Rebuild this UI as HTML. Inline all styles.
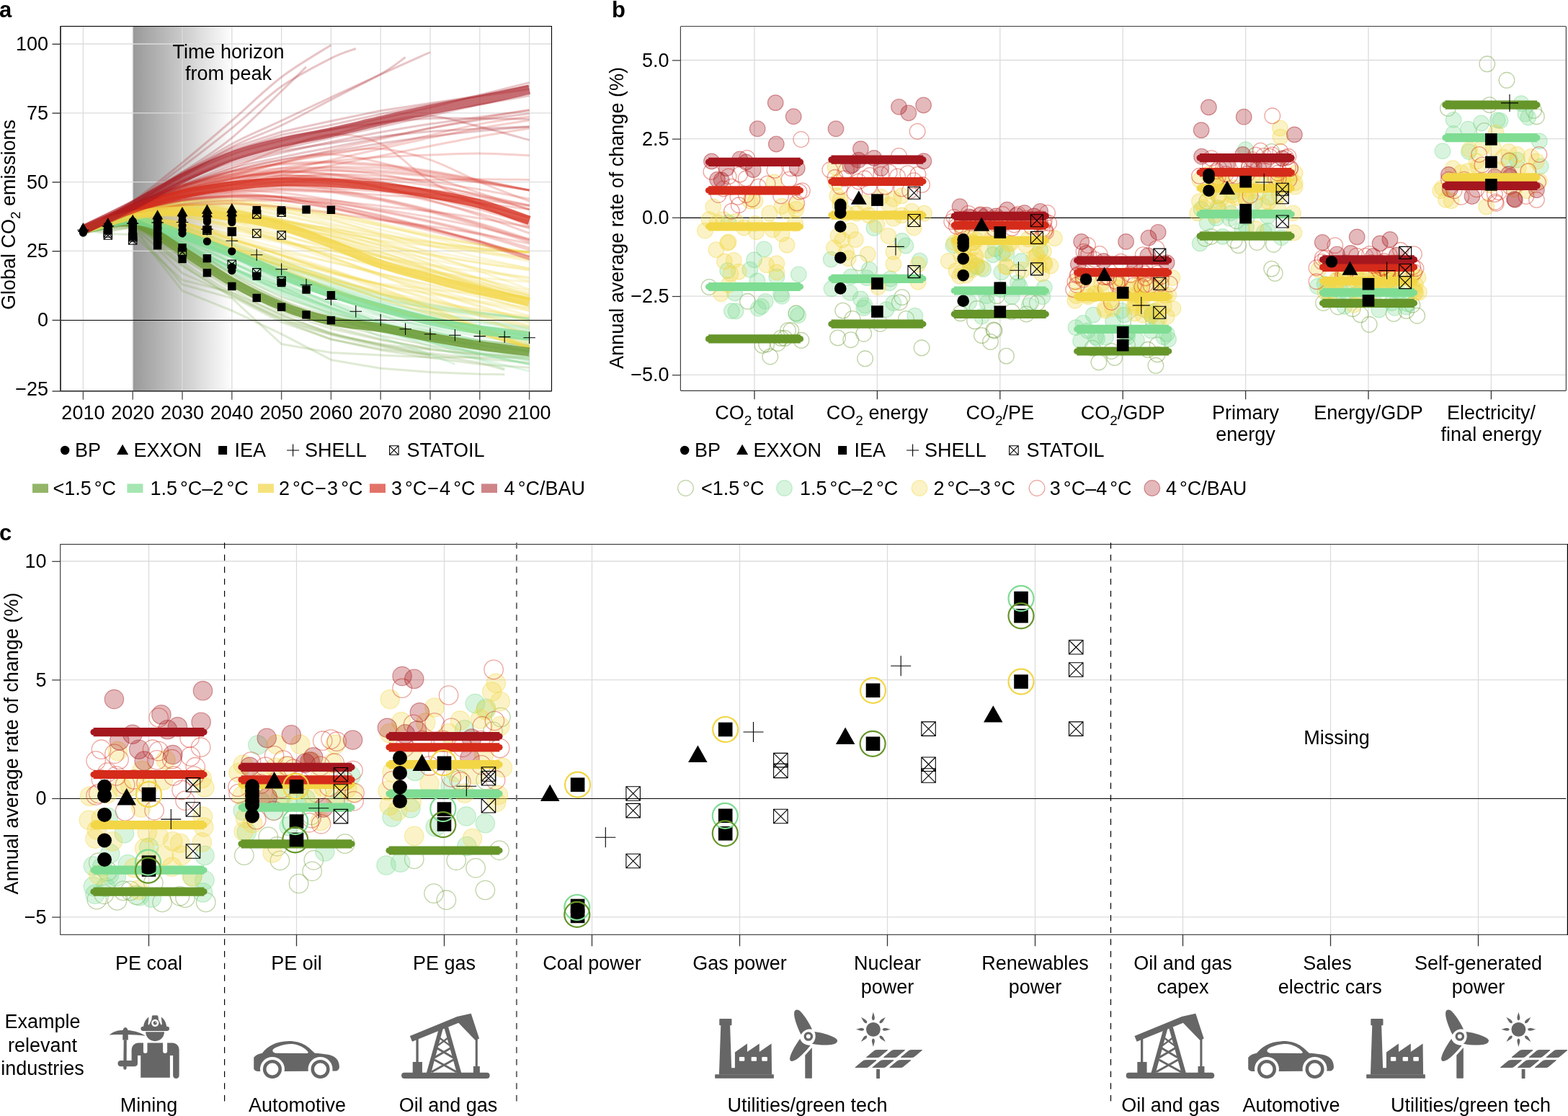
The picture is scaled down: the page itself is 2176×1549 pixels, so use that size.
<!DOCTYPE html>
<html lang="en"><head><meta charset="utf-8"><title>Figure</title>
<style>
html,body{margin:0;padding:0;background:#fff;}
body{width:2176px;height:1549px;overflow:hidden;}
svg{display:block;font-family:'Liberation Sans', Arial, Helvetica, sans-serif;}
text{fill:#000;}
</style></head><body>
<svg width="2176" height="1549" viewBox="0 0 2176 1549">
<defs>
<linearGradient id="gh" x1="0" x2="1" y1="0" y2="0">
<stop offset="0" stop-color="#999"/><stop offset="0.25" stop-color="#b2b2b2"/><stop offset="0.5" stop-color="#cbcbcb"/><stop offset="0.75" stop-color="#e6e6e6"/><stop offset="1" stop-color="#fff"/>
</linearGradient>
</defs>
<rect width="2176" height="1549" fill="#fff"/>
<g id="panel-a">
<text x="-1" y="23.5" text-anchor="start" font-size="31" font-weight="bold" >a</text>
<rect x="184.2" y="36.5" width="139.6" height="506.2" fill="url(#gh)" stroke="none" stroke-width="1" />
<line x1="115.4" y1="36.5" x2="115.4" y2="542.7" stroke="#dcdcdc" stroke-width="1.3" />
<line x1="184.2" y1="36.5" x2="184.2" y2="542.7" stroke="#dcdcdc" stroke-width="1.3" />
<line x1="253" y1="36.5" x2="253" y2="542.7" stroke="#dcdcdc" stroke-width="1.3" />
<line x1="321.8" y1="36.5" x2="321.8" y2="542.7" stroke="#dcdcdc" stroke-width="1.3" />
<line x1="390.6" y1="36.5" x2="390.6" y2="542.7" stroke="#dcdcdc" stroke-width="1.3" />
<line x1="459.4" y1="36.5" x2="459.4" y2="542.7" stroke="#dcdcdc" stroke-width="1.3" />
<line x1="528.2" y1="36.5" x2="528.2" y2="542.7" stroke="#dcdcdc" stroke-width="1.3" />
<line x1="597" y1="36.5" x2="597" y2="542.7" stroke="#dcdcdc" stroke-width="1.3" />
<line x1="665.8" y1="36.5" x2="665.8" y2="542.7" stroke="#dcdcdc" stroke-width="1.3" />
<line x1="734.6" y1="36.5" x2="734.6" y2="542.7" stroke="#dcdcdc" stroke-width="1.3" />
<line x1="84" y1="348.4" x2="765.5" y2="348.4" stroke="#dcdcdc" stroke-width="1.3" />
<line x1="84" y1="252.6" x2="765.5" y2="252.6" stroke="#dcdcdc" stroke-width="1.3" />
<line x1="84" y1="156.8" x2="765.5" y2="156.8" stroke="#dcdcdc" stroke-width="1.3" />
<line x1="84" y1="61" x2="765.5" y2="61" stroke="#dcdcdc" stroke-width="1.3" />
<clipPath id="clipa"><rect x="84" y="36.5" width="681.5" height="506.20000000000005"/></clipPath>
<g clip-path="url(#clipa)" fill="none" stroke-linejoin="round">
<path d="M115.4 318.9L149.8 319.7L184.2 314.7L253 394.8L321.8 413.9L390.6 477.5L459.4 489.4L528.2 492.9L597 495.9L665.8 495.9L734.6 495.9" stroke="#66952a" stroke-opacity="0.2" stroke-width="3"/><path d="M115.4 318.9L149.8 321.6L184.2 315.8L253 403.6L321.8 431.2L390.6 463.7L459.4 499.4L528.2 511.3L597 516.6L665.8 519.3L700.2 519.7" stroke="#66952a" stroke-opacity="0.2" stroke-width="3"/><path d="M115.4 318.9L149.8 324.6L184.2 325.4L253 388.6L321.8 405.9L390.6 436.5L459.4 463.4L528.2 478.7L597 490.2L665.8 497.8L734.6 503.6" stroke="#66952a" stroke-opacity="0.2" stroke-width="3"/><path d="M115.4 318.9L149.8 317.7L184.2 312L253 379.1L321.8 409.7L390.6 444.2L459.4 471L528.2 484.4L597 492.1L665.8 503.6L700.2 513.2" stroke="#66952a" stroke-opacity="0.2" stroke-width="3"/><path d="M115.4 318.9C126.9 317.8 161.3 305.6 184.2 312.1C207.1 318.6 230.1 343.1 253 358C275.9 372.9 298.9 388.3 321.8 401.5C344.7 414.7 367.7 427.2 390.6 437.3C413.5 447.3 436.5 454.6 459.4 461.6C482.3 468.5 505.3 473.6 528.2 478.8C551.1 484 585.5 490.4 597 492.7" stroke="#66952a" stroke-opacity="0.2" stroke-width="3"/><path d="M115.4 318.9L184.2 315.2L253 369.1L321.8 411.9L390.6 447.1L459.4 470.8L528.2 485.9L597 496.6L665.8 505.4L734.6 510.3" stroke="#66952a" stroke-opacity="0.2" stroke-width="3"/><path d="M115.4 318.9C126.9 318.2 161.3 306.7 184.2 314.8C207.1 322.9 230.1 351.7 253 367.4C275.9 383.1 298.9 396.3 321.8 408.8C344.7 421.3 367.7 433.2 390.6 442.6C413.5 451.9 436.5 458.4 459.4 464.8C482.3 471.2 505.3 475.9 528.2 480.8C551.1 485.6 585.5 491.6 597 493.8" stroke="#66952a" stroke-opacity="0.2" stroke-width="3"/><path d="M115.4 318.9L184.2 309.1L253 347.2L321.8 391.4L390.6 427.9L459.4 452.9L528.2 470.6L597 484.7" stroke="#66952a" stroke-opacity="0.2" stroke-width="3"/><path d="M115.4 318.9C126.9 316.7 161.3 303.2 184.2 306C207.1 308.8 230.1 323.3 253 335.7C275.9 348 298.9 366.6 321.8 380.2C344.7 393.7 367.7 406.7 390.6 417C413.5 427.4 436.5 435.5 459.4 442.4C482.3 449.3 505.3 454 528.2 458.6C551.1 463.2 574.1 466.7 597 469.9C619.9 473.2 654.3 476.7 665.8 478.1" stroke="#66952a" stroke-opacity="0.2" stroke-width="3"/><path d="M115.4 318.9L184.2 308L253 343L321.8 387L390.6 423.3L459.4 448.2L528.2 465.6L597 479.5L665.8 490.7L734.6 498.9" stroke="#66952a" stroke-opacity="0.2" stroke-width="3"/><path d="M115.4 318.9C126.9 317 161.3 303.9 184.2 307.6C207.1 311.4 230.1 328.7 253 341.2C275.9 353.7 298.9 370.1 321.8 382.6C344.7 395.1 367.7 407 390.6 416.3C413.5 425.7 436.5 432.4 459.4 438.6C482.3 444.8 505.3 449.2 528.2 453.7C551.1 458.1 574.1 461.9 597 465.2C619.9 468.5 642.9 471.1 665.8 473.4C688.7 475.7 723.1 478.3 734.6 479.2" stroke="#66952a" stroke-opacity="0.2" stroke-width="3"/><path d="M115.4 318.9L184.2 306.9L253 338.4L321.8 379.2L390.6 412.4L459.4 434.1L528.2 449.9L597 463.1L665.8 472.8L734.6 480.3" stroke="#66952a" stroke-opacity="0.2" stroke-width="3"/><path d="M115.4 318.9C126.9 318 161.3 306.3 184.2 313.8C207.1 321.2 230.1 348.4 253 363.8C275.9 379.2 298.9 393.2 321.8 406C344.7 418.7 367.7 430.9 390.6 440.4C413.5 450 436.5 457.3 459.4 463.4C482.3 469.5 505.3 473.3 528.2 477C551.1 480.7 574.1 483.1 597 485.5C619.9 488 642.9 490 665.8 491.5C688.7 492.9 723.1 493.7 734.6 494.2" stroke="#66952a" stroke-opacity="0.2" stroke-width="3"/><path d="M115.4 318.9L184.2 311.9L253 356.9L321.8 398.9L390.6 433.3L459.4 456.2L528.2 471.9L597 484L665.8 493.6" stroke="#66952a" stroke-opacity="0.2" stroke-width="3"/>
<path d="M115.4 318.9C126.9 316.8 161.3 303.2 184.2 306.2C207.1 309.2 230.1 326 253 336.9C275.9 347.8 298.9 359.9 321.8 371.4C344.7 382.9 367.7 395 390.6 405.9C413.5 416.7 436.5 426.3 459.4 436.5C482.3 446.8 505.3 457.9 528.2 467.2C551.1 476.5 579.8 485.7 597 492.1C614.2 498.5 625.7 503.3 631.4 505.5" stroke="#7fdc93" stroke-opacity="0.25" stroke-width="3"/><path d="M115.4 318.9C126.9 316.5 161.3 302.6 184.2 304.3C207.1 306.1 230.1 319.3 253 329.2C275.9 339.1 298.9 352.2 321.8 363.7C344.7 375.2 367.7 387.4 390.6 398.2C413.5 409.1 436.5 419.3 459.4 428.9C482.3 438.5 505.3 447.1 528.2 455.7C551.1 464.3 574.1 473.3 597 480.6C619.9 487.9 648.6 494.5 665.8 499.8C683 505 694.5 510 700.2 512" stroke="#7fdc93" stroke-opacity="0.25" stroke-width="3"/><path d="M115.4 318.9C126.9 316.5 161.3 303.2 184.2 304.3C207.1 305.4 230.1 316.8 253 325.4C275.9 334 298.9 345.2 321.8 356.1C344.7 366.9 367.7 379.7 390.6 390.6C413.5 401.4 436.5 411.6 459.4 421.2C482.3 430.8 505.3 439.1 528.2 448C551.1 457 574.1 466.6 597 474.9C619.9 483.2 642.9 491.1 665.8 497.8C688.7 504.6 723.1 512.2 734.6 515.1" stroke="#7fdc93" stroke-opacity="0.25" stroke-width="3"/><path d="M115.4 318.9L184.2 306.8L253 333.8L321.8 364.5L390.6 389.6L459.4 411.9L528.2 431.7L597 443.6L665.8 452.9L734.6 459.2" stroke="#7fdc93" stroke-opacity="0.25" stroke-width="3"/><path d="M115.4 318.9C126.9 316.5 161.3 303.4 184.2 304.7C207.1 306.1 230.1 318.9 253 327.1C275.9 335.2 298.9 345.6 321.8 353.8C344.7 362 367.7 369 390.6 376.2C413.5 383.4 436.5 389.8 459.4 396.8C482.3 403.7 505.3 412 528.2 418C551.1 424 574.1 428.4 597 432.8C619.9 437.2 642.9 440.9 665.8 444.4C688.7 447.9 723.1 452.2 734.6 453.8" stroke="#7fdc93" stroke-opacity="0.25" stroke-width="3"/><path d="M115.4 318.9C126.9 316.6 161.3 303.6 184.2 305.3C207.1 307.1 230.1 320.2 253 329.3C275.9 338.4 298.9 350.4 321.8 360C344.7 369.6 367.7 378.2 390.6 386.8C413.5 395.4 436.5 404.1 459.4 411.6C482.3 419.2 505.3 426.8 528.2 432C551.1 437.3 574.1 439.9 597 443.2C619.9 446.4 654.3 450.2 665.8 451.7" stroke="#7fdc93" stroke-opacity="0.25" stroke-width="3"/><path d="M115.4 318.9C126.9 316.4 161.3 302.8 184.2 303.7C207.1 304.6 230.1 316 253 324.4C275.9 332.9 298.9 344.8 321.8 354.5C344.7 364.1 367.7 373.3 390.6 382.4C413.5 391.5 436.5 400.3 459.4 409.2C482.3 418.1 505.3 427.9 528.2 435.5C551.1 443.2 574.1 448.7 597 455C619.9 461.3 642.9 467.6 665.8 473.1C688.7 478.7 723.1 486 734.6 488.5" stroke="#7fdc93" stroke-opacity="0.25" stroke-width="3"/><path d="M115.4 318.9L184.2 302.2L253 319.6L321.8 347.1L390.6 373.8L459.4 399.8L528.2 424.3L597 440.6L665.8 454.4L734.6 465.8" stroke="#7fdc93" stroke-opacity="0.25" stroke-width="3"/><path d="M115.4 318.9L184.2 305.7L253 330.9L321.8 365.7L390.6 397.4L459.4 427.3L528.2 452.3L597 468.2L665.8 483.4" stroke="#7fdc93" stroke-opacity="0.25" stroke-width="3"/><path d="M115.4 318.9C126.9 317 161.3 304.7 184.2 307.7C207.1 310.7 230.1 326.4 253 336.9C275.9 347.3 298.9 360.3 321.8 370.5C344.7 380.8 367.7 389.5 390.6 398.2C413.5 406.9 436.5 414.8 459.4 422.9C482.3 431.1 505.3 440.1 528.2 447.1C551.1 454.1 574.1 459.1 597 465C619.9 470.8 654.3 479.3 665.8 482.1" stroke="#7fdc93" stroke-opacity="0.25" stroke-width="3"/><path d="M115.4 318.9C126.9 317 161.3 304.5 184.2 307.4C207.1 310.3 230.1 325.5 253 336.3C275.9 347.2 298.9 361.3 321.8 372.6C344.7 383.8 367.7 393.9 390.6 403.9C413.5 413.9 436.5 423.6 459.4 432.6C482.3 441.5 505.3 450.6 528.2 457.7C551.1 464.8 574.1 469.2 597 474.9C619.9 480.6 642.9 486.9 665.8 492C688.7 497.1 723.1 503.3 734.6 505.5" stroke="#7fdc93" stroke-opacity="0.25" stroke-width="3"/><path d="M115.4 318.9L184.2 300.6L253 314.4L321.8 338L390.6 361.6L459.4 385.2L528.2 407.9L597 422.6L665.8 433.4L734.6 442.3" stroke="#7fdc93" stroke-opacity="0.25" stroke-width="3"/><path d="M115.4 318.9L184.2 308.6L253 340.1L321.8 377.1L390.6 407.9L459.4 435.5L528.2 456.9L597 468.7L665.8 479.7L734.6 486.9" stroke="#7fdc93" stroke-opacity="0.25" stroke-width="3"/><path d="M115.4 318.9L184.2 307.4L253 336.1L321.8 371.9L390.6 402.7L459.4 430.8L528.2 456.1L597 473.9L665.8 491.4L734.6 505.5" stroke="#7fdc93" stroke-opacity="0.25" stroke-width="3"/><path d="M115.4 318.9C126.9 317.2 161.3 305.3 184.2 308.9C207.1 312.4 230.1 329.6 253 340.2C275.9 350.8 298.9 363.1 321.8 372.6C344.7 382 367.7 389.5 390.6 397.1C413.5 404.7 436.5 411 459.4 418C482.3 425 505.3 432.9 528.2 438.8C551.1 444.8 574.1 449.1 597 453.7C619.9 458.4 642.9 463.1 665.8 467C688.7 470.9 723.1 475.4 734.6 477.1" stroke="#7fdc93" stroke-opacity="0.25" stroke-width="3"/><path d="M115.4 318.9C126.9 316.7 161.3 303.8 184.2 305.7C207.1 307.6 230.1 321.5 253 330.1C275.9 338.6 298.9 349.1 321.8 357.3C344.7 365.4 367.7 372.2 390.6 379.1C413.5 386 436.5 391.9 459.4 398.7C482.3 405.4 505.3 413.5 528.2 419.4C551.1 425.4 574.1 429.8 597 434.3C619.9 438.7 642.9 442.5 665.8 446.1C688.7 449.6 723.1 454 734.6 455.5" stroke="#7fdc93" stroke-opacity="0.25" stroke-width="3"/><path d="M115.4 318.9L184.2 306.3L253 332.5L321.8 365.4L390.6 393.9L459.4 420.2L528.2 443.9L597 459.9L665.8 474.7L734.6 486.4" stroke="#7fdc93" stroke-opacity="0.25" stroke-width="3"/><path d="M115.4 318.9L184.2 300.6L253 314.6L321.8 339.8L390.6 365.4L459.4 391.1L528.2 414.2L597 428L665.8 438.5L734.6 446.6" stroke="#7fdc93" stroke-opacity="0.25" stroke-width="3"/><path d="M115.4 318.9L184.2 304.7L253 326.9L321.8 354.5L390.6 378.2L459.4 400.1L528.2 423.2L597 440.4L665.8 455.2L734.6 467.6" stroke="#7fdc93" stroke-opacity="0.25" stroke-width="3"/><path d="M115.4 318.9C126.9 317.1 161.3 304.9 184.2 308.1C207.1 311.3 230.1 327.3 253 338.2C275.9 349.1 298.9 362.8 321.8 373.6C344.7 384.3 367.7 393.6 390.6 402.9C413.5 412.2 436.5 420.8 459.4 429.2C482.3 437.6 505.3 446.4 528.2 453.2C551.1 460 574.1 464.5 597 470.1C619.9 475.6 642.9 481.6 665.8 486.5C688.7 491.3 723.1 497.2 734.6 499.4" stroke="#7fdc93" stroke-opacity="0.25" stroke-width="3"/><path d="M115.4 318.9C126.9 316.7 161.3 303.6 184.2 305.5C207.1 307.4 230.1 320.6 253 330.3C275.9 340 298.9 353.2 321.8 363.8C344.7 374.4 367.7 384.2 390.6 393.9C413.5 403.6 436.5 413.1 459.4 422.1C482.3 431.1 505.3 440.6 528.2 447.9C551.1 455.2 574.1 460 597 465.9C619.9 471.8 642.9 478 665.8 483.3C688.7 488.5 723.1 495.1 734.6 497.4" stroke="#7fdc93" stroke-opacity="0.25" stroke-width="3"/><path d="M115.4 318.9C126.9 316.9 161.3 304.4 184.2 307.1C207.1 309.8 230.1 324.7 253 335.1C275.9 345.6 298.9 359.1 321.8 369.8C344.7 380.5 367.7 390 390.6 399.5C413.5 408.9 436.5 417.8 459.4 426.6C482.3 435.4 505.3 444.8 528.2 452.3C551.1 459.8 574.1 465 597 471.3C619.9 477.6 642.9 484.4 665.8 490.1C688.7 495.8 723.1 502.9 734.6 505.5" stroke="#7fdc93" stroke-opacity="0.25" stroke-width="3"/><path d="M115.4 318.9C126.9 316.3 161.3 302.7 184.2 303.5C207.1 304.2 230.1 315.3 253 323.5C275.9 331.6 298.9 343 321.8 352.3C344.7 361.6 367.7 370.3 390.6 379.1C413.5 387.8 436.5 396.7 459.4 404.7C482.3 412.8 505.3 421.3 528.2 427.3C551.1 433.4 574.1 437 597 441.1C619.9 445.3 642.9 449 665.8 452.3C688.7 455.6 723.1 459.4 734.6 460.8" stroke="#7fdc93" stroke-opacity="0.25" stroke-width="3"/><path d="M115.4 318.9C126.9 316.3 161.3 302.8 184.2 303.5C207.1 304.2 230.1 315.7 253 323C275.9 330.4 298.9 339.9 321.8 347.6C344.7 355.2 367.7 362 390.6 368.9C413.5 375.8 436.5 382 459.4 388.8C482.3 395.6 505.3 403.8 528.2 409.6C551.1 415.4 574.1 419.6 597 423.7C619.9 427.8 642.9 430.9 665.8 434C688.7 437.1 723.1 440.9 734.6 442.3" stroke="#7fdc93" stroke-opacity="0.25" stroke-width="3"/><path d="M115.4 318.9C126.9 317.3 161.3 305.4 184.2 309.2C207.1 313 230.1 330.3 253 341.5C275.9 352.7 298.9 365.9 321.8 376.2C344.7 386.5 367.7 394.9 390.6 403.4C413.5 411.8 436.5 419.6 459.4 426.9C482.3 434.3 505.3 441.9 528.2 447.4C551.1 453 574.1 456.3 597 460.4C619.9 464.5 642.9 468.6 665.8 471.9C688.7 475.2 723.1 478.7 734.6 480.1" stroke="#7fdc93" stroke-opacity="0.25" stroke-width="3"/><path d="M115.4 318.9C126.9 317.1 161.3 304.8 184.2 307.9C207.1 311.1 230.1 327 253 337.7C275.9 348.4 298.9 361.8 321.8 372.3C344.7 382.9 367.7 391.9 390.6 401C413.5 410 436.5 418.5 459.4 426.6C482.3 434.6 505.3 443 528.2 449.3C551.1 455.6 574.1 459.5 597 464.3C619.9 469.2 642.9 474.2 665.8 478.4C688.7 482.5 723.1 487.3 734.6 489.1" stroke="#7fdc93" stroke-opacity="0.25" stroke-width="3"/><path d="M115.4 318.9C126.9 316.2 161.3 302.3 184.2 302.5C207.1 302.8 230.1 313.1 253 320.4C275.9 327.7 298.9 338 321.8 346.4C344.7 354.8 367.7 362.8 390.6 370.8C413.5 378.8 436.5 386.9 459.4 394.3C482.3 401.7 505.3 409.8 528.2 415.3C551.1 420.9 574.1 424.1 597 427.5C619.9 431 642.9 433.6 665.8 436.1C688.7 438.5 723.1 441.2 734.6 442.3" stroke="#7fdc93" stroke-opacity="0.25" stroke-width="3"/><path d="M115.4 318.9C126.9 316.1 161.3 302.2 184.2 302.4C207.1 302.6 230.1 312.6 253 320.2C275.9 327.8 298.9 338.9 321.8 348.1C344.7 357.2 367.7 366.1 390.6 374.9C413.5 383.8 436.5 392.6 459.4 401.2C482.3 409.8 505.3 419.2 528.2 426.3C551.1 433.4 574.1 438.3 597 443.8C619.9 449.2 642.9 454.4 665.8 459.1C688.7 463.7 723.1 469.7 734.6 471.8" stroke="#7fdc93" stroke-opacity="0.25" stroke-width="3"/><path d="M115.4 318.9L184.2 302.5L253 320.5L321.8 348.2L390.6 374.6L459.4 400.3L528.2 423.2L597 437.2L665.8 448.5L734.6 457.1" stroke="#7fdc93" stroke-opacity="0.25" stroke-width="3"/><path d="M115.4 318.9L184.2 302.3L253 319.7L321.8 344.9L390.6 368.5L459.4 391.3L528.2 412.6L597 425.7L665.8 435.1L734.6 442.3" stroke="#7fdc93" stroke-opacity="0.25" stroke-width="3"/><path d="M115.4 318.9C126.9 317.3 161.3 305.3 184.2 309.1C207.1 312.9 230.1 329.9 253 341.5C275.9 353.2 298.9 367.7 321.8 379.1C344.7 390.6 367.7 400.3 390.6 410.1C413.5 419.9 436.5 429.2 459.4 437.7C482.3 446.1 505.3 454.4 528.2 460.7C551.1 467 574.1 470.6 597 475.5C619.9 480.4 642.9 485.8 665.8 490C688.7 494.2 723.1 499 734.6 500.8" stroke="#7fdc93" stroke-opacity="0.25" stroke-width="3"/><path d="M115.4 318.9C126.9 316.5 161.3 303 184.2 304.2C207.1 305.4 230.1 317.3 253 326C275.9 334.7 298.9 346.7 321.8 356.4C344.7 366.1 367.7 375.1 390.6 384.1C413.5 393.1 436.5 401.6 459.4 410.5C482.3 419.4 505.3 429.5 528.2 437.4C551.1 445.4 574.1 451.5 597 458.3C619.9 465.1 642.9 472 665.8 478.2C688.7 484.3 723.1 492.4 734.6 495.3" stroke="#7fdc93" stroke-opacity="0.25" stroke-width="3"/><path d="M115.4 318.9L184.2 302.1L253 319.3L321.8 347.6L390.6 375.5L459.4 402.8L528.2 428.5L597 446L665.8 461.5L734.6 474.4" stroke="#7fdc93" stroke-opacity="0.25" stroke-width="3"/>
<path d="M115.4 318.9L184.2 294.5L253 284.1L321.8 283.8L390.6 293.2L459.4 305.8L528.2 322.9L597 341L665.8 357.6L734.6 372.9" stroke="#f2d646" stroke-opacity="0.23" stroke-width="3"/><path d="M115.4 318.9C126.9 314.7 161.3 299.9 184.2 293.7C207.1 287.5 230.1 284 253 281.7C275.9 279.3 298.9 278.3 321.8 279.3C344.7 280.3 367.7 284.2 390.6 287.5C413.5 290.8 436.5 294.7 459.4 299.1C482.3 303.5 505.3 308.9 528.2 313.7C551.1 318.5 574.1 323.5 597 327.9C619.9 332.3 642.9 336.4 665.8 340.1C688.7 343.9 723.1 348.6 734.6 350.3" stroke="#f2d646" stroke-opacity="0.23" stroke-width="3"/><path d="M115.4 318.9L184.2 306.9L253 317.7L321.8 343L390.6 364.7L459.4 384.5L528.2 406.8L597 431.6L665.8 456.8L734.6 482.5" stroke="#f2d646" stroke-opacity="0.23" stroke-width="3"/><path d="M115.4 318.9C126.9 315.6 161.3 302.8 184.2 299.1C207.1 295.4 230.1 295.4 253 296.6C275.9 297.8 298.9 302.2 321.8 306.2C344.7 310.2 367.7 315.6 390.6 320.6C413.5 325.7 436.5 330.7 459.4 336.4C482.3 342.1 505.3 348.5 528.2 354.7C551.1 360.9 574.1 367.5 597 373.6C619.9 379.7 642.9 385.7 665.8 391.5C688.7 397.3 723.1 405.7 734.6 408.5" stroke="#f2d646" stroke-opacity="0.23" stroke-width="3"/><path d="M115.4 318.9L184.2 299L253 296.2L321.8 303.5L390.6 315L459.4 327.3L528.2 345.5L597 366.7L665.8 387.1L734.6 406.8" stroke="#f2d646" stroke-opacity="0.23" stroke-width="3"/><path d="M115.4 318.9C126.9 315.7 161.3 303.1 184.2 299.8C207.1 296.4 230.1 296.5 253 298.8C275.9 301 298.9 307.6 321.8 313.4C344.7 319.3 367.7 326.7 390.6 333.9C413.5 341 436.5 348.2 459.4 356.3C482.3 364.3 505.3 373.3 528.2 382.3C551.1 391.3 574.1 400.8 597 410.1C619.9 419.4 642.9 428.7 665.8 438.2C688.7 447.6 723.1 462.2 734.6 467" stroke="#f2d646" stroke-opacity="0.23" stroke-width="3"/><path d="M115.4 318.9C126.9 316.8 161.3 306.9 184.2 306.6C207.1 306.3 230.1 311 253 317.2C275.9 323.5 298.9 335.6 321.8 344.3C344.7 352.9 367.7 361 390.6 369C413.5 377 436.5 385.8 459.4 392.3C482.3 398.9 505.3 403.9 528.2 408.5C551.1 413.1 574.1 416.3 597 419.9C619.9 423.5 642.9 427 665.8 430.2C688.7 433.5 723.1 437.7 734.6 439.2" stroke="#f2d646" stroke-opacity="0.23" stroke-width="3"/><path d="M115.4 318.9L184.2 305.2L253 313.3L321.8 336.6L390.6 358.8L459.4 380.1L528.2 393.6L597 401.5L665.8 407.9L734.6 412.3" stroke="#f2d646" stroke-opacity="0.23" stroke-width="3"/><path d="M115.4 318.9C126.9 315.8 161.3 303.6 184.2 300.5C207.1 297.4 230.1 298.4 253 300.3C275.9 302.2 298.9 307.6 321.8 312.1C344.7 316.6 367.7 322 390.6 327.2C413.5 332.3 436.5 337.9 459.4 342.8C482.3 347.7 505.3 352.4 528.2 356.5C551.1 360.7 574.1 364.3 597 367.8C619.9 371.2 642.9 374.4 665.8 377.3C688.7 380.2 723.1 383.6 734.6 384.9" stroke="#f2d646" stroke-opacity="0.23" stroke-width="3"/><path d="M115.4 318.9C126.9 315 161.3 300.7 184.2 295.4C207.1 290 230.1 287.4 253 286.7C275.9 286.1 298.9 288.2 321.8 291.5C344.7 294.8 367.7 300.9 390.6 306.5C413.5 312.1 436.5 318 459.4 325.1C482.3 332.1 505.3 340.5 528.2 348.7C551.1 356.9 574.1 365.8 597 374.3C619.9 382.7 642.9 391 665.8 399.4C688.7 407.7 723.1 420.3 734.6 424.5" stroke="#f2d646" stroke-opacity="0.23" stroke-width="3"/><path d="M115.4 318.9C126.9 315.4 161.3 302.3 184.2 298C207.1 293.7 230.1 293.4 253 293.3C275.9 293.3 298.9 295.4 321.8 297.7C344.7 300 367.7 303.7 390.6 307C413.5 310.3 436.5 313.6 459.4 317.4C482.3 321.1 505.3 325.5 528.2 329.4C551.1 333.3 574.1 337.4 597 340.8C619.9 344.3 642.9 347.5 665.8 350.3C688.7 353 723.1 356.3 734.6 357.5" stroke="#f2d646" stroke-opacity="0.23" stroke-width="3"/><path d="M115.4 318.9C126.9 314.9 161.3 300.3 184.2 294.7C207.1 289.1 230.1 285.7 253 285.2C275.9 284.7 298.9 287.6 321.8 291.8C344.7 296.1 367.7 303.7 390.6 310.8C413.5 317.9 436.5 326.7 459.4 334.3C482.3 341.9 505.3 349.6 528.2 356.4C551.1 363.2 574.1 369.1 597 375.3C619.9 381.4 642.9 387.4 665.8 393.2C688.7 399.1 723.1 407.5 734.6 410.4" stroke="#f2d646" stroke-opacity="0.23" stroke-width="3"/><path d="M115.4 318.9C126.9 314.9 161.3 300.5 184.2 294.8C207.1 289.1 230.1 286.5 253 284.6C275.9 282.6 298.9 282 321.8 282.9C344.7 283.8 367.7 287.1 390.6 289.8C413.5 292.5 436.5 295.4 459.4 299.3C482.3 303.2 505.3 308.4 528.2 313.1C551.1 317.7 574.1 323 597 327.5C619.9 331.9 642.9 336.1 665.8 339.9C688.7 343.7 723.1 348.6 734.6 350.3" stroke="#f2d646" stroke-opacity="0.23" stroke-width="3"/><path d="M115.4 318.9L184.2 305.9L253 315.4L321.8 341.8L390.6 367L459.4 391.4L528.2 414.4L597 436.9L665.8 459.5L734.6 482.5" stroke="#f2d646" stroke-opacity="0.23" stroke-width="3"/><path d="M115.4 318.9C126.9 316.9 161.3 307.2 184.2 307.2C207.1 307.2 230.1 312.4 253 318.8C275.9 325.1 298.9 337 321.8 345.2C344.7 353.3 367.7 360.6 390.6 367.8C413.5 375 436.5 382 459.4 388.4C482.3 394.7 505.3 400.4 528.2 406.1C551.1 411.7 574.1 416.9 597 422.2C619.9 427.5 642.9 432.7 665.8 437.8C688.7 442.8 723.1 450.2 734.6 452.7" stroke="#f2d646" stroke-opacity="0.23" stroke-width="3"/><path d="M115.4 318.9L184.2 296.3L253 288.9L321.8 293.3L390.6 305.9L459.4 321.2L528.2 333.5L597 341.6L665.8 347.3L734.6 350.3" stroke="#f2d646" stroke-opacity="0.23" stroke-width="3"/><path d="M115.4 318.9L184.2 307.5L253 319.9L321.8 349.9L390.6 377.1L459.4 402.8L528.2 424.4L597 443.8L665.8 463.1L734.6 482.5" stroke="#f2d646" stroke-opacity="0.23" stroke-width="3"/><path d="M115.4 318.9C126.9 314.8 161.3 300.2 184.2 294.5C207.1 288.7 230.1 285.2 253 284.5C275.9 283.7 298.9 286.2 321.8 290.1C344.7 294 367.7 301.2 390.6 308C413.5 314.7 436.5 322.9 459.4 330.5C482.3 338.1 505.3 346.2 528.2 353.6C551.1 361.1 574.1 368.1 597 375.2C619.9 382.2 642.9 389.1 665.8 396C688.7 402.8 723.1 412.9 734.6 416.3" stroke="#f2d646" stroke-opacity="0.23" stroke-width="3"/><path d="M115.4 318.9C126.9 315.6 161.3 302.6 184.2 298.9C207.1 295.1 230.1 294.5 253 296.5C275.9 298.5 298.9 304.9 321.8 310.9C344.7 317 367.7 325.1 390.6 332.8C413.5 340.6 436.5 349.5 459.4 357.4C482.3 365.2 505.3 372.8 528.2 379.9C551.1 387 574.1 393.3 597 399.8C619.9 406.4 642.9 412.8 665.8 419.2C688.7 425.6 723.1 435 734.6 438.2" stroke="#f2d646" stroke-opacity="0.23" stroke-width="3"/><path d="M115.4 318.9C126.9 315 161.3 301 184.2 295.8C207.1 290.6 230.1 288.3 253 287.7C275.9 287.1 298.9 289.2 321.8 292.2C344.7 295.2 367.7 300.8 390.6 305.9C413.5 311 436.5 317.3 459.4 322.8C482.3 328.3 505.3 334 528.2 339C551.1 344 574.1 348.4 597 352.7C619.9 357 642.9 361 665.8 364.7C688.7 368.4 723.1 373.2 734.6 374.9" stroke="#f2d646" stroke-opacity="0.23" stroke-width="3"/><path d="M115.4 318.9C126.9 314.9 161.3 300.5 184.2 294.7C207.1 289 230.1 286.5 253 284.4C275.9 282.2 298.9 281.3 321.8 281.9C344.7 282.5 367.7 285.5 390.6 287.9C413.5 290.3 436.5 292.6 459.4 296.3C482.3 300 505.3 305.2 528.2 310.1C551.1 314.9 574.1 320.6 597 325.4C619.9 330.2 642.9 334.7 665.8 338.8C688.7 343 723.1 348.4 734.6 350.3" stroke="#f2d646" stroke-opacity="0.23" stroke-width="3"/><path d="M115.4 318.9C126.9 316.6 161.3 306 184.2 305.1C207.1 304.1 230.1 307.7 253 313.2C275.9 318.6 298.9 329.7 321.8 337.9C344.7 346.2 367.7 354.4 390.6 362.5C413.5 370.6 436.5 379.1 459.4 386.6C482.3 394 505.3 400.8 528.2 407.3C551.1 413.9 574.1 419.7 597 425.8C619.9 432 642.9 438 665.8 444.1C688.7 450.1 723.1 459 734.6 462" stroke="#f2d646" stroke-opacity="0.23" stroke-width="3"/><path d="M115.4 318.9L184.2 303.3L253 308.1L321.8 326.6L390.6 345.5L459.4 364.1L528.2 380.4L597 394.9L665.8 408.2L734.6 420.4" stroke="#f2d646" stroke-opacity="0.23" stroke-width="3"/><path d="M115.4 318.9C126.9 316.3 161.3 305.2 184.2 303.5C207.1 301.9 230.1 304.4 253 309C275.9 313.5 298.9 323.3 321.8 330.8C344.7 338.3 367.7 346.3 390.6 354C413.5 361.8 436.5 369.4 459.4 377.5C482.3 385.6 505.3 394 528.2 402.6C551.1 411.1 574.1 419.9 597 428.7C619.9 437.5 642.9 446.3 665.8 455.2C688.7 464.2 723.1 478 734.6 482.5" stroke="#f2d646" stroke-opacity="0.23" stroke-width="3"/><path d="M115.4 318.9L184.2 298.3L253 294.8L321.8 306.3L390.6 325.3L459.4 346.7L528.2 366.2L597 383L665.8 398.7L734.6 413.4" stroke="#f2d646" stroke-opacity="0.23" stroke-width="3"/><path d="M115.4 318.9C126.9 315.9 161.3 303.8 184.2 301C207.1 298.2 230.1 299.3 253 301.9C275.9 304.5 298.9 311.2 321.8 316.7C344.7 322.2 367.7 328.7 390.6 334.9C413.5 341.1 436.5 348.4 459.4 353.9C482.3 359.5 505.3 364.1 528.2 368C551.1 372 574.1 374.7 597 377.6C619.9 380.5 642.9 383.2 665.8 385.5C688.7 387.8 723.1 390.4 734.6 391.3" stroke="#f2d646" stroke-opacity="0.23" stroke-width="3"/><path d="M115.4 318.9C126.9 316.7 161.3 306.4 184.2 305.7C207.1 305 230.1 309 253 314.7C275.9 320.4 298.9 331.8 321.8 339.9C344.7 348.1 367.7 356.1 390.6 363.9C413.5 371.7 436.5 380.2 459.4 386.9C482.3 393.6 505.3 399.1 528.2 404.1C551.1 409.2 574.1 413.1 597 417.4C619.9 421.6 642.9 425.8 665.8 429.8C688.7 433.7 723.1 439.1 734.6 441" stroke="#f2d646" stroke-opacity="0.23" stroke-width="3"/><path d="M115.4 318.9C126.9 314.6 161.3 299.4 184.2 292.9C207.1 286.4 230.1 282.4 253 279.8C275.9 277.3 298.9 276.4 321.8 277.8C344.7 279.1 367.7 283.7 390.6 287.7C413.5 291.8 436.5 296.7 459.4 301.9C482.3 307.1 505.3 313.3 528.2 318.8C551.1 324.4 574.1 330 597 335.1C619.9 340.2 642.9 345.1 665.8 349.7C688.7 354.2 723.1 360.4 734.6 362.5" stroke="#f2d646" stroke-opacity="0.23" stroke-width="3"/><path d="M115.4 318.9C126.9 316.9 161.3 306.9 184.2 306.8C207.1 306.6 230.1 311.1 253 317.9C275.9 324.7 298.9 337.9 321.8 347.5C344.7 357.1 367.7 366.4 390.6 375.6C413.5 384.8 436.5 394.6 459.4 402.8C482.3 411.1 505.3 418.1 528.2 425C551.1 431.9 574.1 437.8 597 444.2C619.9 450.6 642.9 457 665.8 463.4C688.7 469.7 723.1 479.3 734.6 482.5" stroke="#f2d646" stroke-opacity="0.23" stroke-width="3"/><path d="M115.4 318.9L184.2 297.4L253 292L321.8 299.5L390.6 314.4L459.4 331.7L528.2 350.7L597 369.3L665.8 386.8L734.6 403.3" stroke="#f2d646" stroke-opacity="0.23" stroke-width="3"/><path d="M115.4 318.9L184.2 293.4L253 281.2L321.8 279.8L390.6 289.9L459.4 303.8L528.2 325.9L597 351.7L665.8 376.7L734.6 401.6" stroke="#f2d646" stroke-opacity="0.23" stroke-width="3"/><path d="M115.4 318.9C126.9 314.9 161.3 300.3 184.2 294.7C207.1 289.1 230.1 285.8 253 285.2C275.9 284.7 298.9 287.5 321.8 291.6C344.7 295.7 367.7 303.1 390.6 310.1C413.5 317 436.5 325.4 459.4 333.1C482.3 340.7 505.3 348.7 528.2 355.9C551.1 363.2 574.1 369.9 597 376.7C619.9 383.5 642.9 390.2 665.8 396.7C688.7 403.3 723.1 412.9 734.6 416.1" stroke="#f2d646" stroke-opacity="0.23" stroke-width="3"/><path d="M115.4 318.9C126.9 316.6 161.3 306.3 184.2 305.4C207.1 304.5 230.1 308.8 253 313.4C275.9 318 298.9 326.9 321.8 332.9C344.7 338.9 367.7 344.2 390.6 349.3C413.5 354.4 436.5 358.6 459.4 363.6C482.3 368.7 505.3 374.1 528.2 379.5C551.1 385 574.1 391 597 396.6C619.9 402.1 642.9 407.5 665.8 412.7C688.7 418 723.1 425.5 734.6 428.1" stroke="#f2d646" stroke-opacity="0.23" stroke-width="3"/><path d="M115.4 318.9C126.9 315.4 161.3 302.2 184.2 297.8C207.1 293.4 230.1 292.9 253 292.8C275.9 292.6 298.9 294.7 321.8 297C344.7 299.3 367.7 303.1 390.6 306.5C413.5 309.8 436.5 313.5 459.4 317.2C482.3 320.8 505.3 324.8 528.2 328.3C551.1 331.8 574.1 335.1 597 338C619.9 340.8 642.9 343.3 665.8 345.4C688.7 347.5 723.1 349.5 734.6 350.3" stroke="#f2d646" stroke-opacity="0.23" stroke-width="3"/><path d="M115.4 318.9L184.2 300.3L253 300L321.8 314.2L390.6 332.9L459.4 353L528.2 371.2L597 386.9L665.8 401.6L734.6 415.1" stroke="#f2d646" stroke-opacity="0.23" stroke-width="3"/><path d="M115.4 318.9L184.2 295.9L253 287.9L321.8 291.6L390.6 303.9L459.4 319L528.2 340.9L597 365.8L665.8 390.2L734.6 414.5" stroke="#f2d646" stroke-opacity="0.23" stroke-width="3"/><path d="M115.4 318.9C126.9 317.1 161.3 307.6 184.2 307.9C207.1 308.2 230.1 313.7 253 320.9C275.9 328.2 298.9 341.8 321.8 351.4C344.7 361 367.7 369.7 390.6 378.4C413.5 387.2 436.5 396 459.4 403.8C482.3 411.5 505.3 418.3 528.2 425C551.1 431.8 574.1 437.8 597 444.2C619.9 450.6 642.9 457 665.8 463.4C688.7 469.7 723.1 479.3 734.6 482.5" stroke="#f2d646" stroke-opacity="0.23" stroke-width="3"/><path d="M115.4 318.9L184.2 304.8L253 312.7L321.8 340.8L390.6 370.6L459.4 401L528.2 424.6L597 443.5L665.8 462.3L734.6 481.1" stroke="#f2d646" stroke-opacity="0.23" stroke-width="3"/><path d="M115.4 318.9C126.9 314.6 161.3 299.5 184.2 292.9C207.1 286.4 230.1 282.5 253 279.7C275.9 276.8 298.9 275.2 321.8 275.9C344.7 276.5 367.7 280.3 390.6 283.5C413.5 286.6 436.5 290.1 459.4 294.8C482.3 299.5 505.3 305.8 528.2 311.6C551.1 317.4 574.1 323.9 597 329.6C619.9 335.3 642.9 340.8 665.8 346C688.7 351.2 723.1 358.4 734.6 360.9" stroke="#f2d646" stroke-opacity="0.23" stroke-width="3"/><path d="M115.4 318.9C126.9 317 161.3 307.4 184.2 307.5C207.1 307.6 230.1 313.3 253 319.2C275.9 325.2 298.9 336.1 321.8 343.2C344.7 350.2 367.7 356 390.6 361.7C413.5 367.4 436.5 371.8 459.4 377.3C482.3 382.9 505.3 388.7 528.2 394.8C551.1 401 574.1 407.8 597 414.2C619.9 420.6 642.9 426.9 665.8 433.2C688.7 439.5 723.1 448.8 734.6 451.9" stroke="#f2d646" stroke-opacity="0.23" stroke-width="3"/><path d="M115.4 318.9C126.9 316.4 161.3 305.5 184.2 304.1C207.1 302.8 230.1 305.9 253 310.5C275.9 315.2 298.9 324.9 321.8 332.2C344.7 339.4 367.7 346.8 390.6 354C413.5 361.3 436.5 367.8 459.4 375.5C482.3 383.2 505.3 391.5 528.2 400.1C551.1 408.7 574.1 418 597 427C619.9 436 642.9 445.1 665.8 454.3C688.7 463.6 723.1 477.8 734.6 482.5" stroke="#f2d646" stroke-opacity="0.23" stroke-width="3"/><path d="M115.4 318.9C126.9 315.7 161.3 303.2 184.2 300C207.1 296.8 230.1 297 253 299.5C275.9 302.1 298.9 309.1 321.8 315.3C344.7 321.6 367.7 329.4 390.6 336.9C413.5 344.4 436.5 352.7 459.4 360.4C482.3 368.1 505.3 375.9 528.2 383.3C551.1 390.7 574.1 397.8 597 404.9C619.9 412 642.9 419.1 665.8 426.2C688.7 433.2 723.1 443.8 734.6 447.3" stroke="#f2d646" stroke-opacity="0.23" stroke-width="3"/><path d="M115.4 318.9L184.2 304L253 309.5L321.8 324.2L390.6 336.5L459.4 346.8L528.2 361.4L597 378.8L665.8 395.2L734.6 410.6" stroke="#f2d646" stroke-opacity="0.23" stroke-width="3"/><path d="M115.4 318.9C126.9 317.1 161.3 307.6 184.2 307.9C207.1 308.1 230.1 313.9 253 320.5C275.9 327 298.9 339 321.8 347.1C344.7 355.1 367.7 362 390.6 368.7C413.5 375.5 436.5 381.1 459.4 387.8C482.3 394.5 505.3 401.5 528.2 408.8C551.1 416.2 574.1 424.3 597 432.1C619.9 439.9 642.9 447.7 665.8 455.6C688.7 463.4 723.1 475.4 734.6 479.4" stroke="#f2d646" stroke-opacity="0.23" stroke-width="3"/><path d="M115.4 318.9C126.9 316.5 161.3 305.7 184.2 304.4C207.1 303.1 230.1 306.4 253 311.2C275.9 315.9 298.9 325.6 321.8 332.8C344.7 340 367.7 347.1 390.6 354.1C413.5 361.1 436.5 368 459.4 374.8C482.3 381.7 505.3 388.6 528.2 395.4C551.1 402.3 574.1 409.2 597 416C619.9 422.8 642.9 429.5 665.8 436.2C688.7 443 723.1 453 734.6 456.3" stroke="#f2d646" stroke-opacity="0.23" stroke-width="3"/><path d="M115.4 318.9C126.9 315.4 161.3 302.3 184.2 298.1C207.1 293.9 230.1 293.5 253 293.6C275.9 293.6 298.9 296 321.8 298.4C344.7 300.8 367.7 304.7 390.6 308.1C413.5 311.5 436.5 314.4 459.4 318.9C482.3 323.5 505.3 329.6 528.2 335.6C551.1 341.6 574.1 348.7 597 355C619.9 361.2 642.9 367.3 665.8 373.1C688.7 379 723.1 387.4 734.6 390.3" stroke="#f2d646" stroke-opacity="0.23" stroke-width="3"/><path d="M115.4 318.9L184.2 303.4L253 309.1L321.8 334L390.6 361.8L459.4 390.7L528.2 414.6L597 435L665.8 455.3L734.6 475.7" stroke="#f2d646" stroke-opacity="0.23" stroke-width="3"/><path d="M115.4 318.9C126.9 314.9 161.3 300.4 184.2 294.6C207.1 288.9 230.1 286 253 284.5C275.9 283.1 298.9 283.7 321.8 285.9C344.7 288 367.7 293 390.6 297.4C413.5 301.9 436.5 307.6 459.4 312.4C482.3 317.2 505.3 322.1 528.2 326.1C551.1 330.1 574.1 333.4 597 336.4C619.9 339.5 642.9 342.3 665.8 344.6C688.7 346.9 723.1 349.4 734.6 350.3" stroke="#f2d646" stroke-opacity="0.23" stroke-width="3"/><path d="M115.4 318.9C126.9 314.6 161.3 299.5 184.2 293.1C207.1 286.7 230.1 282.6 253 280.5C275.9 278.4 298.9 278.4 321.8 280.5C344.7 282.6 367.7 288.1 390.6 293C413.5 297.9 436.5 304.7 459.4 310C482.3 315.3 505.3 320.6 528.2 324.9C551.1 329.2 574.1 332.4 597 335.6C619.9 338.8 642.9 341.7 665.8 344.2C688.7 346.6 723.1 349.3 734.6 350.3" stroke="#f2d646" stroke-opacity="0.23" stroke-width="3"/><path d="M115.4 318.9C126.9 314.9 161.3 300.3 184.2 294.7C207.1 289 230.1 285.8 253 284.9C275.9 283.9 298.9 285.7 321.8 289C344.7 292.3 367.7 298.6 390.6 304.4C413.5 310.2 436.5 317.8 459.4 323.8C482.3 329.9 505.3 335.9 528.2 340.8C551.1 345.8 574.1 349.8 597 353.8C619.9 357.9 642.9 361.6 665.8 365.1C688.7 368.5 723.1 372.9 734.6 374.4" stroke="#f2d646" stroke-opacity="0.23" stroke-width="3"/><path d="M115.4 318.9C126.9 316.1 161.3 304.6 184.2 302.3C207.1 300 230.1 302.3 253 305.2C275.9 308 298.9 314.5 321.8 319.4C344.7 324.2 367.7 329.3 390.6 334.1C413.5 339 436.5 342.9 459.4 348.4C482.3 353.9 505.3 360.6 528.2 367.4C551.1 374.2 574.1 382 597 389.2C619.9 396.4 642.9 403.4 665.8 410.5C688.7 417.5 723.1 428 734.6 431.5" stroke="#f2d646" stroke-opacity="0.23" stroke-width="3"/><path d="M115.4 318.9L184.2 297.5L253 293.1L321.8 306.8L390.6 330.2L459.4 357.3L528.2 381.9L597 403.3L665.8 424.3L734.6 445.1" stroke="#f2d646" stroke-opacity="0.23" stroke-width="3"/><path d="M115.4 318.9C126.9 317.1 161.3 307.7 184.2 308.1C207.1 308.5 230.1 314.1 253 321.4C275.9 328.8 298.9 342.5 321.8 352C344.7 361.6 367.7 370.3 390.6 378.9C413.5 387.6 436.5 396.2 459.4 403.9C482.3 411.6 505.3 418.3 528.2 425C551.1 431.8 574.1 437.8 597 444.2C619.9 450.6 642.9 457 665.8 463.4C688.7 469.7 723.1 479.3 734.6 482.5" stroke="#f2d646" stroke-opacity="0.23" stroke-width="3"/><path d="M115.4 318.9L184.2 303.2L253 308L321.8 328.6L390.6 350.8L459.4 373.2L528.2 398.6L597 426L665.8 453.8L734.6 482.5" stroke="#f2d646" stroke-opacity="0.23" stroke-width="3"/><path d="M115.4 318.9L184.2 305.4L253 314.3L321.8 342.9L390.6 372.2L459.4 401.7L528.2 424.4L597 442.4L665.8 460.2L734.6 477.9" stroke="#f2d646" stroke-opacity="0.23" stroke-width="3"/><path d="M115.4 318.9L184.2 298.1L253 294L321.8 302.7L390.6 318L459.4 335.3L528.2 356.9L597 380.2L665.8 403.1L734.6 425.8" stroke="#f2d646" stroke-opacity="0.23" stroke-width="3"/><path d="M115.4 318.9C126.9 315 161.3 300.9 184.2 295.6C207.1 290.4 230.1 287.9 253 287.5C275.9 287 298.9 289.5 321.8 293C344.7 296.6 367.7 302.9 390.6 308.6C413.5 314.4 436.5 320.9 459.4 327.8C482.3 334.7 505.3 342.6 528.2 350.1C551.1 357.6 574.1 365.4 597 372.9C619.9 380.4 642.9 387.8 665.8 395.1C688.7 402.4 723.1 413.2 734.6 416.9" stroke="#f2d646" stroke-opacity="0.23" stroke-width="3"/><path d="M115.4 318.9C126.9 316.3 161.3 305.2 184.2 303.6C207.1 301.9 230.1 304.5 253 309.1C275.9 313.7 298.9 323.4 321.8 331C344.7 338.5 367.7 346.4 390.6 354.2C413.5 362 436.5 370.9 459.4 377.7C482.3 384.4 505.3 389.9 528.2 394.7C551.1 399.6 574.1 403 597 406.8C619.9 410.7 642.9 414.4 665.8 417.8C688.7 421.3 723.1 425.9 734.6 427.5" stroke="#f2d646" stroke-opacity="0.23" stroke-width="3"/><path d="M115.4 318.9C126.9 314.9 161.3 300.6 184.2 295.1C207.1 289.6 230.1 286.9 253 285.7C275.9 284.5 298.9 285.5 321.8 287.8C344.7 290.1 367.7 295.1 390.6 299.5C413.5 303.9 436.5 308.2 459.4 314.4C482.3 320.6 505.3 328.6 528.2 336.5C551.1 344.3 574.1 353.4 597 361.7C619.9 370 642.9 378.1 665.8 386.3C688.7 394.5 723.1 406.7 734.6 410.7" stroke="#f2d646" stroke-opacity="0.23" stroke-width="3"/><path d="M115.4 318.9C126.9 315.6 161.3 302.8 184.2 299C207.1 295.2 230.1 295.5 253 296C275.9 296.5 298.9 299.3 321.8 301.8C344.7 304.3 367.7 307.9 390.6 311.1C413.5 314.2 436.5 317 459.4 320.8C482.3 324.7 505.3 329.5 528.2 334.2C551.1 338.8 574.1 344 597 348.6C619.9 353.1 642.9 357.3 665.8 361.3C688.7 365.2 723.1 370.4 734.6 372.2" stroke="#f2d646" stroke-opacity="0.23" stroke-width="3"/><path d="M115.4 318.9C126.9 316.4 161.3 305.3 184.2 303.8C207.1 302.3 230.1 305.1 253 309.7C275.9 314.4 298.9 324.3 321.8 331.8C344.7 339.3 367.7 347.2 390.6 354.9C413.5 362.7 436.5 371.3 459.4 378.1C482.3 384.8 505.3 390.4 528.2 395.4C551.1 400.5 574.1 404.2 597 408.3C619.9 412.4 642.9 416.4 665.8 420.2C688.7 424 723.1 429.1 734.6 430.8" stroke="#f2d646" stroke-opacity="0.23" stroke-width="3"/><path d="M115.4 318.9C126.9 315.3 161.3 301.8 184.2 297.2C207.1 292.6 230.1 291.4 253 291.5C275.9 291.6 298.9 294.5 321.8 297.8C344.7 301.2 367.7 306.5 390.6 311.5C413.5 316.4 436.5 321.9 459.4 327.4C482.3 332.8 505.3 338.7 528.2 344.1C551.1 349.5 574.1 354.7 597 359.7C619.9 364.6 642.9 369.3 665.8 373.8C688.7 378.3 723.1 384.3 734.6 386.4" stroke="#f2d646" stroke-opacity="0.23" stroke-width="3"/>
<path d="M115.4 318.9C126.9 313.7 161.3 297 184.2 287.9C207.1 278.7 230.1 271.2 253 264.1C275.9 256.9 298.9 251.3 321.8 244.9C344.7 238.5 367.7 231.8 390.6 225.8C413.5 219.7 436.5 214 459.4 208.5C482.3 203.1 505.3 198.3 528.2 193.2C551.1 188.1 574.1 182.7 597 177.9C619.9 173.1 642.9 168.7 665.8 164.5C688.7 160.2 723.1 154.2 734.6 152.2" stroke="#d52b1a" stroke-opacity="0.22" stroke-width="3"/><path d="M115.4 318.9C126.9 314 161.3 298.1 184.2 289.8C207.1 281.4 230.1 274.9 253 268.7C275.9 262.5 298.9 257.8 321.8 252.6C344.7 247.4 367.7 242.4 390.6 237.3C413.5 232.2 436.5 227.1 459.4 221.9C482.3 216.8 505.3 211.7 528.2 206.6C551.1 201.5 574.1 196.1 597 191.3C619.9 186.5 642.9 181.9 665.8 177.9C688.7 173.9 723.1 168.9 734.6 167.1" stroke="#d52b1a" stroke-opacity="0.22" stroke-width="3"/><path d="M115.4 318.9C126.9 314.2 161.3 298.8 184.2 290.9C207.1 283.1 230.1 277.5 253 271.8C275.9 266 298.9 261.2 321.8 256.4C344.7 251.6 367.7 247.5 390.6 243C413.5 238.5 436.5 234.1 459.4 229.6C482.3 225.1 505.3 220.7 528.2 216.2C551.1 211.7 574.1 207.3 597 202.8C619.9 198.3 642.9 193.5 665.8 189.4C688.7 185.3 723.1 180.1 734.6 178.3" stroke="#d52b1a" stroke-opacity="0.22" stroke-width="3"/><path d="M115.4 318.9C126.9 313.6 161.3 296.5 184.2 287.1C207.1 277.6 230.1 269.8 253 262.2C275.9 254.5 298.9 247.2 321.8 241.1C344.7 235 367.7 230.2 390.6 225.8C413.5 221.3 436.5 218.1 459.4 214.3C482.3 210.4 505.3 207.3 528.2 202.8C551.1 198.3 574.1 192.6 597 187.5C619.9 182.3 642.9 176.4 665.8 172.1C688.7 167.8 723.1 163.5 734.6 161.8" stroke="#d52b1a" stroke-opacity="0.22" stroke-width="3"/><path d="M115.4 318.9C126.9 314.2 161.3 299.4 184.2 290.9C207.1 282.4 230.1 275 253 267.9C275.9 260.9 298.9 254.5 321.8 248.8C344.7 243 367.7 237.6 390.6 233.4C413.5 229.3 436.5 226.4 459.4 223.9C482.3 221.3 505.3 219.6 528.2 218.1C551.1 216.6 574.1 215.9 597 215C619.9 214.2 642.9 213 665.8 213.1C688.7 213.3 723.1 215.4 734.6 215.8" stroke="#d52b1a" stroke-opacity="0.22" stroke-width="3"/><path d="M115.4 318.9C126.9 314.6 161.3 300.4 184.2 292.8C207.1 285.3 230.1 279.1 253 273.7C275.9 268.2 298.9 263.8 321.8 260.3C344.7 256.8 367.7 254.5 390.6 252.6C413.5 250.7 436.5 249.4 459.4 248.8C482.3 248.1 505.3 248.6 528.2 248.8C551.1 248.9 574.1 249.5 597 249.5C619.9 249.5 642.9 248.8 665.8 248.8C688.7 248.8 723.1 249.4 734.6 249.5" stroke="#d52b1a" stroke-opacity="0.22" stroke-width="3"/><path d="M115.4 318.9C126.9 313.6 161.3 297.2 184.2 287.1C207.1 277 230.1 267.3 253 258.3C275.9 249.4 298.9 242.1 321.8 233.4C344.7 224.8 367.7 214.4 390.6 206.6C413.5 198.8 436.5 187.8 459.4 186.7C482.3 185.5 505.3 188.9 528.2 199.7C551.1 210.5 574.1 237.4 597 251.5C619.9 265.5 642.9 273.6 665.8 284C688.7 294.4 723.1 308.9 734.6 313.9" stroke="#d52b1a" stroke-opacity="0.22" stroke-width="3"/><path d="M115.4 318.9C126.9 313.6 161.3 296.9 184.2 287.1C207.1 277.3 230.1 268.6 253 260.3C275.9 252 298.9 243.7 321.8 237.3C344.7 230.9 367.7 225.8 390.6 221.9C413.5 218.1 436.5 213.6 459.4 214.3C482.3 214.9 505.3 220.7 528.2 225.8C551.1 230.9 574.1 237.9 597 244.9C619.9 252 642.9 260.3 665.8 267.9C688.7 275.6 723.1 287.1 734.6 290.9" stroke="#d52b1a" stroke-opacity="0.22" stroke-width="3"/><path d="M115.4 318.9C126.9 313.9 161.3 298.1 184.2 289C207.1 279.9 230.1 271.8 253 264.1C275.9 256.4 298.9 249.4 321.8 243C344.7 236.6 367.7 230.9 390.6 225.8C413.5 220.7 436.5 215.6 459.4 212.4C482.3 209.2 505.3 205 528.2 206.6C551.1 208.2 574.1 214.3 597 221.9C619.9 229.6 642.9 243 665.8 252.6C688.7 262.2 723.1 275 734.6 279.4" stroke="#d52b1a" stroke-opacity="0.22" stroke-width="3"/><path d="M115.4 318.9C126.9 314.1 161.3 298 184.2 289.9C207.1 281.8 230.1 275.9 253 270.2C275.9 264.6 298.9 259.9 321.8 256C344.7 252.1 367.7 249.3 390.6 247C413.5 244.7 436.5 242.5 459.4 242.1C482.3 241.7 505.3 242.7 528.2 244.4C551.1 246.1 574.1 249 597 252.1C619.9 255.2 642.9 259.1 665.8 263.1C688.7 267.1 723.1 274 734.6 276.1" stroke="#d52b1a" stroke-opacity="0.22" stroke-width="3"/><path d="M115.4 318.9C126.9 313.4 161.3 295.2 184.2 285.8C207.1 276.3 230.1 268.3 253 262.1C275.9 255.8 298.9 251.4 321.8 248.4C344.7 245.3 367.7 244 390.6 243.9C413.5 243.7 436.5 244.7 459.4 247.3C482.3 250 505.3 254.7 528.2 259.8C551.1 264.9 574.1 271.2 597 277.7C619.9 284.3 642.9 291.4 665.8 299C688.7 306.7 723.1 319.6 734.6 323.7" stroke="#d52b1a" stroke-opacity="0.22" stroke-width="3"/><path d="M115.4 318.9L184.2 287.1L253 264.4L321.8 247.7L390.6 236.8L459.4 231.3L528.2 233.1L597 240.4L665.8 251.4L734.6 264.1" stroke="#d52b1a" stroke-opacity="0.22" stroke-width="3"/><path d="M115.4 318.9C126.9 315.1 161.3 302 184.2 296.1C207.1 290.2 230.1 286.6 253 283.7C275.9 280.7 298.9 279.1 321.8 278.3C344.7 277.4 367.7 278.1 390.6 278.6C413.5 279.2 436.5 279.5 459.4 281.8C482.3 284.1 505.3 288.1 528.2 292.3C551.1 296.4 574.1 301.5 597 306.7C619.9 311.9 642.9 317.4 665.8 323.6C688.7 329.8 723.1 340.7 734.6 344.1" stroke="#d52b1a" stroke-opacity="0.22" stroke-width="3"/><path d="M115.4 318.9C126.9 314.2 161.3 298.3 184.2 290.6C207.1 282.9 230.1 276.6 253 272.8C275.9 269 298.9 267.6 321.8 267.8C344.7 268 367.7 270.6 390.6 273.9C413.5 277.1 436.5 282.6 459.4 287.6C482.3 292.6 505.3 298.7 528.2 303.8C551.1 308.9 574.1 313.1 597 318.3C619.9 323.5 642.9 328.7 665.8 334.9C688.7 341.1 723.1 352 734.6 355.4" stroke="#d52b1a" stroke-opacity="0.22" stroke-width="3"/><path d="M115.4 318.9L184.2 293.4L253 278.3L321.8 273.8L390.6 278.1L459.4 288L528.2 302.5L597 317.9L665.8 335.4L734.6 356.8" stroke="#d52b1a" stroke-opacity="0.22" stroke-width="3"/><path d="M115.4 318.9C126.9 313.1 161.3 294.2 184.2 284.2C207.1 274.1 230.1 265.6 253 258.5C275.9 251.4 298.9 245.9 321.8 241.7C344.7 237.6 367.7 234.9 390.6 233.5C413.5 232 436.5 232.6 459.4 233.2C482.3 233.7 505.3 235.3 528.2 237C551.1 238.7 574.1 240.5 597 243.2C619.9 245.8 642.9 249.3 665.8 252.8C688.7 256.2 723.1 262.2 734.6 264.1" stroke="#d52b1a" stroke-opacity="0.22" stroke-width="3"/><path d="M115.4 318.9C126.9 313.5 161.3 295.9 184.2 286.7C207.1 277.5 230.1 270.1 253 263.6C275.9 257.1 298.9 251.9 321.8 247.7C344.7 243.6 367.7 240.7 390.6 238.7C413.5 236.8 436.5 235.3 459.4 235.9C482.3 236.5 505.3 239 528.2 242.2C551.1 245.4 574.1 250.2 597 255.1C619.9 260 642.9 265.7 665.8 271.6C688.7 277.6 723.1 287.5 734.6 290.7" stroke="#d52b1a" stroke-opacity="0.22" stroke-width="3"/><path d="M115.4 318.9C126.9 314.7 161.3 300.3 184.2 293.5C207.1 286.8 230.1 282 253 278.4C275.9 274.8 298.9 272.9 321.8 271.9C344.7 271 367.7 271.8 390.6 272.8C413.5 273.9 436.5 276 459.4 278.2C482.3 280.4 505.3 283.4 528.2 285.9C551.1 288.5 574.1 290.5 597 293.3C619.9 296.1 642.9 299.3 665.8 302.9C688.7 306.6 723.1 313.2 734.6 315.3" stroke="#d52b1a" stroke-opacity="0.22" stroke-width="3"/><path d="M115.4 318.9C126.9 314.2 161.3 298.3 184.2 290.5C207.1 282.7 230.1 276.7 253 271.9C275.9 267.1 298.9 263.8 321.8 261.7C344.7 259.5 367.7 258.8 390.6 258.8C413.5 258.7 436.5 260.2 459.4 261.4C482.3 262.5 505.3 264.3 528.2 265.8C551.1 267.2 574.1 268.2 597 270.1C619.9 272 642.9 274.4 665.8 277C688.7 279.7 723.1 284.5 734.6 286" stroke="#d52b1a" stroke-opacity="0.22" stroke-width="3"/><path d="M115.4 318.9L184.2 292.8L253 277.1L321.8 271.6L390.6 274.8L459.4 283.6L528.2 298.8L597 316.2L665.8 336L734.6 359.9" stroke="#d52b1a" stroke-opacity="0.22" stroke-width="3"/><path d="M115.4 318.9C126.9 313.8 161.3 297.1 184.2 288.6C207.1 280.1 230.1 273.4 253 268C275.9 262.6 298.9 258.8 321.8 256.1C344.7 253.5 367.7 252.5 390.6 252.3C413.5 252 436.5 252.6 459.4 254.7C482.3 256.7 505.3 260.6 528.2 264.6C551.1 268.7 574.1 273.7 597 279C619.9 284.3 642.9 290.1 665.8 296.4C688.7 302.7 723.1 313.5 734.6 316.9" stroke="#d52b1a" stroke-opacity="0.22" stroke-width="3"/><path d="M115.4 318.9C126.9 313.8 161.3 296.9 184.2 288.3C207.1 279.8 230.1 272.8 253 267.6C275.9 262.4 298.9 259.2 321.8 257.3C344.7 255.4 367.7 255.4 390.6 256.3C413.5 257.2 436.5 259.4 459.4 262.6C482.3 265.8 505.3 270.6 528.2 275.4C551.1 280.2 574.1 285.4 597 291.2C619.9 296.9 642.9 303.1 665.8 309.9C688.7 316.7 723.1 328.3 734.6 332" stroke="#d52b1a" stroke-opacity="0.22" stroke-width="3"/><path d="M115.4 318.9C126.9 313 161.3 293.8 184.2 283.6C207.1 273.4 230.1 264.5 253 257.6C275.9 250.8 298.9 245.9 321.8 242.6C344.7 239.3 367.7 237.8 390.6 237.8C413.5 237.7 436.5 239.7 459.4 242.1C482.3 244.5 505.3 248.5 528.2 252.4C551.1 256.3 574.1 260.6 597 265.5C619.9 270.5 642.9 276 665.8 282C688.7 288 723.1 298 734.6 301.3" stroke="#d52b1a" stroke-opacity="0.22" stroke-width="3"/><path d="M115.4 318.9C126.9 313.6 161.3 296.1 184.2 287.2C207.1 278.2 230.1 270.8 253 265C275.9 259.2 298.9 255.1 321.8 252.3C344.7 249.5 367.7 248.4 390.6 248.3C413.5 248.2 436.5 249.4 459.4 251.5C482.3 253.7 505.3 257.5 528.2 261.3C551.1 265.2 574.1 269.7 597 274.6C619.9 279.6 642.9 285.1 665.8 291.1C688.7 297.1 723.1 307.2 734.6 310.5" stroke="#d52b1a" stroke-opacity="0.22" stroke-width="3"/><path d="M115.4 318.9L184.2 283.3L253 256.7L321.8 238.4L390.6 228.3L459.4 226.1L528.2 230.1L597 238.4L665.8 250.3L734.6 264.1" stroke="#d52b1a" stroke-opacity="0.22" stroke-width="3"/><path d="M115.4 318.9C126.9 314.1 161.3 298.2 184.2 290.3C207.1 282.5 230.1 276.2 253 271.9C275.9 267.7 298.9 265.6 321.8 264.9C344.7 264.2 367.7 265.6 390.6 267.7C413.5 269.8 436.5 273.7 459.4 277.4C482.3 281.1 505.3 285.9 528.2 289.9C551.1 293.9 574.1 297.2 597 301.5C619.9 305.8 642.9 310.3 665.8 315.5C688.7 320.7 723.1 329.9 734.6 332.7" stroke="#d52b1a" stroke-opacity="0.22" stroke-width="3"/><path d="M115.4 318.9C126.9 313 161.3 293.7 184.2 283.3C207.1 273 230.1 264.2 253 256.6C275.9 249.1 298.9 242.9 321.8 238C344.7 233.1 367.7 229.6 390.6 227.3C413.5 225.1 436.5 224.3 459.4 224.5C482.3 224.7 505.3 226.3 528.2 228.4C551.1 230.5 574.1 233.6 597 237.2C619.9 240.7 642.9 245.2 665.8 249.7C688.7 254.2 723.1 261.7 734.6 264.1" stroke="#d52b1a" stroke-opacity="0.22" stroke-width="3"/><path d="M115.4 318.9C126.9 313.1 161.3 294.2 184.2 284.2C207.1 274.2 230.1 265.4 253 258.9C275.9 252.4 298.9 248.1 321.8 245.3C344.7 242.5 367.7 241.7 390.6 242.3C413.5 242.9 436.5 245.8 459.4 248.7C482.3 251.6 505.3 255.9 528.2 259.9C551.1 263.8 574.1 267.9 597 272.7C619.9 277.5 642.9 282.8 665.8 288.6C688.7 294.4 723.1 304.3 734.6 307.4" stroke="#d52b1a" stroke-opacity="0.22" stroke-width="3"/><path d="M115.4 318.9C126.9 314.6 161.3 300 184.2 293.2C207.1 286.3 230.1 281.3 253 277.7C275.9 274.1 298.9 272.4 321.8 271.7C344.7 271 367.7 272.2 390.6 273.7C413.5 275.2 436.5 277.4 459.4 280.7C482.3 284 505.3 288.9 528.2 293.6C551.1 298.2 574.1 303.1 597 308.5C619.9 313.9 642.9 319.5 665.8 325.9C688.7 332.3 723.1 343.4 734.6 346.9" stroke="#d52b1a" stroke-opacity="0.22" stroke-width="3"/><path d="M115.4 318.9C126.9 314.6 161.3 299.8 184.2 292.9C207.1 286 230.1 280.7 253 277.4C275.9 274.1 298.9 273 321.8 273.2C344.7 273.3 367.7 275.6 390.6 278.3C413.5 281 436.5 285 459.4 289.4C482.3 293.9 505.3 299.7 528.2 304.9C551.1 310 574.1 314.9 597 320.4C619.9 326 642.9 331.6 665.8 338.2C688.7 344.8 723.1 356.3 734.6 359.9" stroke="#d52b1a" stroke-opacity="0.22" stroke-width="3"/><path d="M115.4 318.9C126.9 313.2 161.3 294.7 184.2 284.9C207.1 275.1 230.1 266.8 253 260.2C275.9 253.6 298.9 248.7 321.8 245.3C344.7 241.8 367.7 240 390.6 239.4C413.5 238.8 436.5 240.1 459.4 241.7C482.3 243.2 505.3 245.9 528.2 248.6C551.1 251.3 574.1 254.2 597 257.8C619.9 261.4 642.9 265.8 665.8 270.3C688.7 274.9 723.1 282.6 734.6 285.1" stroke="#d52b1a" stroke-opacity="0.22" stroke-width="3"/><path d="M115.4 318.9C126.9 313.7 161.3 296.4 184.2 287.5C207.1 278.6 230.1 271.5 253 265.5C275.9 259.5 298.9 255 321.8 251.5C344.7 248.1 367.7 246.1 390.6 244.9C413.5 243.8 436.5 243.3 459.4 244.6C482.3 245.9 505.3 249 528.2 252.6C551.1 256.2 574.1 261.1 597 266.2C619.9 271.2 642.9 277 665.8 283.1C688.7 289.2 723.1 299.5 734.6 302.8" stroke="#d52b1a" stroke-opacity="0.22" stroke-width="3"/><path d="M115.4 318.9L184.2 291.6L253 274.7L321.8 269.4L390.6 273.8L459.4 284.8L528.2 300.4L597 316.3L665.8 334.5L734.6 356.6" stroke="#d52b1a" stroke-opacity="0.22" stroke-width="3"/><path d="M115.4 318.9L184.2 292.1L253 275.3L321.8 266.4L390.6 264.3L459.4 266.8L528.2 278L597 294.3L665.8 313.5L734.6 336.3" stroke="#d52b1a" stroke-opacity="0.22" stroke-width="3"/><path d="M115.4 318.9L184.2 296.5L253 284.8L321.8 282.2L390.6 287L459.4 295.4L528.2 305.4L597 314L665.8 324.4L734.6 338.1" stroke="#d52b1a" stroke-opacity="0.22" stroke-width="3"/><path d="M115.4 318.9C126.9 314.3 161.3 298.9 184.2 291.4C207.1 283.9 230.1 278.3 253 273.9C275.9 269.4 298.9 266.6 321.8 264.7C344.7 262.9 367.7 262.6 390.6 262.8C413.5 263 436.5 264.7 459.4 266C482.3 267.3 505.3 269.2 528.2 270.7C551.1 272.2 574.1 273.1 597 275C619.9 276.8 642.9 279.1 665.8 281.7C688.7 284.3 723.1 289.1 734.6 290.6" stroke="#d52b1a" stroke-opacity="0.22" stroke-width="3"/><path d="M115.4 318.9L184.2 286.5L253 263.4L321.8 247.6L390.6 239L459.4 236.8L528.2 239.3L597 244.8L665.8 253.6L734.6 264.1" stroke="#d52b1a" stroke-opacity="0.22" stroke-width="3"/><path d="M115.4 318.9C126.9 313.7 161.3 296.6 184.2 287.8C207.1 279 230.1 271.9 253 266.2C275.9 260.5 298.9 256.4 321.8 253.5C344.7 250.6 367.7 249.3 390.6 248.9C413.5 248.4 436.5 249.6 459.4 250.9C482.3 252.1 505.3 254.3 528.2 256.4C551.1 258.4 574.1 260.4 597 263.2C619.9 265.9 642.9 269.3 665.8 272.9C688.7 276.5 723.1 282.9 734.6 284.8" stroke="#d52b1a" stroke-opacity="0.22" stroke-width="3"/><path d="M115.4 318.9C126.9 314.2 161.3 298.5 184.2 290.8C207.1 283.1 230.1 277.2 253 272.6C275.9 268 298.9 265.1 321.8 263.2C344.7 261.3 367.7 261.1 390.6 261.5C413.5 261.8 436.5 262.7 459.4 265.2C482.3 267.8 505.3 272.2 528.2 276.8C551.1 281.4 574.1 287 597 292.8C619.9 298.6 642.9 304.8 665.8 311.7C688.7 318.5 723.1 330.3 734.6 334" stroke="#d52b1a" stroke-opacity="0.22" stroke-width="3"/>
<path d="M115.4 318.9C126.9 312.3 161.3 294.9 184.2 279.4C207.1 263.9 230.1 244.4 253 225.8C275.9 207.1 298.9 187.3 321.8 167.5C344.7 147.7 367.7 124.5 390.6 107C413.5 89.5 447.9 69.9 459.4 62.5" stroke="#a5171f" stroke-opacity="0.25" stroke-width="3"/><path d="M115.4 318.9C126.9 312.6 161.3 295.5 184.2 281C207.1 266.4 230.1 248.7 253 231.5C275.9 214.3 298.9 196.5 321.8 177.9C344.7 159.3 367.7 136.2 390.6 120C413.5 103.9 442.2 89.7 459.4 80.9C476.6 72.2 488.1 69.7 493.8 67.5" stroke="#a5171f" stroke-opacity="0.25" stroke-width="3"/><path d="M115.4 318.9C126.9 313 161.3 296.5 184.2 283.3C207.1 270 230.1 254.5 253 239.2C275.9 223.9 298.9 210.1 321.8 191.3C344.7 172.5 373.4 142.9 390.6 126.5C407.8 110.1 419.3 98.4 425 92.8" stroke="#a5171f" stroke-opacity="0.25" stroke-width="3"/><path d="M115.4 318.9C126.9 313.1 161.3 296.9 184.2 284C207.1 271.2 230.1 255.9 253 241.9C275.9 227.8 298.9 212.1 321.8 199.7C344.7 187.3 367.7 178.3 390.6 167.5C413.5 156.7 436.5 145.8 459.4 135C482.3 124.2 511 112 528.2 102.8C545.4 93.5 556.9 83.3 562.6 79.4" stroke="#a5171f" stroke-opacity="0.25" stroke-width="3"/><path d="M115.4 318.9C126.9 313.3 161.3 297.9 184.2 285.6C207.1 273.2 230.1 258.5 253 244.9C275.9 231.3 298.9 215.7 321.8 203.9C344.7 192.1 367.7 185 390.6 174C413.5 163.1 436.5 150.2 459.4 138.4C482.3 126.7 505.3 114.5 528.2 103.5C551.1 92.6 585.5 77.7 597 72.5" stroke="#a5171f" stroke-opacity="0.25" stroke-width="3"/><path d="M115.4 318.9C126.9 313.6 161.3 298.1 184.2 287.1C207.1 276 230.1 263.1 253 252.6C275.9 242.1 298.9 231.5 321.8 223.9C344.7 216.2 367.7 212 390.6 206.6C413.5 201.2 436.5 196.4 459.4 191.3C482.3 186.2 505.3 181.1 528.2 176C551.1 170.9 574.1 165.7 597 160.6C619.9 155.5 642.9 150 665.8 145.3C688.7 140.6 723.1 134.8 734.6 132.7" stroke="#a5171f" stroke-opacity="0.25" stroke-width="3"/><path d="M115.4 318.9C126.9 313.8 161.3 299 184.2 288.6C207.1 278.2 230.1 266.3 253 256.4C275.9 246.6 298.9 237 321.8 229.6C344.7 222.3 367.7 217.8 390.6 212.4C413.5 206.9 436.5 201.8 459.4 197C482.3 192.2 505.3 187.8 528.2 183.6C551.1 179.5 574.1 175.6 597 172.1C619.9 168.6 642.9 165.7 665.8 162.5C688.7 159.4 723.1 154.9 734.6 153.4" stroke="#a5171f" stroke-opacity="0.25" stroke-width="3"/><path d="M115.4 318.9C126.9 313.5 161.3 297.7 184.2 286.3C207.1 275 230.1 261.4 253 250.7C275.9 240 298.9 229.9 321.8 221.9C344.7 214 367.7 208.5 390.6 202.8C413.5 197 436.5 192.9 459.4 187.5C482.3 182 505.3 174.6 528.2 170.2C551.1 165.8 574.1 160.1 597 161C619.9 162 642.9 170.4 665.8 176C688.7 181.5 723.1 191.3 734.6 194.4" stroke="#a5171f" stroke-opacity="0.25" stroke-width="3"/><path d="M115.4 318.9C126.9 314 161.3 299.5 184.2 289.4C207.1 279.3 230.1 267.7 253 258.3C275.9 249 298.9 240.1 321.8 233.4C344.7 226.7 367.7 222.9 390.6 218.1C413.5 213.3 436.5 209.2 459.4 204.7C482.3 200.2 505.3 195.8 528.2 191.3C551.1 186.8 574.1 182 597 177.9C619.9 173.7 642.9 169.8 665.8 166.4C688.7 163 723.1 159 734.6 157.6" stroke="#a5171f" stroke-opacity="0.25" stroke-width="3"/><path d="M115.4 318.9C126.9 313.1 161.3 296.3 184.2 284C207.1 271.7 230.1 256.6 253 244.9C275.9 233.3 298.9 222.6 321.8 214.3C344.7 206 367.7 200.9 390.6 195.1C413.5 189.4 436.5 184.9 459.4 179.8C482.3 174.7 505.3 169.6 528.2 164.5C551.1 159.4 574.1 154.6 597 149.1C619.9 143.7 642.9 137.6 665.8 131.9C688.7 126.1 723.1 117.5 734.6 114.6" stroke="#a5171f" stroke-opacity="0.25" stroke-width="3"/><path d="M115.4 318.9C126.9 313 161.3 295.9 184.2 283.3C207.1 270.6 230.1 255.2 253 243C275.9 230.9 298.9 219.1 321.8 210.4C344.7 201.8 367.7 196.4 390.6 191.3C413.5 186.2 436.5 183.3 459.4 179.8C482.3 176.3 505.3 172.8 528.2 170.2C551.1 167.7 574.1 165.4 597 164.5C619.9 163.5 642.9 164.3 665.8 164.5C688.7 164.6 723.1 165.1 734.6 165.2" stroke="#a5171f" stroke-opacity="0.25" stroke-width="3"/><path d="M115.4 318.9C126.9 314.2 161.3 300.7 184.2 290.9C207.1 281.1 230.1 269.2 253 260.3C275.9 251.3 298.9 243.7 321.8 237.3C344.7 230.9 367.7 226.4 390.6 221.9C413.5 217.5 436.5 214.3 459.4 210.4C482.3 206.6 505.3 202.5 528.2 199C551.1 195.4 574.1 192.2 597 189.4C619.9 186.5 642.9 183.9 665.8 181.7C688.7 179.5 723.1 176.9 734.6 176" stroke="#a5171f" stroke-opacity="0.25" stroke-width="3"/><path d="M115.4 318.9C126.9 313.4 161.3 297.2 184.2 286C207.1 274.8 230.1 261.6 253 251.7C275.9 241.8 298.9 233.4 321.8 226.4C344.7 219.4 367.7 214.4 390.6 209.9C413.5 205.3 436.5 202.3 459.4 198.9C482.3 195.5 505.3 192.3 528.2 189.6C551.1 186.8 574.1 184.2 597 182.4C619.9 180.6 642.9 179.9 665.8 178.8C688.7 177.6 723.1 176.2 734.6 175.7" stroke="#a5171f" stroke-opacity="0.25" stroke-width="3"/><path d="M115.4 318.9L184.2 280.9L253 240.5L321.8 208.4L390.6 187.3L459.4 173.5L528.2 158.3L597 145.1L665.8 132.3L734.6 119.3" stroke="#a5171f" stroke-opacity="0.25" stroke-width="3"/><path d="M115.4 318.9L184.2 280.2L253 238.9L321.8 205.4L390.6 183L459.4 168L528.2 153.7L597 143.3L665.8 133.4L734.6 123.6" stroke="#a5171f" stroke-opacity="0.25" stroke-width="3"/>
<path d="M115.4 318.9C126.9 317.3 161.3 304.5 184.2 309.3C207.1 314.2 230.1 334.3 253 348C275.9 361.7 298.9 378.5 321.8 391.3C344.7 404.1 367.7 415.7 390.6 424.7C413.5 433.7 436.5 440.3 459.4 445.3C482.3 450.4 505.3 451.2 528.2 454.9C551.1 458.7 574.1 463.8 597 468C619.9 472.1 642.9 476.5 665.8 479.8C688.7 483.2 723.1 486.9 734.6 488.3" stroke="#66952a" stroke-opacity="0.8" stroke-width="12.5"/>
<path d="M115.4 318.9C126.9 316.7 161.3 304.3 184.2 305.5C207.1 306.7 230.1 318.5 253 326.2C275.9 333.8 298.9 342.3 321.8 351.5C344.7 360.7 367.7 372 390.6 381.4C413.5 390.7 436.5 399.8 459.4 407.4C482.3 415 505.3 420.6 528.2 427C551.1 433.3 574.1 440.2 597 445.3C619.9 450.5 642.9 454.4 665.8 458C688.7 461.6 723.1 465.3 734.6 466.8" stroke="#7fdc93" stroke-opacity="0.8" stroke-width="12.5"/>
<path d="M115.4 318.9C126.9 315.6 161.3 303.2 184.2 299C207.1 294.7 230.1 293 253 293.2C275.9 293.5 298.9 297.1 321.8 300.5C344.7 303.9 367.7 307.6 390.6 313.9C413.5 320.2 436.5 329.7 459.4 338.4C482.3 347.2 505.3 358.5 528.2 366.4C551.1 374.3 574.1 379.8 597 386C619.9 392.1 642.9 397.6 665.8 403.2C688.7 408.8 723.1 416.6 734.6 419.3" stroke="#f2d646" stroke-opacity="0.8" stroke-width="12.5"/>
<path d="M115.4 318.9C126.9 314 161.3 297.9 184.2 289.8C207.1 281.6 230.1 275.1 253 269.8C275.9 264.5 298.9 260.8 321.8 258C344.7 255.1 367.7 253.3 390.6 252.6C413.5 251.9 436.5 252.7 459.4 253.7C482.3 254.8 505.3 256.6 528.2 259.1C551.1 261.7 574.1 265.1 597 269.1C619.9 273 642.9 276.7 665.8 282.9C688.7 289 723.1 302 734.6 305.9" stroke="#d52b1a" stroke-opacity="0.76" stroke-width="12.5"/>
<path d="M115.4 318.9C126.9 313.3 161.3 297.1 184.2 285.2C207.1 273.3 230.1 259 253 247.6C275.9 236.3 298.9 225.3 321.8 217C344.7 208.7 367.7 203.4 390.6 197.8C413.5 192.2 436.5 188.7 459.4 183.6C482.3 178.6 505.3 172.8 528.2 167.5C551.1 162.3 574.1 156.9 597 152.2C619.9 147.5 642.9 143.8 665.8 139.2C688.7 134.5 723.1 126.7 734.6 124.2" stroke="#a5171f" stroke-opacity="0.63" stroke-width="13.5"/>
</g>
<line x1="84" y1="444.5" x2="765.5" y2="444.5" stroke="#000" stroke-width="1.15" />
<path d="M144.1 320.9h11.4v11.4h-11.4ZM144.1 320.9l11.4 11.4M144.1 332.3l11.4 -11.4" stroke="#000" stroke-width="1.1" fill="none"/>
<path d="M144.1 317.8h11.4v11.4h-11.4ZM144.1 317.8l11.4 11.4M144.1 329.2l11.4 -11.4" stroke="#000" stroke-width="1.1" fill="none"/>
<path d="M178.5 327.8h11.4v11.4h-11.4ZM178.5 327.8l11.4 11.4M178.5 339.2l11.4 -11.4" stroke="#000" stroke-width="1.1" fill="none"/>
<path d="M178.5 323.5h11.4v11.4h-11.4ZM178.5 323.5l11.4 11.4M178.5 334.9l11.4 -11.4" stroke="#000" stroke-width="1.1" fill="none"/>
<path d="M247.3 344.2h11.4v11.4h-11.4ZM247.3 344.2l11.4 11.4M247.3 355.6l11.4 -11.4" stroke="#000" stroke-width="1.1" fill="none"/>
<path d="M281.7 314h11.4v11.4h-11.4ZM281.7 314l11.4 11.4M281.7 325.4l11.4 -11.4" stroke="#000" stroke-width="1.1" fill="none"/>
<path d="M316.1 315.9h11.4v11.4h-11.4ZM316.1 315.9l11.4 11.4M316.1 327.3l11.4 -11.4" stroke="#000" stroke-width="1.1" fill="none"/>
<path d="M316.1 361.1h11.4v11.4h-11.4ZM316.1 361.1l11.4 11.4M316.1 372.5l11.4 -11.4" stroke="#000" stroke-width="1.1" fill="none"/>
<path d="M350.5 291.7h11.4v11.4h-11.4ZM350.5 291.7l11.4 11.4M350.5 303.1l11.4 -11.4" stroke="#000" stroke-width="1.1" fill="none"/>
<path d="M350.5 318.2h11.4v11.4h-11.4ZM350.5 318.2l11.4 11.4M350.5 329.6l11.4 -11.4" stroke="#000" stroke-width="1.1" fill="none"/>
<path d="M350.5 372.6h11.4v11.4h-11.4ZM350.5 372.6l11.4 11.4M350.5 384l11.4 -11.4" stroke="#000" stroke-width="1.1" fill="none"/>
<path d="M384.9 289.1h11.4v11.4h-11.4ZM384.9 289.1l11.4 11.4M384.9 300.5l11.4 -11.4" stroke="#000" stroke-width="1.1" fill="none"/>
<path d="M384.9 320.9h11.4v11.4h-11.4ZM384.9 320.9l11.4 11.4M384.9 332.3l11.4 -11.4" stroke="#000" stroke-width="1.1" fill="none"/>
<path d="M384.9 384.1h11.4v11.4h-11.4ZM384.9 384.1l11.4 11.4M384.9 395.5l11.4 -11.4" stroke="#000" stroke-width="1.1" fill="none"/>
<path d="M107.2 319.3H123.7M115.4 311V327.5" stroke="#000" stroke-width="1.1" fill="none"/>
<path d="M141.6 313.9H158.1M149.8 305.7V322.2" stroke="#000" stroke-width="1.1" fill="none"/>
<path d="M175.9 310.1H192.4M184.2 301.8V318.3" stroke="#000" stroke-width="1.1" fill="none"/>
<path d="M210.4 308.9H226.9M218.6 300.7V317.2" stroke="#000" stroke-width="1.1" fill="none"/>
<path d="M244.8 308.5H261.2M253 300.3V316.8" stroke="#000" stroke-width="1.1" fill="none"/>
<path d="M279.1 318.1H295.6M287.4 309.9V326.4" stroke="#000" stroke-width="1.1" fill="none"/>
<path d="M313.6 334.2H330.1M321.8 326V342.5" stroke="#000" stroke-width="1.1" fill="none"/>
<path d="M347.9 353.8H364.4M356.2 345.5V362" stroke="#000" stroke-width="1.1" fill="none"/>
<path d="M382.4 373.7H398.9M390.6 365.4V381.9" stroke="#000" stroke-width="1.1" fill="none"/>
<path d="M416.8 395.2H433.2M425 386.9V403.4" stroke="#000" stroke-width="1.1" fill="none"/>
<path d="M451.1 415.5H467.6M459.4 407.2V423.7" stroke="#000" stroke-width="1.1" fill="none"/>
<path d="M485.5 432.3H502M493.8 424.1V440.6" stroke="#000" stroke-width="1.1" fill="none"/>
<path d="M520 444.2H536.5M528.2 435.9V452.4" stroke="#000" stroke-width="1.1" fill="none"/>
<path d="M554.4 456.8H570.9M562.6 448.6V465.1" stroke="#000" stroke-width="1.1" fill="none"/>
<path d="M588.8 463.7H605.2M597 455.5V472" stroke="#000" stroke-width="1.1" fill="none"/>
<path d="M623.1 465.3H639.6M631.4 457V473.5" stroke="#000" stroke-width="1.1" fill="none"/>
<path d="M657.5 466.6H674M665.8 458.4V474.9" stroke="#000" stroke-width="1.1" fill="none"/>
<path d="M691.9 467.6H708.4M700.2 459.3V475.8" stroke="#000" stroke-width="1.1" fill="none"/>
<path d="M726.4 468.7H742.9M734.6 460.5V477" stroke="#000" stroke-width="1.1" fill="none"/>
<circle cx="115.4" cy="323.1" r="5.6" fill="#000" stroke="none" stroke-width="1" />
<circle cx="149.8" cy="317.7" r="5.6" fill="#000" stroke="none" stroke-width="1" />
<circle cx="184.2" cy="307" r="5.6" fill="#000" stroke="none" stroke-width="1" />
<circle cx="184.2" cy="311.6" r="5.6" fill="#000" stroke="none" stroke-width="1" />
<circle cx="218.6" cy="309.3" r="5.6" fill="#000" stroke="none" stroke-width="1" />
<circle cx="218.6" cy="317" r="5.6" fill="#000" stroke="none" stroke-width="1" />
<circle cx="253" cy="300.1" r="5.6" fill="#000" stroke="none" stroke-width="1" />
<circle cx="253" cy="306.2" r="5.6" fill="#000" stroke="none" stroke-width="1" />
<circle cx="253" cy="313.1" r="5.6" fill="#000" stroke="none" stroke-width="1" />
<circle cx="253" cy="319.3" r="5.6" fill="#000" stroke="none" stroke-width="1" />
<circle cx="253" cy="323.9" r="5.6" fill="#000" stroke="none" stroke-width="1" />
<circle cx="287.4" cy="299.4" r="5.6" fill="#000" stroke="none" stroke-width="1" />
<circle cx="287.4" cy="304.3" r="5.6" fill="#000" stroke="none" stroke-width="1" />
<circle cx="287.4" cy="307.8" r="5.6" fill="#000" stroke="none" stroke-width="1" />
<circle cx="287.4" cy="335" r="5.6" fill="#000" stroke="none" stroke-width="1" />
<circle cx="321.8" cy="296.3" r="5.6" fill="#000" stroke="none" stroke-width="1" />
<circle cx="321.8" cy="300.9" r="5.6" fill="#000" stroke="none" stroke-width="1" />
<circle cx="321.8" cy="305.5" r="5.6" fill="#000" stroke="none" stroke-width="1" />
<circle cx="321.8" cy="308.5" r="5.6" fill="#000" stroke="none" stroke-width="1" />
<circle cx="321.8" cy="348.8" r="5.6" fill="#000" stroke="none" stroke-width="1" />
<circle cx="321.8" cy="375.6" r="5.6" fill="#000" stroke="none" stroke-width="1" />
<circle cx="321.8" cy="370.6" r="5.6" fill="#000" stroke="none" stroke-width="1" />
<rect x="144.1" y="309.7" width="11.4" height="11.4" fill="#000" stroke="none" stroke-width="1" />
<rect x="144.1" y="314.3" width="11.4" height="11.4" fill="#000" stroke="none" stroke-width="1" />
<rect x="178.5" y="306.3" width="11.4" height="11.4" fill="#000" stroke="none" stroke-width="1" />
<rect x="178.5" y="312" width="11.4" height="11.4" fill="#000" stroke="none" stroke-width="1" />
<rect x="178.5" y="317.8" width="11.4" height="11.4" fill="#000" stroke="none" stroke-width="1" />
<rect x="178.5" y="322.4" width="11.4" height="11.4" fill="#000" stroke="none" stroke-width="1" />
<rect x="212.9" y="300.5" width="11.4" height="11.4" fill="#000" stroke="none" stroke-width="1" />
<rect x="212.9" y="307.4" width="11.4" height="11.4" fill="#000" stroke="none" stroke-width="1" />
<rect x="212.9" y="314.3" width="11.4" height="11.4" fill="#000" stroke="none" stroke-width="1" />
<rect x="212.9" y="321.6" width="11.4" height="11.4" fill="#000" stroke="none" stroke-width="1" />
<rect x="212.9" y="328.5" width="11.4" height="11.4" fill="#000" stroke="none" stroke-width="1" />
<rect x="212.9" y="335" width="11.4" height="11.4" fill="#000" stroke="none" stroke-width="1" />
<rect x="247.3" y="338.1" width="11.4" height="11.4" fill="#000" stroke="none" stroke-width="1" />
<rect x="247.3" y="353.8" width="11.4" height="11.4" fill="#000" stroke="none" stroke-width="1" />
<rect x="281.7" y="313.2" width="11.4" height="11.4" fill="#000" stroke="none" stroke-width="1" />
<rect x="281.7" y="353" width="11.4" height="11.4" fill="#000" stroke="none" stroke-width="1" />
<rect x="281.7" y="373" width="11.4" height="11.4" fill="#000" stroke="none" stroke-width="1" />
<rect x="316.1" y="315.9" width="11.4" height="11.4" fill="#000" stroke="none" stroke-width="1" />
<rect x="316.1" y="391.7" width="11.4" height="11.4" fill="#000" stroke="none" stroke-width="1" />
<rect x="350.5" y="286" width="11.4" height="11.4" fill="#000" stroke="none" stroke-width="1" />
<rect x="350.5" y="377.6" width="11.4" height="11.4" fill="#000" stroke="none" stroke-width="1" />
<rect x="350.5" y="407.8" width="11.4" height="11.4" fill="#000" stroke="none" stroke-width="1" />
<rect x="384.9" y="286.2" width="11.4" height="11.4" fill="#000" stroke="none" stroke-width="1" />
<rect x="384.9" y="386.8" width="11.4" height="11.4" fill="#000" stroke="none" stroke-width="1" />
<rect x="384.9" y="420.5" width="11.4" height="11.4" fill="#000" stroke="none" stroke-width="1" />
<rect x="419.3" y="285.2" width="11.4" height="11.4" fill="#000" stroke="none" stroke-width="1" />
<rect x="419.3" y="396.3" width="11.4" height="11.4" fill="#000" stroke="none" stroke-width="1" />
<rect x="419.3" y="431.2" width="11.4" height="11.4" fill="#000" stroke="none" stroke-width="1" />
<rect x="453.7" y="285.6" width="11.4" height="11.4" fill="#000" stroke="none" stroke-width="1" />
<rect x="453.7" y="404" width="11.4" height="11.4" fill="#000" stroke="none" stroke-width="1" />
<rect x="453.7" y="438.9" width="11.4" height="11.4" fill="#000" stroke="none" stroke-width="1" />
<path d="M107.9 322.1L122.9 322.1L115.4 308.9Z" fill="#000"/>
<path d="M142.3 315.2L157.3 315.2L149.8 302Z" fill="#000"/>
<path d="M176.7 311L191.7 311L184.2 297.8Z" fill="#000"/>
<path d="M211.1 304.5L226.1 304.5L218.6 291.3Z" fill="#000"/>
<path d="M245.5 300.3L260.5 300.3L253 287.1Z" fill="#000"/>
<path d="M279.9 296.8L294.9 296.8L287.4 283.6Z" fill="#000"/>
<path d="M314.3 295.3L329.3 295.3L321.8 282.1Z" fill="#000"/>
<path d="M279.9 301.4L294.9 301.4L287.4 288.2Z" fill="#000"/>
<path d="M314.3 300.3L329.3 300.3L321.8 287.1Z" fill="#000"/>
<rect x="84" y="36.5" width="681.5" height="506.2" fill="none" stroke="#000" stroke-width="1.1" />
<line x1="84" y1="36.5" x2="84" y2="542.7" stroke="#333" stroke-width="1.6" />
<line x1="84" y1="542.7" x2="765.5" y2="542.7" stroke="#333" stroke-width="1.6" />
<line x1="115.4" y1="542.7" x2="115.4" y2="554.7" stroke="#555" stroke-width="1.4" />
<text x="115.4" y="582" text-anchor="middle" font-size="27" font-weight="normal" >2010</text>
<line x1="184.2" y1="542.7" x2="184.2" y2="554.7" stroke="#555" stroke-width="1.4" />
<text x="184.2" y="582" text-anchor="middle" font-size="27" font-weight="normal" >2020</text>
<line x1="253" y1="542.7" x2="253" y2="554.7" stroke="#555" stroke-width="1.4" />
<text x="253" y="582" text-anchor="middle" font-size="27" font-weight="normal" >2030</text>
<line x1="321.8" y1="542.7" x2="321.8" y2="554.7" stroke="#555" stroke-width="1.4" />
<text x="321.8" y="582" text-anchor="middle" font-size="27" font-weight="normal" >2040</text>
<line x1="390.6" y1="542.7" x2="390.6" y2="554.7" stroke="#555" stroke-width="1.4" />
<text x="390.6" y="582" text-anchor="middle" font-size="27" font-weight="normal" >2050</text>
<line x1="459.4" y1="542.7" x2="459.4" y2="554.7" stroke="#555" stroke-width="1.4" />
<text x="459.4" y="582" text-anchor="middle" font-size="27" font-weight="normal" >2060</text>
<line x1="528.2" y1="542.7" x2="528.2" y2="554.7" stroke="#555" stroke-width="1.4" />
<text x="528.2" y="582" text-anchor="middle" font-size="27" font-weight="normal" >2070</text>
<line x1="597" y1="542.7" x2="597" y2="554.7" stroke="#555" stroke-width="1.4" />
<text x="597" y="582" text-anchor="middle" font-size="27" font-weight="normal" >2080</text>
<line x1="665.8" y1="542.7" x2="665.8" y2="554.7" stroke="#555" stroke-width="1.4" />
<text x="665.8" y="582" text-anchor="middle" font-size="27" font-weight="normal" >2090</text>
<line x1="734.6" y1="542.7" x2="734.6" y2="554.7" stroke="#555" stroke-width="1.4" />
<text x="734.6" y="582" text-anchor="middle" font-size="27" font-weight="normal" >2100</text>
<line x1="72.5" y1="61.3" x2="84" y2="61.3" stroke="#3a3a3a" stroke-width="1.4" />
<text x="67" y="70" text-anchor="end" font-size="27" font-weight="normal" >100</text>
<line x1="72.5" y1="157.1" x2="84" y2="157.1" stroke="#3a3a3a" stroke-width="1.4" />
<text x="67" y="165.8" text-anchor="end" font-size="27" font-weight="normal" >75</text>
<line x1="72.5" y1="252.9" x2="84" y2="252.9" stroke="#3a3a3a" stroke-width="1.4" />
<text x="67" y="261.6" text-anchor="end" font-size="27" font-weight="normal" >50</text>
<line x1="72.5" y1="348.7" x2="84" y2="348.7" stroke="#3a3a3a" stroke-width="1.4" />
<text x="67" y="357.4" text-anchor="end" font-size="27" font-weight="normal" >25</text>
<line x1="72.5" y1="444.5" x2="84" y2="444.5" stroke="#3a3a3a" stroke-width="1.4" />
<text x="67" y="453.2" text-anchor="end" font-size="27" font-weight="normal" >0</text>
<line x1="72.5" y1="543" x2="84" y2="543" stroke="#3a3a3a" stroke-width="1.4" />
<text x="67" y="549.2" text-anchor="end" font-size="27" font-weight="normal" >−25</text>
<text transform="translate(20.5,298) rotate(-90)" text-anchor="middle" font-size="27">Global CO<tspan font-size="19" dy="7.5">2</tspan><tspan dy="-7.5"> emissions</tspan></text>
<text x="317" y="81" text-anchor="middle" font-size="27" font-weight="normal" >Time horizon</text>
<text x="317" y="110.5" text-anchor="middle" font-size="27" font-weight="normal" >from peak</text>
<circle cx="90.2" cy="625" r="6.2" fill="#000" stroke="none" stroke-width="1" />
<text x="104.1" y="633.5" text-anchor="start" font-size="27" font-weight="normal" >BP</text>
<path d="M162.1 630.9L178.1 630.9L170.1 616.8Z" fill="#000"/>
<text x="185.6" y="633.5" text-anchor="start" font-size="27" font-weight="normal" >EXXON</text>
<rect x="303.1" y="619" width="12" height="12" fill="#000" stroke="none" stroke-width="1" />
<text x="325.6" y="633.5" text-anchor="start" font-size="27" font-weight="normal" >IEA</text>
<path d="M398.1 625H415.1M406.6 616.5V633.5" stroke="#000" stroke-width="1.1" fill="none"/>
<text x="423.1" y="633.5" text-anchor="start" font-size="27" font-weight="normal" >SHELL</text>
<path d="M540.6 618.8h12.5v12.5h-12.5ZM540.6 618.8l12.5 12.5M540.6 631.2l12.5 -12.5" stroke="#000" stroke-width="1.1" fill="none"/>
<text x="564.6" y="633.5" text-anchor="start" font-size="27" font-weight="normal" >STATOIL</text>
<rect x="45" y="671.5" width="22" height="12.5" fill="#66952a" stroke="none" stroke-width="1" fill-opacity="0.7000000000000001"/>
<text x="73.4" y="686.5" text-anchor="start" font-size="27" font-weight="normal" >&lt;1.5<tspan dx="4">°C</tspan></text>
<rect x="176.4" y="671.5" width="22" height="12.5" fill="#7fdc93" stroke="none" stroke-width="1" fill-opacity="0.7000000000000001"/>
<text x="208.5" y="686.5" text-anchor="start" font-size="27" font-weight="normal" >1.5<tspan dx="4">°C</tspan>–2<tspan dx="4">°C</tspan></text>
<rect x="358" y="671.5" width="22" height="12.5" fill="#f2d646" stroke="none" stroke-width="1" fill-opacity="0.7000000000000001"/>
<text x="387" y="686.5" text-anchor="start" font-size="27" font-weight="normal" >2<tspan dx="4">°C</tspan><tspan dx="1">−</tspan><tspan dx="1">3</tspan><tspan dx="4">°C</tspan></text>
<rect x="513" y="671.5" width="22" height="12.5" fill="#d52b1a" stroke="none" stroke-width="1" fill-opacity="0.66"/>
<text x="543" y="686.5" text-anchor="start" font-size="27" font-weight="normal" >3<tspan dx="4">°C</tspan><tspan dx="1">−</tspan><tspan dx="1">4</tspan><tspan dx="4">°C</tspan></text>
<rect x="668" y="671.5" width="22" height="12.5" fill="#a5171f" stroke="none" stroke-width="1" fill-opacity="0.53"/>
<text x="699.6" y="686.5" text-anchor="start" font-size="27" font-weight="normal" >4<tspan dx="4">°C</tspan>/BAU</text>
</g>
<g id="panel-b">
<text x="849" y="23.5" text-anchor="start" font-size="31" font-weight="bold" >b</text>
<line x1="1047" y1="36.5" x2="1047" y2="542.3" stroke="#dcdcdc" stroke-width="1.3" />
<line x1="1217.4" y1="36.5" x2="1217.4" y2="542.3" stroke="#dcdcdc" stroke-width="1.3" />
<line x1="1387.8" y1="36.5" x2="1387.8" y2="542.3" stroke="#dcdcdc" stroke-width="1.3" />
<line x1="1558.2" y1="36.5" x2="1558.2" y2="542.3" stroke="#dcdcdc" stroke-width="1.3" />
<line x1="1728.6" y1="36.5" x2="1728.6" y2="542.3" stroke="#dcdcdc" stroke-width="1.3" />
<line x1="1899" y1="36.5" x2="1899" y2="542.3" stroke="#dcdcdc" stroke-width="1.3" />
<line x1="2069.4" y1="36.5" x2="2069.4" y2="542.3" stroke="#dcdcdc" stroke-width="1.3" />
<line x1="944.4" y1="520.3" x2="2173.2" y2="520.3" stroke="#dcdcdc" stroke-width="1.3" />
<line x1="944.4" y1="411.1" x2="2173.2" y2="411.1" stroke="#dcdcdc" stroke-width="1.3" />
<line x1="944.4" y1="192.7" x2="2173.2" y2="192.7" stroke="#dcdcdc" stroke-width="1.3" />
<line x1="944.4" y1="83.5" x2="2173.2" y2="83.5" stroke="#dcdcdc" stroke-width="1.3" />
<line x1="944.4" y1="302.4" x2="2173.2" y2="302.4" stroke="#000" stroke-width="1.15" />
<g fill="none" stroke="#66952a" stroke-opacity="0.42" stroke-width="1.3"><circle cx="984.1" cy="398.4" r="10.8"/><circle cx="1037.5" cy="418.3" r="10.8"/><circle cx="1104.9" cy="434.8" r="10.8"/><circle cx="1093.5" cy="458.6" r="10.8"/><circle cx="1097.8" cy="458.6" r="10.8"/><circle cx="1083.6" cy="469.4" r="10.8"/><circle cx="1089.2" cy="469.4" r="10.8"/><circle cx="1112" cy="472.3" r="10.8"/><circle cx="1058" cy="479.4" r="10.8"/><circle cx="1063.7" cy="477.9" r="10.8"/><circle cx="1079.3" cy="476.5" r="10.8"/><circle cx="1068.8" cy="495" r="10.8"/></g>
<g fill="#7fdc93" fill-opacity="0.3" stroke="#7fdc93" stroke-opacity="0.42" stroke-width="1.2"><circle cx="1060.3" cy="345.8" r="10.8"/><circle cx="1046.6" cy="360.6" r="10.8"/><circle cx="1040.9" cy="374.2" r="10.8"/><circle cx="1009.7" cy="375.6" r="10.8"/><circle cx="1050.9" cy="389.9" r="10.8"/><circle cx="1108.3" cy="380.8" r="10.8"/><circle cx="1077.9" cy="384.2" r="10.8"/><circle cx="1019.6" cy="406.9" r="10.8"/><circle cx="1062.2" cy="418.3" r="10.8"/><circle cx="1083.6" cy="408.3" r="10.8"/><circle cx="1085" cy="411.2" r="10.8"/><circle cx="1015.4" cy="431.6" r="10.8"/><circle cx="1021" cy="431.9" r="10.8"/><circle cx="1052.3" cy="428.2" r="10.8"/><circle cx="1056.6" cy="425.4" r="10.8"/><circle cx="1104.9" cy="435.3" r="10.8"/><circle cx="1107.7" cy="437.6" r="10.8"/><circle cx="1011.1" cy="308.9" r="10.8"/></g>
<g fill="#f2d646" fill-opacity="0.3" stroke="#f2d646" stroke-opacity="0.42" stroke-width="1.2"><circle cx="1074.2" cy="252.9" r="10.8"/><circle cx="989.8" cy="287" r="10.8"/><circle cx="984.1" cy="304.6" r="10.8"/><circle cx="1004" cy="304.6" r="10.8"/><circle cx="995.5" cy="308.9" r="10.8"/><circle cx="978.4" cy="320.2" r="10.8"/><circle cx="1011.1" cy="335.9" r="10.8"/><circle cx="994" cy="346.7" r="10.8"/><circle cx="1092.1" cy="340.1" r="10.8"/><circle cx="1018.2" cy="361.4" r="10.8"/><circle cx="1005.4" cy="362.9" r="10.8"/><circle cx="1077.9" cy="365.7" r="10.8"/><circle cx="1063.7" cy="367.7" r="10.8"/><circle cx="1025.3" cy="377.1" r="10.8"/><circle cx="1077.9" cy="377.9" r="10.8"/><circle cx="1011.1" cy="395.5" r="10.8"/><circle cx="1000.6" cy="407.5" r="10.8"/><circle cx="1048" cy="310.3" r="10.8"/><circle cx="1032.4" cy="316" r="10.8"/><circle cx="1072.2" cy="318.8" r="10.8"/><circle cx="1085" cy="324.5" r="10.8"/><circle cx="1049.5" cy="321.7" r="10.8"/><circle cx="1104.9" cy="284.7" r="10.8"/><circle cx="1085" cy="286.1" r="10.8"/><circle cx="1067.9" cy="296.1" r="10.8"/><circle cx="1092.1" cy="293.2" r="10.8"/><circle cx="1104.9" cy="290.4" r="10.8"/><circle cx="1040.9" cy="279" r="10.8"/><circle cx="1048" cy="279" r="10.8"/><circle cx="1009.7" cy="337.3" r="10.8"/><circle cx="1013.9" cy="379.9" r="10.8"/><circle cx="1021" cy="307.4" r="10.8"/><circle cx="1103.5" cy="310.3" r="10.8"/></g>
<g fill="none" stroke="#d52b1a" stroke-opacity="0.42" stroke-width="1.3"><circle cx="1111.7" cy="193.5" r="10.8"/><circle cx="1036.7" cy="219.4" r="10.8"/><circle cx="986.9" cy="238.4" r="10.8"/><circle cx="1011.1" cy="244.9" r="10.8"/><circle cx="1026.7" cy="242.1" r="10.8"/><circle cx="1035.3" cy="247.8" r="10.8"/><circle cx="1094.9" cy="249.2" r="10.8"/><circle cx="1065.1" cy="254.9" r="10.8"/><circle cx="1113.4" cy="264.8" r="10.8"/><circle cx="1109.1" cy="266.2" r="10.8"/><circle cx="996.9" cy="270.5" r="10.8"/><circle cx="1023.9" cy="273.3" r="10.8"/><circle cx="1043.8" cy="276.2" r="10.8"/><circle cx="1083.6" cy="271.9" r="10.8"/><circle cx="1105.7" cy="281.9" r="10.8"/><circle cx="1025.3" cy="284.7" r="10.8"/><circle cx="1035.3" cy="270.5" r="10.8"/><circle cx="1004" cy="262" r="10.8"/><circle cx="1015.4" cy="293.2" r="10.8"/><circle cx="1097.8" cy="233.6" r="10.8"/><circle cx="1075" cy="236.4" r="10.8"/><circle cx="1052.3" cy="259.1" r="10.8"/><circle cx="1015.4" cy="259.1" r="10.8"/></g>
<g fill="#a5171f" fill-opacity="0.3" stroke="#a5171f" stroke-opacity="0.42" stroke-width="1.2"><circle cx="1076.2" cy="142.6" r="10.8"/><circle cx="1101.2" cy="161.7" r="10.8"/><circle cx="1051.2" cy="178.7" r="10.8"/><circle cx="1077.3" cy="200" r="10.8"/><circle cx="987.5" cy="223.9" r="10.8"/><circle cx="1026.7" cy="220.8" r="10.8"/><circle cx="1035.3" cy="225" r="10.8"/><circle cx="1045.2" cy="235.5" r="10.8"/><circle cx="1008.3" cy="233.6" r="10.8"/><circle cx="1106.3" cy="233.6" r="10.8"/><circle cx="995.5" cy="249.2" r="10.8"/><circle cx="1001.2" cy="250" r="10.8"/></g>
<g fill="none" stroke="#66952a" stroke-opacity="0.42" stroke-width="1.3"><circle cx="1192.1" cy="365.1" r="10.8"/><circle cx="1251.8" cy="412.6" r="10.8"/><circle cx="1248.4" cy="419.7" r="10.8"/><circle cx="1169.7" cy="431.1" r="10.8"/><circle cx="1183" cy="442.4" r="10.8"/><circle cx="1257.5" cy="442.4" r="10.8"/><circle cx="1198.7" cy="463.2" r="10.8"/><circle cx="1162.6" cy="468.9" r="10.8"/><circle cx="1180.7" cy="471.7" r="10.8"/><circle cx="1221.4" cy="449.5" r="10.8"/><circle cx="1279.1" cy="482.8" r="10.8"/><circle cx="1200.6" cy="497.8" r="10.8"/></g>
<g fill="#7fdc93" fill-opacity="0.3" stroke="#7fdc93" stroke-opacity="0.42" stroke-width="1.2"><circle cx="1212.9" cy="316.5" r="10.8"/><circle cx="1251.8" cy="334.4" r="10.8"/><circle cx="1256.9" cy="341" r="10.8"/><circle cx="1153.2" cy="360" r="10.8"/><circle cx="1276.2" cy="362" r="10.8"/><circle cx="1206.3" cy="374.2" r="10.8"/><circle cx="1180.7" cy="384.2" r="10.8"/><circle cx="1202.9" cy="385.6" r="10.8"/><circle cx="1235.6" cy="387" r="10.8"/><circle cx="1154" cy="400.7" r="10.8"/><circle cx="1179.6" cy="406.3" r="10.8"/><circle cx="1194.4" cy="414.9" r="10.8"/><circle cx="1239.9" cy="420.5" r="10.8"/><circle cx="1200.1" cy="424" r="10.8"/><circle cx="1198.7" cy="427.4" r="10.8"/><circle cx="1229.9" cy="429.6" r="10.8"/><circle cx="1269.7" cy="438.2" r="10.8"/><circle cx="1234.2" cy="392.7" r="10.8"/></g>
<g fill="#f2d646" fill-opacity="0.3" stroke="#f2d646" stroke-opacity="0.42" stroke-width="1.2"><circle cx="1158.9" cy="232.1" r="10.8"/><circle cx="1160.3" cy="253.5" r="10.8"/><circle cx="1161.7" cy="271.9" r="10.8"/><circle cx="1166" cy="277.6" r="10.8"/><circle cx="1239.9" cy="276.2" r="10.8"/><circle cx="1251.2" cy="271.9" r="10.8"/><circle cx="1265.4" cy="293.2" r="10.8"/><circle cx="1222.8" cy="273.3" r="10.8"/><circle cx="1234.2" cy="284.7" r="10.8"/><circle cx="1166" cy="284.7" r="10.8"/><circle cx="1174.5" cy="296.1" r="10.8"/><circle cx="1239.9" cy="303.2" r="10.8"/><circle cx="1217.1" cy="311.7" r="10.8"/><circle cx="1180.2" cy="320.2" r="10.8"/><circle cx="1163.1" cy="327.3" r="10.8"/><circle cx="1168.8" cy="333" r="10.8"/><circle cx="1187.3" cy="332.5" r="10.8"/><circle cx="1157.4" cy="343.8" r="10.8"/><circle cx="1174.5" cy="350.1" r="10.8"/><circle cx="1232.8" cy="327.3" r="10.8"/><circle cx="1204.3" cy="352.9" r="10.8"/><circle cx="1239.9" cy="349.5" r="10.8"/><circle cx="1177.3" cy="358.6" r="10.8"/><circle cx="1239.9" cy="366.6" r="10.8"/><circle cx="1274" cy="367.1" r="10.8"/><circle cx="1274" cy="391.3" r="10.8"/><circle cx="1218.5" cy="398.4" r="10.8"/><circle cx="1268.3" cy="316" r="10.8"/><circle cx="1251.2" cy="298.9" r="10.8"/><circle cx="1282.5" cy="296.1" r="10.8"/><circle cx="1200.1" cy="281.9" r="10.8"/><circle cx="1205.8" cy="298.9" r="10.8"/><circle cx="1188.7" cy="296.1" r="10.8"/></g>
<g fill="none" stroke="#d52b1a" stroke-opacity="0.42" stroke-width="1.3"><circle cx="1273.1" cy="182.4" r="10.8"/><circle cx="1247.5" cy="216.5" r="10.8"/><circle cx="1151.8" cy="235.8" r="10.8"/><circle cx="1158.9" cy="246.3" r="10.8"/><circle cx="1234.2" cy="239.2" r="10.8"/><circle cx="1259.7" cy="240.7" r="10.8"/><circle cx="1274" cy="242.1" r="10.8"/><circle cx="1207.2" cy="243.5" r="10.8"/><circle cx="1245.5" cy="244.9" r="10.8"/><circle cx="1171.7" cy="247.8" r="10.8"/><circle cx="1191.5" cy="252" r="10.8"/><circle cx="1279.6" cy="256.3" r="10.8"/><circle cx="1205.8" cy="259.1" r="10.8"/><circle cx="1185.9" cy="267.7" r="10.8"/><circle cx="1251.2" cy="262" r="10.8"/><circle cx="1222.8" cy="242.1" r="10.8"/><circle cx="1268.3" cy="250.6" r="10.8"/><circle cx="1200.1" cy="247.8" r="10.8"/><circle cx="1166" cy="259.1" r="10.8"/><circle cx="1228.5" cy="259.1" r="10.8"/><circle cx="1262.6" cy="264.8" r="10.8"/><circle cx="1174.5" cy="236.4" r="10.8"/></g>
<g fill="#a5171f" fill-opacity="0.3" stroke="#a5171f" stroke-opacity="0.42" stroke-width="1.2"><circle cx="1247.5" cy="148.3" r="10.8"/><circle cx="1260.9" cy="156.8" r="10.8"/><circle cx="1281.6" cy="146" r="10.8"/><circle cx="1160" cy="178.7" r="10.8"/><circle cx="1194.4" cy="206.6" r="10.8"/><circle cx="1212.9" cy="219.4" r="10.8"/><circle cx="1191.5" cy="222.2" r="10.8"/><circle cx="1281.9" cy="223.6" r="10.8"/><circle cx="1183" cy="229.3" r="10.8"/><circle cx="1222.8" cy="233.6" r="10.8"/><circle cx="1180.2" cy="230.7" r="10.8"/></g>
<g fill="none" stroke="#66952a" stroke-opacity="0.42" stroke-width="1.3"><circle cx="1332.8" cy="434.9" r="10.8"/><circle cx="1352.6" cy="445.8" r="10.8"/><circle cx="1362.4" cy="465.6" r="10.8"/><circle cx="1378.9" cy="457.9" r="10.8"/><circle cx="1380" cy="459" r="10.8"/><circle cx="1374.5" cy="474.4" r="10.8"/><circle cx="1396.5" cy="494.1" r="10.8"/><circle cx="1424.3" cy="436" r="10.8"/><circle cx="1430.5" cy="419.5" r="10.8"/><circle cx="1439.3" cy="420.6" r="10.8"/><circle cx="1383.3" cy="410.7" r="10.8"/><circle cx="1411.8" cy="377.8" r="10.8"/><circle cx="1355.8" cy="428.3" r="10.8"/><circle cx="1404.1" cy="432.7" r="10.8"/></g>
<g fill="#7fdc93" fill-opacity="0.3" stroke="#7fdc93" stroke-opacity="0.42" stroke-width="1.2"><circle cx="1322.9" cy="340.5" r="10.8"/><circle cx="1377.8" cy="353.6" r="10.8"/><circle cx="1391" cy="351.4" r="10.8"/><circle cx="1417.3" cy="362.4" r="10.8"/><circle cx="1355.8" cy="370.1" r="10.8"/><circle cx="1364.6" cy="373.4" r="10.8"/><circle cx="1389.9" cy="377.8" r="10.8"/><circle cx="1443.6" cy="347.1" r="10.8"/><circle cx="1369" cy="410.7" r="10.8"/><circle cx="1404.1" cy="411.8" r="10.8"/><circle cx="1446.9" cy="411.8" r="10.8"/><circle cx="1344.9" cy="419.5" r="10.8"/><circle cx="1428.3" cy="423.9" r="10.8"/><circle cx="1362.4" cy="439.2" r="10.8"/><circle cx="1388.8" cy="401.9" r="10.8"/><circle cx="1415.1" cy="397.5" r="10.8"/><circle cx="1380.9" cy="345.4" r="10.8"/><circle cx="1346.4" cy="373.2" r="10.8"/><circle cx="1397" cy="351.8" r="10.8"/><circle cx="1370.2" cy="420.2" r="10.8"/><circle cx="1449.3" cy="399.1" r="10.8"/><circle cx="1412.3" cy="392.6" r="10.8"/></g>
<g fill="#f2d646" fill-opacity="0.3" stroke="#f2d646" stroke-opacity="0.42" stroke-width="1.2"><circle cx="1463.4" cy="330.6" r="10.8"/><circle cx="1457.9" cy="369" r="10.8"/><circle cx="1445.8" cy="380" r="10.8"/><circle cx="1316.3" cy="362.4" r="10.8"/><circle cx="1331.7" cy="383.3" r="10.8"/><circle cx="1340.5" cy="382.2" r="10.8"/><circle cx="1439.3" cy="353.6" r="10.8"/><circle cx="1333.3" cy="340.6" r="10.8"/><circle cx="1449.1" cy="364.5" r="10.8"/><circle cx="1337.4" cy="335.8" r="10.8"/><circle cx="1335.1" cy="325.4" r="10.8"/><circle cx="1427" cy="331.9" r="10.8"/><circle cx="1395.6" cy="347.1" r="10.8"/><circle cx="1347" cy="363" r="10.8"/><circle cx="1339.1" cy="358" r="10.8"/><circle cx="1337.2" cy="345.6" r="10.8"/><circle cx="1349.9" cy="337.1" r="10.8"/><circle cx="1450" cy="367" r="10.8"/><circle cx="1361.9" cy="371.6" r="10.8"/><circle cx="1349.6" cy="344.1" r="10.8"/><circle cx="1434.6" cy="357.9" r="10.8"/><circle cx="1335" cy="377.4" r="10.8"/><circle cx="1349.9" cy="336.5" r="10.8"/><circle cx="1423.8" cy="340.4" r="10.8"/><circle cx="1360.9" cy="326.1" r="10.8"/><circle cx="1333.7" cy="354.6" r="10.8"/><circle cx="1353.9" cy="355.7" r="10.8"/><circle cx="1370.9" cy="347.4" r="10.8"/><circle cx="1448.4" cy="349.1" r="10.8"/><circle cx="1397.6" cy="370.5" r="10.8"/><circle cx="1345.9" cy="330.6" r="10.8"/><circle cx="1441.7" cy="367.8" r="10.8"/><circle cx="1354.7" cy="332.6" r="10.8"/><circle cx="1419.4" cy="374.7" r="10.8"/><circle cx="1347.7" cy="375.2" r="10.8"/><circle cx="1438.2" cy="355.8" r="10.8"/><circle cx="1377.4" cy="327.8" r="10.8"/><circle cx="1326.9" cy="375.9" r="10.8"/><circle cx="1353.3" cy="361.5" r="10.8"/><circle cx="1355.7" cy="368.1" r="10.8"/><circle cx="1400.5" cy="338.4" r="10.8"/><circle cx="1345" cy="362.3" r="10.8"/><circle cx="1330.9" cy="334.8" r="10.8"/><circle cx="1395.6" cy="369.7" r="10.8"/><circle cx="1402.9" cy="337.7" r="10.8"/><circle cx="1442.9" cy="333.4" r="10.8"/><circle cx="1324" cy="337.1" r="10.8"/></g>
<g fill="none" stroke="#d52b1a" stroke-opacity="0.42" stroke-width="1.3"><circle cx="1453.5" cy="295.5" r="10.8"/><circle cx="1455.7" cy="309.7" r="10.8"/><circle cx="1320.7" cy="307.6" r="10.8"/><circle cx="1450.2" cy="318.5" r="10.8"/><circle cx="1327.3" cy="314.1" r="10.8"/><circle cx="1443.6" cy="303.2" r="10.8"/><circle cx="1448" cy="309.7" r="10.8"/><circle cx="1381.7" cy="310.6" r="10.8"/><circle cx="1442.1" cy="308.1" r="10.8"/><circle cx="1388.8" cy="311.3" r="10.8"/><circle cx="1347.4" cy="309.3" r="10.8"/><circle cx="1404.4" cy="316.6" r="10.8"/><circle cx="1335.8" cy="303.9" r="10.8"/><circle cx="1335.4" cy="317.1" r="10.8"/><circle cx="1412.6" cy="297.1" r="10.8"/><circle cx="1449.5" cy="321.1" r="10.8"/><circle cx="1407.5" cy="312" r="10.8"/><circle cx="1344" cy="296.4" r="10.8"/><circle cx="1391.4" cy="297.5" r="10.8"/><circle cx="1348.1" cy="302.3" r="10.8"/><circle cx="1327.7" cy="308.1" r="10.8"/><circle cx="1380.2" cy="317.9" r="10.8"/><circle cx="1390.2" cy="312.6" r="10.8"/><circle cx="1387.8" cy="313.2" r="10.8"/><circle cx="1382.3" cy="303.2" r="10.8"/><circle cx="1451.5" cy="321.9" r="10.8"/><circle cx="1431.3" cy="314.4" r="10.8"/><circle cx="1364.2" cy="302" r="10.8"/><circle cx="1360.8" cy="297.8" r="10.8"/><circle cx="1421.9" cy="306.4" r="10.8"/><circle cx="1432.2" cy="306" r="10.8"/><circle cx="1446.4" cy="318" r="10.8"/><circle cx="1323.9" cy="301.5" r="10.8"/><circle cx="1440.3" cy="308.2" r="10.8"/><circle cx="1449.3" cy="306.3" r="10.8"/><circle cx="1333.1" cy="312.4" r="10.8"/><circle cx="1423.4" cy="303" r="10.8"/></g>
<g fill="#a5171f" fill-opacity="0.3" stroke="#a5171f" stroke-opacity="0.42" stroke-width="1.2"><circle cx="1332.1" cy="286.7" r="10.8"/><circle cx="1397.6" cy="291.1" r="10.8"/><circle cx="1443.6" cy="293.3" r="10.8"/><circle cx="1421.7" cy="295.5" r="10.8"/><circle cx="1360.2" cy="298.8" r="10.8"/><circle cx="1369" cy="298.3" r="10.8"/><circle cx="1382.2" cy="299.9" r="10.8"/><circle cx="1344.9" cy="301" r="10.8"/><circle cx="1410.7" cy="298.8" r="10.8"/><circle cx="1434.9" cy="299.9" r="10.8"/></g>
<g fill="none" stroke="#66952a" stroke-opacity="0.42" stroke-width="1.3"><circle cx="1524.9" cy="502.9" r="10.8"/><circle cx="1546.8" cy="496.3" r="10.8"/><circle cx="1542.4" cy="487.5" r="10.8"/><circle cx="1603.9" cy="507.3" r="10.8"/><circle cx="1606.1" cy="491.9" r="10.8"/><circle cx="1579.7" cy="448" r="10.8"/><circle cx="1606.1" cy="478.8" r="10.8"/><circle cx="1564.4" cy="478.8" r="10.8"/><circle cx="1516.1" cy="483.1" r="10.8"/><circle cx="1592.9" cy="485.3" r="10.8"/></g>
<g fill="#7fdc93" fill-opacity="0.3" stroke="#7fdc93" stroke-opacity="0.42" stroke-width="1.2"><circle cx="1493" cy="454.6" r="10.8"/><circle cx="1619.2" cy="463.4" r="10.8"/><circle cx="1499.6" cy="473.3" r="10.8"/><circle cx="1517.2" cy="437.1" r="10.8"/><circle cx="1560" cy="437.1" r="10.8"/><circle cx="1522.7" cy="470" r="10.8"/><circle cx="1577.5" cy="472.2" r="10.8"/><circle cx="1614.8" cy="467.8" r="10.8"/><circle cx="1544.6" cy="445.8" r="10.8"/><circle cx="1597.3" cy="459" r="10.8"/><circle cx="1509.5" cy="459" r="10.8"/><circle cx="1564.4" cy="467.8" r="10.8"/><circle cx="1520.4" cy="467.8" r="10.8"/><circle cx="1621.6" cy="471" r="10.8"/><circle cx="1563.1" cy="463.2" r="10.8"/><circle cx="1534.5" cy="468.2" r="10.8"/><circle cx="1605.2" cy="444.6" r="10.8"/><circle cx="1503.1" cy="448.5" r="10.8"/><circle cx="1564.8" cy="462.3" r="10.8"/><circle cx="1556.5" cy="431.2" r="10.8"/><circle cx="1599" cy="432.7" r="10.8"/><circle cx="1597.8" cy="437.3" r="10.8"/></g>
<g fill="#f2d646" fill-opacity="0.3" stroke="#f2d646" stroke-opacity="0.42" stroke-width="1.2"><circle cx="1626.9" cy="385.5" r="10.8"/><circle cx="1628" cy="428.3" r="10.8"/><circle cx="1491.9" cy="417.3" r="10.8"/><circle cx="1619.2" cy="439.2" r="10.8"/><circle cx="1608.3" cy="443.6" r="10.8"/><circle cx="1518.4" cy="408.1" r="10.8"/><circle cx="1598.6" cy="435.2" r="10.8"/><circle cx="1608.4" cy="405.5" r="10.8"/><circle cx="1569.2" cy="401.7" r="10.8"/><circle cx="1510.2" cy="411.8" r="10.8"/><circle cx="1602.7" cy="431.5" r="10.8"/><circle cx="1586.1" cy="437.2" r="10.8"/><circle cx="1528.7" cy="393.5" r="10.8"/><circle cx="1551.7" cy="399.4" r="10.8"/><circle cx="1520.5" cy="407.2" r="10.8"/><circle cx="1574.8" cy="411.7" r="10.8"/><circle cx="1533.8" cy="431" r="10.8"/><circle cx="1621.8" cy="409.3" r="10.8"/><circle cx="1502.1" cy="385.8" r="10.8"/><circle cx="1607.4" cy="386.3" r="10.8"/><circle cx="1585.7" cy="416" r="10.8"/><circle cx="1533" cy="428.3" r="10.8"/><circle cx="1494.7" cy="391.6" r="10.8"/><circle cx="1552.2" cy="385.4" r="10.8"/><circle cx="1601.7" cy="397.3" r="10.8"/><circle cx="1510.8" cy="386.6" r="10.8"/><circle cx="1575.3" cy="409" r="10.8"/><circle cx="1575.4" cy="420.7" r="10.8"/><circle cx="1598.8" cy="437.7" r="10.8"/><circle cx="1582.6" cy="395.2" r="10.8"/><circle cx="1554.9" cy="394" r="10.8"/><circle cx="1493.6" cy="410.4" r="10.8"/><circle cx="1586.5" cy="394" r="10.8"/><circle cx="1528.2" cy="403.4" r="10.8"/><circle cx="1584.2" cy="413.1" r="10.8"/><circle cx="1573.3" cy="426.3" r="10.8"/><circle cx="1544.1" cy="428.3" r="10.8"/><circle cx="1611.8" cy="388.9" r="10.8"/><circle cx="1615.3" cy="424.5" r="10.8"/><circle cx="1509.3" cy="409.4" r="10.8"/><circle cx="1574.8" cy="435" r="10.8"/><circle cx="1541.9" cy="415.9" r="10.8"/><circle cx="1608.3" cy="428.6" r="10.8"/><circle cx="1616.8" cy="410" r="10.8"/><circle cx="1578.2" cy="395.5" r="10.8"/><circle cx="1587.5" cy="429.8" r="10.8"/><circle cx="1576.9" cy="424.2" r="10.8"/></g>
<g fill="none" stroke="#d52b1a" stroke-opacity="0.42" stroke-width="1.3"><circle cx="1509.5" cy="340.5" r="10.8"/><circle cx="1504" cy="349.3" r="10.8"/><circle cx="1586.3" cy="353.6" r="10.8"/><circle cx="1605" cy="344.9" r="10.8"/><circle cx="1491.9" cy="391" r="10.8"/><circle cx="1489.7" cy="401.9" r="10.8"/><circle cx="1542.4" cy="419.5" r="10.8"/><circle cx="1510.7" cy="353.7" r="10.8"/><circle cx="1494.6" cy="395.7" r="10.8"/><circle cx="1584.7" cy="398.2" r="10.8"/><circle cx="1495" cy="382.5" r="10.8"/><circle cx="1555.9" cy="387.1" r="10.8"/><circle cx="1534.3" cy="400" r="10.8"/><circle cx="1502.1" cy="378.2" r="10.8"/><circle cx="1589.5" cy="395.2" r="10.8"/><circle cx="1589.5" cy="385.8" r="10.8"/><circle cx="1596.9" cy="395.9" r="10.8"/><circle cx="1538.6" cy="384.9" r="10.8"/><circle cx="1611.1" cy="393.8" r="10.8"/><circle cx="1547.3" cy="389.9" r="10.8"/><circle cx="1606.2" cy="379.5" r="10.8"/><circle cx="1574.7" cy="370.4" r="10.8"/><circle cx="1569.1" cy="381.2" r="10.8"/><circle cx="1502.8" cy="382.7" r="10.8"/><circle cx="1623.3" cy="394.2" r="10.8"/><circle cx="1588.3" cy="370.6" r="10.8"/><circle cx="1589.2" cy="379.9" r="10.8"/><circle cx="1550.3" cy="392.2" r="10.8"/><circle cx="1503.3" cy="388" r="10.8"/><circle cx="1496.1" cy="380.9" r="10.8"/><circle cx="1555.7" cy="363.1" r="10.8"/><circle cx="1584.4" cy="375.9" r="10.8"/><circle cx="1573.3" cy="396.2" r="10.8"/><circle cx="1526" cy="352.5" r="10.8"/><circle cx="1531.9" cy="384.6" r="10.8"/><circle cx="1518.9" cy="360.1" r="10.8"/><circle cx="1611.8" cy="383.7" r="10.8"/><circle cx="1550.5" cy="394.8" r="10.8"/><circle cx="1535.4" cy="384" r="10.8"/></g>
<g fill="#a5171f" fill-opacity="0.3" stroke="#a5171f" stroke-opacity="0.42" stroke-width="1.2"><circle cx="1500.7" cy="335.4" r="10.8"/><circle cx="1562.6" cy="335.4" r="10.8"/><circle cx="1594" cy="330.2" r="10.8"/><circle cx="1607.2" cy="322.3" r="10.8"/><circle cx="1507.3" cy="351.4" r="10.8"/><circle cx="1592.9" cy="354.7" r="10.8"/><circle cx="1619.2" cy="364.6" r="10.8"/><circle cx="1531.4" cy="362.4" r="10.8"/><circle cx="1575.3" cy="366.8" r="10.8"/><circle cx="1496.3" cy="366.8" r="10.8"/></g>
<g fill="none" stroke="#66952a" stroke-opacity="0.42" stroke-width="1.3"><circle cx="1764.7" cy="210.4" r="10.8"/><circle cx="1674.7" cy="279.6" r="10.8"/><circle cx="1691.5" cy="271.4" r="10.8"/><circle cx="1680.7" cy="328.4" r="10.8"/><circle cx="1718.6" cy="340.6" r="10.8"/><circle cx="1713.2" cy="333.8" r="10.8"/><circle cx="1744.4" cy="336.5" r="10.8"/><circle cx="1767.4" cy="339.2" r="10.8"/><circle cx="1764.7" cy="373.1" r="10.8"/><circle cx="1769.3" cy="379.3" r="10.8"/><circle cx="1715.9" cy="306.7" r="10.8"/><circle cx="1672.5" cy="331.1" r="10.8"/></g>
<g fill="#7fdc93" fill-opacity="0.3" stroke="#7fdc93" stroke-opacity="0.42" stroke-width="1.2"><circle cx="1728.6" cy="207.7" r="10.8"/><circle cx="1665.2" cy="337.9" r="10.8"/><circle cx="1667.1" cy="290.4" r="10.8"/><circle cx="1696.9" cy="328.4" r="10.8"/><circle cx="1778.2" cy="329.7" r="10.8"/><circle cx="1675.2" cy="309.4" r="10.8"/><circle cx="1759.3" cy="320.2" r="10.8"/><circle cx="1707.8" cy="295.8" r="10.8"/><circle cx="1762" cy="274.2" r="10.8"/><circle cx="1710.5" cy="266" r="10.8"/><circle cx="1729.5" cy="314.8" r="10.8"/><circle cx="1723.7" cy="318.2" r="10.8"/><circle cx="1706.4" cy="303.3" r="10.8"/><circle cx="1730.6" cy="301.5" r="10.8"/><circle cx="1741.5" cy="280.7" r="10.8"/><circle cx="1754.3" cy="322.2" r="10.8"/><circle cx="1687.8" cy="302.7" r="10.8"/><circle cx="1759.2" cy="300.3" r="10.8"/><circle cx="1689.6" cy="288.3" r="10.8"/></g>
<g fill="#f2d646" fill-opacity="0.3" stroke="#f2d646" stroke-opacity="0.42" stroke-width="1.2"><circle cx="1776.4" cy="177.9" r="10.8"/><circle cx="1776.9" cy="190.1" r="10.8"/><circle cx="1797.2" cy="240.3" r="10.8"/><circle cx="1797.2" cy="253.8" r="10.8"/><circle cx="1797.2" cy="259.2" r="10.8"/><circle cx="1794.5" cy="295.8" r="10.8"/><circle cx="1795.9" cy="322.9" r="10.8"/><circle cx="1664.4" cy="279.6" r="10.8"/><circle cx="1661.7" cy="295.8" r="10.8"/><circle cx="1686.1" cy="298.5" r="10.8"/><circle cx="1743" cy="317.5" r="10.8"/><circle cx="1688.2" cy="251.4" r="10.8"/><circle cx="1753.3" cy="256.1" r="10.8"/><circle cx="1709.5" cy="271" r="10.8"/><circle cx="1676.4" cy="276.5" r="10.8"/><circle cx="1678.8" cy="265.5" r="10.8"/><circle cx="1695.7" cy="249.9" r="10.8"/><circle cx="1732.6" cy="261.8" r="10.8"/><circle cx="1712.2" cy="260.7" r="10.8"/><circle cx="1732.5" cy="248" r="10.8"/><circle cx="1689.6" cy="271.6" r="10.8"/><circle cx="1746.9" cy="266.5" r="10.8"/><circle cx="1775" cy="270.6" r="10.8"/><circle cx="1775.7" cy="251.6" r="10.8"/><circle cx="1760.4" cy="280.5" r="10.8"/><circle cx="1781.8" cy="255.8" r="10.8"/><circle cx="1704.2" cy="286.1" r="10.8"/><circle cx="1691.4" cy="289.9" r="10.8"/><circle cx="1779.8" cy="246.7" r="10.8"/><circle cx="1694.2" cy="276.3" r="10.8"/><circle cx="1696.9" cy="244.9" r="10.8"/><circle cx="1772.4" cy="261.1" r="10.8"/><circle cx="1766.9" cy="246.3" r="10.8"/><circle cx="1715.8" cy="274.3" r="10.8"/><circle cx="1664.9" cy="250" r="10.8"/><circle cx="1752.7" cy="285.6" r="10.8"/><circle cx="1790.4" cy="245.8" r="10.8"/><circle cx="1729.3" cy="277.9" r="10.8"/><circle cx="1729" cy="274.3" r="10.8"/><circle cx="1687.5" cy="243.5" r="10.8"/><circle cx="1676.6" cy="241.9" r="10.8"/><circle cx="1735.4" cy="265.7" r="10.8"/><circle cx="1737.7" cy="247.3" r="10.8"/><circle cx="1687" cy="250.2" r="10.8"/><circle cx="1773.5" cy="289.5" r="10.8"/><circle cx="1784.9" cy="244.8" r="10.8"/><circle cx="1670.8" cy="287.6" r="10.8"/></g>
<g fill="none" stroke="#d52b1a" stroke-opacity="0.42" stroke-width="1.3"><circle cx="1765.8" cy="160.8" r="10.8"/><circle cx="1749.2" cy="209.1" r="10.8"/><circle cx="1776.9" cy="210.4" r="10.8"/><circle cx="1762" cy="217.2" r="10.8"/><circle cx="1664.4" cy="244.3" r="10.8"/><circle cx="1734.9" cy="271.4" r="10.8"/><circle cx="1706.8" cy="243.9" r="10.8"/><circle cx="1681.1" cy="219.6" r="10.8"/><circle cx="1730.8" cy="241.5" r="10.8"/><circle cx="1773.5" cy="240.2" r="10.8"/><circle cx="1787.4" cy="232.7" r="10.8"/><circle cx="1787.9" cy="217.3" r="10.8"/><circle cx="1691.8" cy="234" r="10.8"/><circle cx="1700.9" cy="241.7" r="10.8"/><circle cx="1746.9" cy="233.9" r="10.8"/><circle cx="1774" cy="235.3" r="10.8"/><circle cx="1703.7" cy="228.5" r="10.8"/><circle cx="1774.2" cy="248.2" r="10.8"/><circle cx="1690.1" cy="246.3" r="10.8"/><circle cx="1790.4" cy="233.9" r="10.8"/><circle cx="1738.2" cy="221.6" r="10.8"/><circle cx="1733.3" cy="233.1" r="10.8"/><circle cx="1742.5" cy="215.1" r="10.8"/><circle cx="1790.6" cy="233.6" r="10.8"/><circle cx="1715.5" cy="244.4" r="10.8"/><circle cx="1736.9" cy="232.7" r="10.8"/><circle cx="1753.8" cy="216.5" r="10.8"/><circle cx="1733.7" cy="229.7" r="10.8"/><circle cx="1788.9" cy="249.1" r="10.8"/><circle cx="1698.1" cy="232" r="10.8"/><circle cx="1679.4" cy="230.5" r="10.8"/><circle cx="1770.3" cy="248.2" r="10.8"/><circle cx="1725.5" cy="226.1" r="10.8"/><circle cx="1687.9" cy="237.5" r="10.8"/><circle cx="1784.7" cy="218.9" r="10.8"/><circle cx="1765.5" cy="214.9" r="10.8"/></g>
<g fill="#a5171f" fill-opacity="0.3" stroke="#a5171f" stroke-opacity="0.42" stroke-width="1.2"><circle cx="1677.4" cy="148.9" r="10.8"/><circle cx="1726.2" cy="162.2" r="10.8"/><circle cx="1667.1" cy="180.6" r="10.8"/><circle cx="1796.4" cy="186.9" r="10.8"/><circle cx="1667.6" cy="217.2" r="10.8"/><circle cx="1724.6" cy="214.5" r="10.8"/><circle cx="1779.6" cy="219.9" r="10.8"/><circle cx="1702.3" cy="228.1" r="10.8"/><circle cx="1753.9" cy="225.4" r="10.8"/><circle cx="1740.3" cy="230.8" r="10.8"/></g>
<g fill="none" stroke="#66952a" stroke-opacity="0.42" stroke-width="1.3"><circle cx="1836.5" cy="420.5" r="10.8"/><circle cx="1877.2" cy="428.7" r="10.8"/><circle cx="1888" cy="436.8" r="10.8"/><circle cx="1900.2" cy="450.3" r="10.8"/><circle cx="1934.1" cy="435.4" r="10.8"/><circle cx="1966.6" cy="438.2" r="10.8"/><circle cx="1951.7" cy="431.4" r="10.8"/><circle cx="1856.9" cy="426" r="10.8"/><circle cx="1959.9" cy="423.2" r="10.8"/></g>
<g fill="#7fdc93" fill-opacity="0.3" stroke="#7fdc93" stroke-opacity="0.42" stroke-width="1.2"><circle cx="1913.8" cy="430" r="10.8"/><circle cx="1935.5" cy="427.3" r="10.8"/><circle cx="1828.4" cy="397.5" r="10.8"/><circle cx="1951.7" cy="426" r="10.8"/><circle cx="1865.9" cy="425.3" r="10.8"/><circle cx="1953.9" cy="421.9" r="10.8"/><circle cx="1838.2" cy="394.1" r="10.8"/><circle cx="1868.8" cy="406.5" r="10.8"/><circle cx="1915.3" cy="395.5" r="10.8"/><circle cx="1904.5" cy="394.5" r="10.8"/><circle cx="1844.4" cy="415" r="10.8"/><circle cx="1905.7" cy="413.5" r="10.8"/><circle cx="1882.3" cy="408.3" r="10.8"/><circle cx="1860.8" cy="403.7" r="10.8"/><circle cx="1931.3" cy="420.5" r="10.8"/><circle cx="1842.8" cy="396.1" r="10.8"/><circle cx="1939.8" cy="413.2" r="10.8"/><circle cx="1934.5" cy="399.2" r="10.8"/><circle cx="1889" cy="400.8" r="10.8"/><circle cx="1939.9" cy="404.5" r="10.8"/></g>
<g fill="#f2d646" fill-opacity="0.3" stroke="#f2d646" stroke-opacity="0.42" stroke-width="1.2"><circle cx="1968" cy="385.3" r="10.8"/><circle cx="1969.4" cy="405.6" r="10.8"/><circle cx="1829.8" cy="374.4" r="10.8"/><circle cx="1878.5" cy="423.2" r="10.8"/><circle cx="1964.4" cy="395" r="10.8"/><circle cx="1939.9" cy="374.7" r="10.8"/><circle cx="1911.9" cy="399.3" r="10.8"/><circle cx="1839" cy="405.5" r="10.8"/><circle cx="1854.1" cy="389" r="10.8"/><circle cx="1855.3" cy="389.8" r="10.8"/><circle cx="1913.7" cy="374.1" r="10.8"/><circle cx="1957.8" cy="387.1" r="10.8"/><circle cx="1902.5" cy="393.5" r="10.8"/><circle cx="1881.3" cy="382.3" r="10.8"/><circle cx="1919.5" cy="392.2" r="10.8"/><circle cx="1870.4" cy="397.8" r="10.8"/><circle cx="1872.1" cy="372.5" r="10.8"/><circle cx="1865.3" cy="373.5" r="10.8"/><circle cx="1853.7" cy="399.2" r="10.8"/><circle cx="1884.5" cy="404.3" r="10.8"/><circle cx="1931.8" cy="373.8" r="10.8"/><circle cx="1963.5" cy="406" r="10.8"/><circle cx="1842.7" cy="404.6" r="10.8"/><circle cx="1889.7" cy="389.2" r="10.8"/><circle cx="1961.5" cy="380.8" r="10.8"/><circle cx="1902.1" cy="405.7" r="10.8"/><circle cx="1928.4" cy="388.9" r="10.8"/><circle cx="1962.2" cy="401.4" r="10.8"/><circle cx="1912.7" cy="376.1" r="10.8"/><circle cx="1915.4" cy="388.4" r="10.8"/><circle cx="1859.9" cy="373.9" r="10.8"/><circle cx="1902.7" cy="376.5" r="10.8"/><circle cx="1891.5" cy="396" r="10.8"/><circle cx="1893.1" cy="381.4" r="10.8"/><circle cx="1909.9" cy="387.1" r="10.8"/><circle cx="1935.7" cy="391.1" r="10.8"/><circle cx="1964.7" cy="406.3" r="10.8"/><circle cx="1929.9" cy="380.6" r="10.8"/><circle cx="1848" cy="404.1" r="10.8"/><circle cx="1936.5" cy="394.5" r="10.8"/><circle cx="1880.4" cy="381.8" r="10.8"/><circle cx="1923.4" cy="392.3" r="10.8"/><circle cx="1911.1" cy="394.8" r="10.8"/><circle cx="1932.4" cy="378.8" r="10.8"/></g>
<g fill="none" stroke="#d52b1a" stroke-opacity="0.42" stroke-width="1.3"><circle cx="1852.8" cy="340.6" r="10.8"/><circle cx="1943.6" cy="347.3" r="10.8"/><circle cx="1894.8" cy="355.5" r="10.8"/><circle cx="1835.2" cy="358.2" r="10.8"/><circle cx="1827" cy="371.7" r="10.8"/><circle cx="1827" cy="390.7" r="10.8"/><circle cx="1900.7" cy="352.5" r="10.8"/><circle cx="1950.9" cy="377.7" r="10.8"/><circle cx="1926" cy="379.5" r="10.8"/><circle cx="1916.1" cy="364.9" r="10.8"/><circle cx="1912.1" cy="368.1" r="10.8"/><circle cx="1962.7" cy="377.8" r="10.8"/><circle cx="1867.1" cy="381.2" r="10.8"/><circle cx="1931.3" cy="376.9" r="10.8"/><circle cx="1940.5" cy="365" r="10.8"/><circle cx="1951.3" cy="380.2" r="10.8"/><circle cx="1924.7" cy="376.6" r="10.8"/><circle cx="1934" cy="365" r="10.8"/><circle cx="1928.4" cy="354.3" r="10.8"/><circle cx="1878.1" cy="367" r="10.8"/><circle cx="1834.4" cy="363.4" r="10.8"/><circle cx="1917.3" cy="372" r="10.8"/><circle cx="1863.6" cy="382.2" r="10.8"/><circle cx="1920.9" cy="362.8" r="10.8"/><circle cx="1920.1" cy="370.2" r="10.8"/><circle cx="1903.4" cy="364.5" r="10.8"/><circle cx="1965" cy="372.6" r="10.8"/><circle cx="1925.6" cy="376.4" r="10.8"/><circle cx="1962.4" cy="352.7" r="10.8"/><circle cx="1914.2" cy="375.6" r="10.8"/><circle cx="1866.9" cy="364.8" r="10.8"/><circle cx="1839.7" cy="358.3" r="10.8"/><circle cx="1882.6" cy="355.2" r="10.8"/><circle cx="1866.1" cy="381" r="10.8"/><circle cx="1905.6" cy="368.3" r="10.8"/><circle cx="1960.7" cy="370.2" r="10.8"/></g>
<g fill="#a5171f" fill-opacity="0.3" stroke="#a5171f" stroke-opacity="0.42" stroke-width="1.2"><circle cx="1835.2" cy="336.5" r="10.8"/><circle cx="1883.2" cy="328.9" r="10.8"/><circle cx="1915.1" cy="337.9" r="10.8"/><circle cx="1929" cy="332.4" r="10.8"/><circle cx="1855.5" cy="352.8" r="10.8"/><circle cx="1874.5" cy="351.4" r="10.8"/><circle cx="1905.7" cy="355.5" r="10.8"/><circle cx="1938.2" cy="354.1" r="10.8"/></g>
<g fill="none" stroke="#66952a" stroke-opacity="0.42" stroke-width="1.3"><circle cx="2063.8" cy="88.8" r="10.8"/><circle cx="2091" cy="111.3" r="10.8"/><circle cx="2067.1" cy="145.6" r="10.8"/><circle cx="2009.4" cy="150.4" r="10.8"/><circle cx="2059.8" cy="181.4" r="10.8"/><circle cx="2128.5" cy="153.3" r="10.8"/><circle cx="2132.4" cy="161.7" r="10.8"/></g>
<g fill="#7fdc93" fill-opacity="0.3" stroke="#7fdc93" stroke-opacity="0.42" stroke-width="1.2"><circle cx="2017.1" cy="166.3" r="10.8"/><circle cx="2037.5" cy="179.1" r="10.8"/><circle cx="2055.5" cy="171" r="10.8"/><circle cx="2078.2" cy="166.9" r="10.8"/><circle cx="2082" cy="167.5" r="10.8"/><circle cx="2111.1" cy="143.6" r="10.8"/><circle cx="2116.9" cy="158.2" r="10.8"/><circle cx="2120.8" cy="163" r="10.8"/><circle cx="2017.1" cy="185.3" r="10.8"/><circle cx="2002" cy="209.7" r="10.8"/><circle cx="2038.5" cy="210.5" r="10.8"/><circle cx="2136.3" cy="195.9" r="10.8"/><circle cx="2105.3" cy="222.1" r="10.8"/><circle cx="2138.2" cy="230.8" r="10.8"/><circle cx="2095.6" cy="222.1" r="10.8"/></g>
<g fill="#f2d646" fill-opacity="0.3" stroke="#f2d646" stroke-opacity="0.42" stroke-width="1.2"><circle cx="2076.2" cy="184.3" r="10.8"/><circle cx="2039.4" cy="207.6" r="10.8"/><circle cx="2093.7" cy="210.5" r="10.8"/><circle cx="2105.3" cy="214.4" r="10.8"/><circle cx="2056.9" cy="204.7" r="10.8"/><circle cx="2072.4" cy="204.7" r="10.8"/><circle cx="2049.1" cy="224" r="10.8"/><circle cx="2124.7" cy="217.3" r="10.8"/><circle cx="2132.4" cy="224" r="10.8"/><circle cx="2016.2" cy="233.7" r="10.8"/><circle cx="2027.8" cy="239.5" r="10.8"/><circle cx="2037.5" cy="237.6" r="10.8"/><circle cx="2051" cy="231.8" r="10.8"/><circle cx="2085.9" cy="218.2" r="10.8"/><circle cx="2120.8" cy="237.6" r="10.8"/><circle cx="2001.7" cy="260.8" r="10.8"/><circle cx="2006.5" cy="277.3" r="10.8"/><circle cx="2014.2" cy="278.7" r="10.8"/><circle cx="2062.7" cy="287" r="10.8"/><circle cx="2136.3" cy="251.2" r="10.8"/><circle cx="1998.7" cy="264.7" r="10.8"/><circle cx="2118.9" cy="264.7" r="10.8"/><circle cx="2101.4" cy="262.8" r="10.8"/><circle cx="2045.2" cy="253.1" r="10.8"/><circle cx="2080.1" cy="235.7" r="10.8"/><circle cx="2107.2" cy="233.7" r="10.8"/><circle cx="2068.5" cy="257" r="10.8"/><circle cx="2022" cy="253.1" r="10.8"/></g>
<g fill="none" stroke="#d52b1a" stroke-opacity="0.42" stroke-width="1.3"><circle cx="2052.6" cy="214.4" r="10.8"/><circle cx="2056.9" cy="228.9" r="10.8"/><circle cx="2135.9" cy="214.4" r="10.8"/><circle cx="2094.1" cy="223.1" r="10.8"/><circle cx="2120.8" cy="237.6" r="10.8"/><circle cx="2027.8" cy="273.4" r="10.8"/><circle cx="2074.3" cy="269.6" r="10.8"/><circle cx="2075.3" cy="280.2" r="10.8"/><circle cx="2076.2" cy="282.2" r="10.8"/><circle cx="2132.4" cy="277.3" r="10.8"/><circle cx="2117.9" cy="272.5" r="10.8"/><circle cx="2010.4" cy="249.2" r="10.8"/><circle cx="2031.7" cy="249.2" r="10.8"/><circle cx="2134.4" cy="253.1" r="10.8"/><circle cx="2066.5" cy="268.6" r="10.8"/><circle cx="2080.1" cy="266.7" r="10.8"/><circle cx="2049.1" cy="262.8" r="10.8"/><circle cx="2095.6" cy="258.9" r="10.8"/><circle cx="2111.1" cy="253.1" r="10.8"/><circle cx="2018.1" cy="264.7" r="10.8"/></g>
<g fill="#a5171f" fill-opacity="0.3" stroke="#a5171f" stroke-opacity="0.42" stroke-width="1.2"><circle cx="2010.4" cy="242.4" r="10.8"/><circle cx="2074.3" cy="245.3" r="10.8"/><circle cx="2093.7" cy="241.5" r="10.8"/><circle cx="2012.3" cy="262.8" r="10.8"/><circle cx="2042.9" cy="272.5" r="10.8"/><circle cx="2101.4" cy="276.3" r="10.8"/><circle cx="2102.4" cy="277.3" r="10.8"/><circle cx="2132.4" cy="263.8" r="10.8"/><circle cx="2095.6" cy="245.3" r="10.8"/><circle cx="2053" cy="251.2" r="10.8"/></g>
<path d="M983.2 470.4H1110.8" stroke="#66952a" stroke-width="12.2" fill="none"/><path d="M983.2 470.4H1110.8" stroke="#66952a" stroke-width="8.6" stroke-linecap="round" fill="none"/>
<path d="M983.2 398H1110.8" stroke="#7fdc93" stroke-width="12.2" fill="none"/><path d="M983.2 398H1110.8" stroke="#7fdc93" stroke-width="8.6" stroke-linecap="round" fill="none"/>
<path d="M983.2 314.5H1110.8" stroke="#f2d646" stroke-width="12.2" fill="none"/><path d="M983.2 314.5H1110.8" stroke="#f2d646" stroke-width="8.6" stroke-linecap="round" fill="none"/>
<path d="M983.2 264.3H1110.8" stroke="#d52b1a" stroke-width="12.2" fill="none"/><path d="M983.2 264.3H1110.8" stroke="#d52b1a" stroke-width="8.6" stroke-linecap="round" fill="none"/>
<path d="M983.2 224.9H1110.8" stroke="#a5171f" stroke-width="12.2" fill="none"/><path d="M983.2 224.9H1110.8" stroke="#a5171f" stroke-width="8.6" stroke-linecap="round" fill="none"/>
<path d="M1153.6 449.7H1281.2" stroke="#66952a" stroke-width="12.2" fill="none"/><path d="M1153.6 449.7H1281.2" stroke="#66952a" stroke-width="8.6" stroke-linecap="round" fill="none"/>
<path d="M1153.6 386.8H1281.2" stroke="#7fdc93" stroke-width="12.2" fill="none"/><path d="M1153.6 386.8H1281.2" stroke="#7fdc93" stroke-width="8.6" stroke-linecap="round" fill="none"/>
<path d="M1153.6 298.6H1281.2" stroke="#f2d646" stroke-width="12.2" fill="none"/><path d="M1153.6 298.6H1281.2" stroke="#f2d646" stroke-width="8.6" stroke-linecap="round" fill="none"/>
<path d="M1153.6 252H1281.2" stroke="#d52b1a" stroke-width="12.2" fill="none"/><path d="M1153.6 252H1281.2" stroke="#d52b1a" stroke-width="8.6" stroke-linecap="round" fill="none"/>
<path d="M1153.6 221.6H1281.2" stroke="#a5171f" stroke-width="12.2" fill="none"/><path d="M1153.6 221.6H1281.2" stroke="#a5171f" stroke-width="8.6" stroke-linecap="round" fill="none"/>
<path d="M1324 436H1451.6" stroke="#66952a" stroke-width="12.2" fill="none"/><path d="M1324 436H1451.6" stroke="#66952a" stroke-width="8.6" stroke-linecap="round" fill="none"/>
<path d="M1324 403.5H1451.6" stroke="#7fdc93" stroke-width="12.2" fill="none"/><path d="M1324 403.5H1451.6" stroke="#7fdc93" stroke-width="8.6" stroke-linecap="round" fill="none"/>
<path d="M1324 333.9H1451.6" stroke="#f2d646" stroke-width="12.2" fill="none"/><path d="M1324 333.9H1451.6" stroke="#f2d646" stroke-width="8.6" stroke-linecap="round" fill="none"/>
<path d="M1324 312.6H1451.6" stroke="#d52b1a" stroke-width="12.2" fill="none"/><path d="M1324 312.6H1451.6" stroke="#d52b1a" stroke-width="8.6" stroke-linecap="round" fill="none"/>
<path d="M1324 299.9H1451.6" stroke="#a5171f" stroke-width="12.2" fill="none"/><path d="M1324 299.9H1451.6" stroke="#a5171f" stroke-width="8.6" stroke-linecap="round" fill="none"/>
<path d="M1494.4 487.5H1622" stroke="#66952a" stroke-width="12.2" fill="none"/><path d="M1494.4 487.5H1622" stroke="#66952a" stroke-width="8.6" stroke-linecap="round" fill="none"/>
<path d="M1494.4 456.8H1622" stroke="#7fdc93" stroke-width="12.2" fill="none"/><path d="M1494.4 456.8H1622" stroke="#7fdc93" stroke-width="8.6" stroke-linecap="round" fill="none"/>
<path d="M1494.4 411.8H1622" stroke="#f2d646" stroke-width="12.2" fill="none"/><path d="M1494.4 411.8H1622" stroke="#f2d646" stroke-width="8.6" stroke-linecap="round" fill="none"/>
<path d="M1494.4 378.2H1622" stroke="#d52b1a" stroke-width="12.2" fill="none"/><path d="M1494.4 378.2H1622" stroke="#d52b1a" stroke-width="8.6" stroke-linecap="round" fill="none"/>
<path d="M1494.4 361.5H1622" stroke="#a5171f" stroke-width="12.2" fill="none"/><path d="M1494.4 361.5H1622" stroke="#a5171f" stroke-width="8.6" stroke-linecap="round" fill="none"/>
<path d="M1664.8 327.6H1792.4" stroke="#66952a" stroke-width="12.2" fill="none"/><path d="M1664.8 327.6H1792.4" stroke="#66952a" stroke-width="8.6" stroke-linecap="round" fill="none"/>
<path d="M1664.8 297.2H1792.4" stroke="#7fdc93" stroke-width="12.2" fill="none"/><path d="M1664.8 297.2H1792.4" stroke="#7fdc93" stroke-width="8.6" stroke-linecap="round" fill="none"/>
<path d="M1664.8 261.4H1792.4" stroke="#f2d646" stroke-width="12.2" fill="none"/><path d="M1664.8 261.4H1792.4" stroke="#f2d646" stroke-width="8.6" stroke-linecap="round" fill="none"/>
<path d="M1664.8 239.2H1792.4" stroke="#d52b1a" stroke-width="12.2" fill="none"/><path d="M1664.8 239.2H1792.4" stroke="#d52b1a" stroke-width="8.6" stroke-linecap="round" fill="none"/>
<path d="M1664.8 219.1H1792.4" stroke="#a5171f" stroke-width="12.2" fill="none"/><path d="M1664.8 219.1H1792.4" stroke="#a5171f" stroke-width="8.6" stroke-linecap="round" fill="none"/>
<path d="M1835.2 420.8H1962.8" stroke="#66952a" stroke-width="12.2" fill="none"/><path d="M1835.2 420.8H1962.8" stroke="#66952a" stroke-width="8.6" stroke-linecap="round" fill="none"/>
<path d="M1835.2 406.2H1962.8" stroke="#7fdc93" stroke-width="12.2" fill="none"/><path d="M1835.2 406.2H1962.8" stroke="#7fdc93" stroke-width="8.6" stroke-linecap="round" fill="none"/>
<path d="M1835.2 390.2H1962.8" stroke="#f2d646" stroke-width="12.2" fill="none"/><path d="M1835.2 390.2H1962.8" stroke="#f2d646" stroke-width="8.6" stroke-linecap="round" fill="none"/>
<path d="M1835.2 370.9H1962.8" stroke="#d52b1a" stroke-width="12.2" fill="none"/><path d="M1835.2 370.9H1962.8" stroke="#d52b1a" stroke-width="8.6" stroke-linecap="round" fill="none"/>
<path d="M1835.2 360.4H1962.8" stroke="#a5171f" stroke-width="12.2" fill="none"/><path d="M1835.2 360.4H1962.8" stroke="#a5171f" stroke-width="8.6" stroke-linecap="round" fill="none"/>
<path d="M2005.6 145.6H2133.2" stroke="#66952a" stroke-width="12.2" fill="none"/><path d="M2005.6 145.6H2133.2" stroke="#66952a" stroke-width="8.6" stroke-linecap="round" fill="none"/>
<path d="M2005.6 191.1H2133.2" stroke="#7fdc93" stroke-width="12.2" fill="none"/><path d="M2005.6 191.1H2133.2" stroke="#7fdc93" stroke-width="8.6" stroke-linecap="round" fill="none"/>
<path d="M2005.6 257.9H2133.2" stroke="#d52b1a" stroke-width="12.2" fill="none"/><path d="M2005.6 257.9H2133.2" stroke="#d52b1a" stroke-width="8.6" stroke-linecap="round" fill="none"/>
<path d="M2005.6 246.3H2133.2" stroke="#f2d646" stroke-width="12.2" fill="none"/><path d="M2005.6 246.3H2133.2" stroke="#f2d646" stroke-width="8.6" stroke-linecap="round" fill="none"/>
<path d="M2005.6 257.9H2133.2" stroke="#a5171f" stroke-width="12.2" fill="none"/><path d="M2005.6 257.9H2133.2" stroke="#a5171f" stroke-width="8.6" stroke-linecap="round" fill="none"/>
<path d="M1260 259.2h17v17h-17ZM1260 259.2l17 17M1260 276.2l17 -17" stroke="#000" stroke-width="1.1" fill="none"/>
<path d="M1260 297.5h17v17h-17ZM1260 297.5l17 17M1260 314.5l17 -17" stroke="#000" stroke-width="1.1" fill="none"/>
<path d="M1260 368.6h17v17h-17ZM1260 368.6l17 17M1260 385.6l17 -17" stroke="#000" stroke-width="1.1" fill="none"/>
<path d="M1231 342.4H1255M1243 330.4V354.4" stroke="#000" stroke-width="1.1" fill="none"/>
<circle cx="1166.3" cy="283.9" r="8.3" fill="#000" stroke="none" stroke-width="1" />
<circle cx="1166.3" cy="288.1" r="8.3" fill="#000" stroke="none" stroke-width="1" />
<circle cx="1166.3" cy="295.5" r="8.3" fill="#000" stroke="none" stroke-width="1" />
<circle cx="1166.3" cy="314.5" r="8.3" fill="#000" stroke="none" stroke-width="1" />
<circle cx="1166.3" cy="357.7" r="8.3" fill="#000" stroke="none" stroke-width="1" />
<circle cx="1166.3" cy="400.4" r="8.3" fill="#000" stroke="none" stroke-width="1" />
<rect x="1209.1" y="269.3" width="16.6" height="16.6" fill="#000" stroke="none" stroke-width="1" />
<rect x="1209.1" y="385.2" width="16.6" height="16.6" fill="#000" stroke="none" stroke-width="1" />
<rect x="1209.1" y="424.2" width="16.6" height="16.6" fill="#000" stroke="none" stroke-width="1" />
<path d="M1180.8 283.7L1202.8 283.7L1191.8 264.4Z" fill="#000"/>
<path d="M1430.4 297.7h17v17h-17ZM1430.4 297.7l17 17M1430.4 314.7l17 -17" stroke="#000" stroke-width="1.1" fill="none"/>
<path d="M1430.4 321.4h17v17h-17ZM1430.4 321.4l17 17M1430.4 338.4l17 -17" stroke="#000" stroke-width="1.1" fill="none"/>
<path d="M1430.4 364.9h17v17h-17ZM1430.4 364.9l17 17M1430.4 381.9l17 -17" stroke="#000" stroke-width="1.1" fill="none"/>
<path d="M1401.4 375.2H1425.4M1413.4 363.2V387.2" stroke="#000" stroke-width="1.1" fill="none"/>
<circle cx="1336.7" cy="332.4" r="8.3" fill="#000" stroke="none" stroke-width="1" />
<circle cx="1336.7" cy="337.2" r="8.3" fill="#000" stroke="none" stroke-width="1" />
<circle cx="1336.7" cy="341.6" r="8.3" fill="#000" stroke="none" stroke-width="1" />
<circle cx="1336.7" cy="359.1" r="8.3" fill="#000" stroke="none" stroke-width="1" />
<circle cx="1336.7" cy="382.2" r="8.3" fill="#000" stroke="none" stroke-width="1" />
<circle cx="1336.7" cy="417.7" r="8.3" fill="#000" stroke="none" stroke-width="1" />
<rect x="1379.5" y="314.2" width="16.6" height="16.6" fill="#000" stroke="none" stroke-width="1" />
<rect x="1379.5" y="391.4" width="16.6" height="16.6" fill="#000" stroke="none" stroke-width="1" />
<rect x="1379.5" y="424.4" width="16.6" height="16.6" fill="#000" stroke="none" stroke-width="1" />
<path d="M1351.2 320.7L1373.2 320.7L1362.2 301.4Z" fill="#000"/>
<path d="M1600.8 345.1h17v17h-17ZM1600.8 345.1l17 17M1600.8 362.1l17 -17" stroke="#000" stroke-width="1.1" fill="none"/>
<path d="M1600.8 385.3h17v17h-17ZM1600.8 385.3l17 17M1600.8 402.3l17 -17" stroke="#000" stroke-width="1.1" fill="none"/>
<path d="M1600.8 425.3h17v17h-17ZM1600.8 425.3l17 17M1600.8 442.3l17 -17" stroke="#000" stroke-width="1.1" fill="none"/>
<path d="M1571.8 423.9H1595.8M1583.8 411.9V435.9" stroke="#000" stroke-width="1.1" fill="none"/>
<circle cx="1507.1" cy="387.7" r="8.3" fill="#000" stroke="none" stroke-width="1" />
<rect x="1549.9" y="398" width="16.6" height="16.6" fill="#000" stroke="none" stroke-width="1" />
<rect x="1549.9" y="452.9" width="16.6" height="16.6" fill="#000" stroke="none" stroke-width="1" />
<rect x="1549.9" y="470.9" width="16.6" height="16.6" fill="#000" stroke="none" stroke-width="1" />
<path d="M1521.6 389.9L1543.6 389.9L1532.6 370.5Z" fill="#000"/>
<path d="M1771.2 254.3h17v17h-17ZM1771.2 254.3l17 17M1771.2 271.3l17 -17" stroke="#000" stroke-width="1.1" fill="none"/>
<path d="M1771.2 265.7h17v17h-17ZM1771.2 265.7l17 17M1771.2 282.7l17 -17" stroke="#000" stroke-width="1.1" fill="none"/>
<path d="M1771.2 299h17v17h-17ZM1771.2 299l17 17M1771.2 316l17 -17" stroke="#000" stroke-width="1.1" fill="none"/>
<path d="M1742.2 253H1766.2M1754.2 241V265" stroke="#000" stroke-width="1.1" fill="none"/>
<circle cx="1677.5" cy="242.2" r="8.3" fill="#000" stroke="none" stroke-width="1" />
<circle cx="1677.5" cy="247" r="8.3" fill="#000" stroke="none" stroke-width="1" />
<circle cx="1677.5" cy="264.7" r="8.3" fill="#000" stroke="none" stroke-width="1" />
<rect x="1720.3" y="243.9" width="16.6" height="16.6" fill="#000" stroke="none" stroke-width="1" />
<rect x="1720.3" y="282.9" width="16.6" height="16.6" fill="#000" stroke="none" stroke-width="1" />
<rect x="1720.3" y="293.8" width="16.6" height="16.6" fill="#000" stroke="none" stroke-width="1" />
<path d="M1692 270.1L1714 270.1L1703 250.7Z" fill="#000"/>
<path d="M1941.6 342.4h17v17h-17ZM1941.6 342.4l17 17M1941.6 359.4l17 -17" stroke="#000" stroke-width="1.1" fill="none"/>
<path d="M1941.6 366.5h17v17h-17ZM1941.6 366.5l17 17M1941.6 383.5l17 -17" stroke="#000" stroke-width="1.1" fill="none"/>
<path d="M1941.6 383.6h17v17h-17ZM1941.6 383.6l17 17M1941.6 400.6l17 -17" stroke="#000" stroke-width="1.1" fill="none"/>
<path d="M1912.6 375.5H1936.6M1924.6 363.5V387.5" stroke="#000" stroke-width="1.1" fill="none"/>
<circle cx="1847.9" cy="363.3" r="8.3" fill="#000" stroke="none" stroke-width="1" />
<rect x="1890.7" y="385.9" width="16.6" height="16.6" fill="#000" stroke="none" stroke-width="1" />
<rect x="1890.7" y="409" width="16.6" height="16.6" fill="#000" stroke="none" stroke-width="1" />
<path d="M1862.4 381.8L1884.4 381.8L1873.4 362.4Z" fill="#000"/>
<path d="M2083 142.9H2107M2095 130.9V154.9" stroke="#000" stroke-width="1.1" fill="none"/>
<rect x="2061.1" y="185.1" width="16.6" height="16.6" fill="#000" stroke="none" stroke-width="1" />
<rect x="2061.1" y="216.7" width="16.6" height="16.6" fill="#000" stroke="none" stroke-width="1" />
<rect x="2061.1" y="248.1" width="16.6" height="16.6" fill="#000" stroke="none" stroke-width="1" />
<rect x="944.4" y="36.5" width="1229" height="505.8" fill="none" stroke="#3c3c3c" stroke-width="1.15" rx="1"/>
<line x1="1047" y1="542.3" x2="1047" y2="554.3" stroke="#333" stroke-width="1.3" />
<line x1="1217.4" y1="542.3" x2="1217.4" y2="554.3" stroke="#333" stroke-width="1.3" />
<line x1="1387.8" y1="542.3" x2="1387.8" y2="554.3" stroke="#333" stroke-width="1.3" />
<line x1="1558.2" y1="542.3" x2="1558.2" y2="554.3" stroke="#333" stroke-width="1.3" />
<line x1="1728.6" y1="542.3" x2="1728.6" y2="554.3" stroke="#333" stroke-width="1.3" />
<line x1="1899" y1="542.3" x2="1899" y2="554.3" stroke="#333" stroke-width="1.3" />
<line x1="2069.4" y1="542.3" x2="2069.4" y2="554.3" stroke="#333" stroke-width="1.3" />
<line x1="932.9" y1="83.9" x2="944.4" y2="83.9" stroke="#333" stroke-width="1.2" />
<text x="928.5" y="92.5" text-anchor="end" font-size="27" font-weight="normal" >5.0</text>
<line x1="932.9" y1="193.1" x2="944.4" y2="193.1" stroke="#333" stroke-width="1.2" />
<text x="928.5" y="201.7" text-anchor="end" font-size="27" font-weight="normal" >2.5</text>
<line x1="932.9" y1="302.3" x2="944.4" y2="302.3" stroke="#333" stroke-width="1.2" />
<text x="928.5" y="310.9" text-anchor="end" font-size="27" font-weight="normal" >0.0</text>
<line x1="932.9" y1="411.5" x2="944.4" y2="411.5" stroke="#333" stroke-width="1.2" />
<text x="928.5" y="420.1" text-anchor="end" font-size="27" font-weight="normal" >−2.5</text>
<line x1="932.9" y1="520.7" x2="944.4" y2="520.7" stroke="#333" stroke-width="1.2" />
<text x="928.5" y="529.3" text-anchor="end" font-size="27" font-weight="normal" >−5.0</text>
<text transform="translate(865,302.5) rotate(-90)" text-anchor="middle" font-size="27">Annual average rate of change (%)</text>
<text x="1047" y="582" text-anchor="middle" font-size="27" font-weight="normal" >CO<tspan font-size="19" dy="7.5">2</tspan><tspan dy="-7.5"> total</tspan></text>
<text x="1217.4" y="582" text-anchor="middle" font-size="27" font-weight="normal" >CO<tspan font-size="19" dy="7.5">2</tspan><tspan dy="-7.5"> energy</tspan></text>
<text x="1387.8" y="582" text-anchor="middle" font-size="27" font-weight="normal" >CO<tspan font-size="19" dy="7.5">2</tspan><tspan dy="-7.5">/PE</tspan></text>
<text x="1558.2" y="582" text-anchor="middle" font-size="27" font-weight="normal" >CO<tspan font-size="19" dy="7.5">2</tspan><tspan dy="-7.5">/GDP</tspan></text>
<text x="1728.6" y="582" text-anchor="middle" font-size="27" font-weight="normal" >Primary</text>
<text x="1728.6" y="611.5" text-anchor="middle" font-size="27" font-weight="normal" >energy</text>
<text x="1899" y="582" text-anchor="middle" font-size="27" font-weight="normal" >Energy/GDP</text>
<text x="2069.4" y="582" text-anchor="middle" font-size="27" font-weight="normal" >Electricity/</text>
<text x="2069.4" y="611.5" text-anchor="middle" font-size="27" font-weight="normal" >final energy</text>
<circle cx="950.2" cy="625" r="6.2" fill="#000" stroke="none" stroke-width="1" />
<text x="964.1" y="633.5" text-anchor="start" font-size="27" font-weight="normal" >BP</text>
<path d="M1022.1 630.9L1038.1 630.9L1030.1 616.8Z" fill="#000"/>
<text x="1045.6" y="633.5" text-anchor="start" font-size="27" font-weight="normal" >EXXON</text>
<rect x="1163.1" y="619" width="12" height="12" fill="#000" stroke="none" stroke-width="1" />
<text x="1185.6" y="633.5" text-anchor="start" font-size="27" font-weight="normal" >IEA</text>
<path d="M1258.1 625H1275.1M1266.6 616.5V633.5" stroke="#000" stroke-width="1.1" fill="none"/>
<text x="1283.1" y="633.5" text-anchor="start" font-size="27" font-weight="normal" >SHELL</text>
<path d="M1400.7 618.8h12.5v12.5h-12.5ZM1400.7 618.8l12.5 12.5M1400.7 631.2l12.5 -12.5" stroke="#000" stroke-width="1.1" fill="none"/>
<text x="1424.6" y="633.5" text-anchor="start" font-size="27" font-weight="normal" >STATOIL</text>
<g fill="none" stroke="#66952a" stroke-opacity="0.42" stroke-width="1.3"><circle cx="951.5" cy="677.5" r="10.8"/></g>
<text x="973" y="686.5" text-anchor="start" font-size="27" font-weight="normal" >&lt;1.5<tspan dx="4">°C</tspan></text>
<g fill="#7fdc93" fill-opacity="0.3" stroke="#7fdc93" stroke-opacity="0.42" stroke-width="1.2"><circle cx="1088.5" cy="677.5" r="10.8"/></g>
<text x="1110" y="686.5" text-anchor="start" font-size="27" font-weight="normal" >1.5<tspan dx="4">°C</tspan>–2<tspan dx="4">°C</tspan></text>
<g fill="#f2d646" fill-opacity="0.3" stroke="#f2d646" stroke-opacity="0.42" stroke-width="1.2"><circle cx="1276" cy="677.5" r="10.8"/></g>
<text x="1295.4" y="686.5" text-anchor="start" font-size="27" font-weight="normal" >2<tspan dx="4">°C</tspan>–3<tspan dx="4">°C</tspan></text>
<g fill="none" stroke="#d52b1a" stroke-opacity="0.42" stroke-width="1.3"><circle cx="1439" cy="677.5" r="10.8"/></g>
<text x="1456.8" y="686.5" text-anchor="start" font-size="27" font-weight="normal" >3<tspan dx="4">°C</tspan>–4<tspan dx="4">°C</tspan></text>
<g fill="#a5171f" fill-opacity="0.3" stroke="#a5171f" stroke-opacity="0.42" stroke-width="1.2"><circle cx="1598.8" cy="677.5" r="10.8"/></g>
<text x="1618" y="686.5" text-anchor="start" font-size="27" font-weight="normal" >4<tspan dx="4">°C</tspan>/BAU</text>
</g>
<g id="panel-c">
<text x="-1" y="750" text-anchor="start" font-size="31" font-weight="bold" >c</text>
<line x1="206.5" y1="755.3" x2="206.5" y2="1297.3" stroke="#dcdcdc" stroke-width="1.3" />
<line x1="411.5" y1="755.3" x2="411.5" y2="1297.3" stroke="#dcdcdc" stroke-width="1.3" />
<line x1="616.5" y1="755.3" x2="616.5" y2="1297.3" stroke="#dcdcdc" stroke-width="1.3" />
<line x1="821.5" y1="755.3" x2="821.5" y2="1297.3" stroke="#dcdcdc" stroke-width="1.3" />
<line x1="1026.5" y1="755.3" x2="1026.5" y2="1297.3" stroke="#dcdcdc" stroke-width="1.3" />
<line x1="1231.5" y1="755.3" x2="1231.5" y2="1297.3" stroke="#dcdcdc" stroke-width="1.3" />
<line x1="1436.5" y1="755.3" x2="1436.5" y2="1297.3" stroke="#dcdcdc" stroke-width="1.3" />
<line x1="1641.5" y1="755.3" x2="1641.5" y2="1297.3" stroke="#dcdcdc" stroke-width="1.3" />
<line x1="1846.5" y1="755.3" x2="1846.5" y2="1297.3" stroke="#dcdcdc" stroke-width="1.3" />
<line x1="2051.5" y1="755.3" x2="2051.5" y2="1297.3" stroke="#dcdcdc" stroke-width="1.3" />
<line x1="83.7" y1="1272.8" x2="2173.2" y2="1272.8" stroke="#dcdcdc" stroke-width="1.3" />
<line x1="83.7" y1="943.6" x2="2173.2" y2="943.6" stroke="#dcdcdc" stroke-width="1.3" />
<line x1="83.7" y1="779" x2="2173.2" y2="779" stroke="#dcdcdc" stroke-width="1.3" />
<line x1="83.7" y1="1108.5" x2="2173.2" y2="1108.5" stroke="#000" stroke-width="1.15" />
<g fill="none" stroke="#66952a" stroke-opacity="0.42" stroke-width="1.3"><circle cx="136.8" cy="1197.2" r="13.2"/><circle cx="149.1" cy="1209.4" r="13.2"/><circle cx="212.8" cy="1225.4" r="13.2"/><circle cx="171.1" cy="1236.4" r="13.2"/><circle cx="144.2" cy="1241.3" r="13.2"/><circle cx="162.5" cy="1249.9" r="13.2"/><circle cx="225.1" cy="1252.4" r="13.2"/><circle cx="249.6" cy="1243.8" r="13.2"/><circle cx="285.7" cy="1252.4" r="13.2"/><circle cx="180.9" cy="1236.4" r="13.2"/><circle cx="189.5" cy="1242.5" r="13.2"/><circle cx="134.3" cy="1248.7" r="13.2"/><circle cx="257" cy="1246.2" r="13.2"/></g>
<g fill="#7fdc93" fill-opacity="0.3" stroke="#7fdc93" stroke-opacity="0.42" stroke-width="1.2"><circle cx="150.3" cy="1134.6" r="13.2"/><circle cx="172.4" cy="1156.7" r="13.2"/><circle cx="206.7" cy="1176.3" r="13.2"/><circle cx="152.7" cy="1184.9" r="13.2"/><circle cx="284" cy="1187.4" r="13.2"/><circle cx="129.4" cy="1202.1" r="13.2"/><circle cx="177.3" cy="1199.6" r="13.2"/><circle cx="141.7" cy="1203.3" r="13.2"/><circle cx="151.5" cy="1214.3" r="13.2"/><circle cx="161.3" cy="1216.8" r="13.2"/><circle cx="129.4" cy="1230.3" r="13.2"/><circle cx="146.6" cy="1231.5" r="13.2"/><circle cx="284" cy="1221.7" r="13.2"/><circle cx="266.8" cy="1216.8" r="13.2"/><circle cx="193.2" cy="1243.8" r="13.2"/><circle cx="210.4" cy="1246.2" r="13.2"/><circle cx="281.5" cy="1238.9" r="13.2"/><circle cx="131.9" cy="1241.3" r="13.2"/></g>
<g fill="#f2d646" fill-opacity="0.3" stroke="#f2d646" stroke-opacity="0.42" stroke-width="1.2"><circle cx="163.3" cy="1042.6" r="13.2"/><circle cx="230" cy="1054.9" r="13.2"/><circle cx="196.9" cy="1069.6" r="13.2"/><circle cx="280.3" cy="1080.7" r="13.2"/><circle cx="284" cy="1092.9" r="13.2"/><circle cx="124.5" cy="1105.2" r="13.2"/><circle cx="168.7" cy="1092.9" r="13.2"/><circle cx="205.5" cy="1091.7" r="13.2"/><circle cx="226.3" cy="1083.1" r="13.2"/><circle cx="195.7" cy="1121.1" r="13.2"/><circle cx="123.3" cy="1138.3" r="13.2"/><circle cx="281.5" cy="1133.4" r="13.2"/><circle cx="282.7" cy="1148.1" r="13.2"/><circle cx="140.5" cy="1135.8" r="13.2"/><circle cx="131.9" cy="1164.1" r="13.2"/><circle cx="156.4" cy="1167.7" r="13.2"/><circle cx="134.3" cy="1151.8" r="13.2"/><circle cx="204.2" cy="1155.5" r="13.2"/><circle cx="220.2" cy="1160.4" r="13.2"/><circle cx="239.8" cy="1167.7" r="13.2"/><circle cx="249.6" cy="1170.2" r="13.2"/><circle cx="280.3" cy="1169" r="13.2"/><circle cx="200.6" cy="1177.5" r="13.2"/><circle cx="227.5" cy="1187.4" r="13.2"/><circle cx="252.1" cy="1187.4" r="13.2"/><circle cx="185.8" cy="1204.5" r="13.2"/><circle cx="238.6" cy="1203.3" r="13.2"/><circle cx="266.8" cy="1216.8" r="13.2"/><circle cx="136.8" cy="1214.3" r="13.2"/><circle cx="192" cy="1235.2" r="13.2"/><circle cx="180.9" cy="1091.7" r="13.2"/><circle cx="149.1" cy="1101.5" r="13.2"/></g>
<g fill="none" stroke="#d52b1a" stroke-opacity="0.42" stroke-width="1.3"><circle cx="140.5" cy="1040.2" r="13.2"/><circle cx="158.9" cy="1046.3" r="13.2"/><circle cx="133.1" cy="1056.1" r="13.2"/><circle cx="165" cy="1054.4" r="13.2"/><circle cx="211.6" cy="1040.2" r="13.2"/><circle cx="220.2" cy="1042.6" r="13.2"/><circle cx="263.1" cy="1024.2" r="13.2"/><circle cx="278.6" cy="1037.2" r="13.2"/><circle cx="217.7" cy="1054.9" r="13.2"/><circle cx="238.6" cy="1053.7" r="13.2"/><circle cx="264.3" cy="1050" r="13.2"/><circle cx="271.2" cy="1064.7" r="13.2"/><circle cx="241" cy="1077" r="13.2"/><circle cx="149.1" cy="1072.1" r="13.2"/><circle cx="161.3" cy="1077" r="13.2"/><circle cx="140.5" cy="1081.9" r="13.2"/><circle cx="173.6" cy="1089.2" r="13.2"/><circle cx="214.1" cy="1124.8" r="13.2"/><circle cx="173.6" cy="1126" r="13.2"/><circle cx="257" cy="1111.3" r="13.2"/><circle cx="136.8" cy="1101.5" r="13.2"/><circle cx="133.1" cy="1104" r="13.2"/><circle cx="269.2" cy="1077" r="13.2"/><circle cx="220.2" cy="996" r="13.2"/><circle cx="185.8" cy="1081.9" r="13.2"/><circle cx="203" cy="1086.8" r="13.2"/><circle cx="252.1" cy="1096.6" r="13.2"/></g>
<g fill="#a5171f" fill-opacity="0.3" stroke="#a5171f" stroke-opacity="0.42" stroke-width="1.2"><circle cx="158.4" cy="970.5" r="13.2"/><circle cx="281.5" cy="958.8" r="13.2"/><circle cx="223.9" cy="991.9" r="13.2"/><circle cx="279.1" cy="1002.2" r="13.2"/><circle cx="246.4" cy="1008.8" r="13.2"/><circle cx="232.5" cy="1012.7" r="13.2"/><circle cx="183.9" cy="1019.3" r="13.2"/><circle cx="165.7" cy="1027.9" r="13.2"/><circle cx="192.7" cy="1040.2" r="13.2"/><circle cx="239.8" cy="1047.5" r="13.2"/><circle cx="200.1" cy="1056.1" r="13.2"/></g>
<g fill="none" stroke="#66952a" stroke-opacity="0.42" stroke-width="1.3"><circle cx="439.4" cy="1100.5" r="13.2"/><circle cx="372.3" cy="1161.4" r="13.2"/><circle cx="338.8" cy="1187.2" r="13.2"/><circle cx="384.7" cy="1174.8" r="13.2"/><circle cx="388.4" cy="1194.5" r="13.2"/><circle cx="435.3" cy="1193.8" r="13.2"/><circle cx="433.2" cy="1209.3" r="13.2"/><circle cx="414.6" cy="1226.5" r="13.2"/><circle cx="478.7" cy="1171.1" r="13.2"/><circle cx="432.2" cy="1131.5" r="13.2"/></g>
<g fill="#7fdc93" fill-opacity="0.3" stroke="#7fdc93" stroke-opacity="0.42" stroke-width="1.2"><circle cx="357.8" cy="1034" r="13.2"/><circle cx="486.9" cy="1076.7" r="13.2"/><circle cx="389.9" cy="1105.6" r="13.2"/><circle cx="411.5" cy="1112.9" r="13.2"/><circle cx="337.2" cy="1125.3" r="13.2"/><circle cx="380.6" cy="1125.3" r="13.2"/><circle cx="401.2" cy="1146.9" r="13.2"/><circle cx="342.3" cy="1155.2" r="13.2"/><circle cx="450.8" cy="1182.1" r="13.2"/><circle cx="469.4" cy="1112.9" r="13.2"/><circle cx="423.9" cy="1108.7" r="13.2"/><circle cx="362" cy="1112.9" r="13.2"/></g>
<g fill="#f2d646" fill-opacity="0.3" stroke="#f2d646" stroke-opacity="0.42" stroke-width="1.2"><circle cx="383.7" cy="1033.3" r="13.2"/><circle cx="416.7" cy="1033.3" r="13.2"/><circle cx="465.3" cy="1033.3" r="13.2"/><circle cx="337.2" cy="1061.2" r="13.2"/><circle cx="331" cy="1072.6" r="13.2"/><circle cx="381.6" cy="1065.4" r="13.2"/><circle cx="397.1" cy="1063.3" r="13.2"/><circle cx="432.2" cy="1057.1" r="13.2"/><circle cx="461.1" cy="1059.2" r="13.2"/><circle cx="336.1" cy="1104.6" r="13.2"/><circle cx="347.5" cy="1096.3" r="13.2"/><circle cx="490" cy="1100.5" r="13.2"/><circle cx="481.8" cy="1094.3" r="13.2"/><circle cx="432.2" cy="1102.5" r="13.2"/><circle cx="465.3" cy="1106.7" r="13.2"/><circle cx="340.3" cy="1135.6" r="13.2"/><circle cx="350.6" cy="1142.8" r="13.2"/><circle cx="338.2" cy="1154.2" r="13.2"/><circle cx="444.6" cy="1139.7" r="13.2"/><circle cx="378.1" cy="1184.1" r="13.2"/><circle cx="364" cy="1075.7" r="13.2"/><circle cx="444.6" cy="1075.7" r="13.2"/><circle cx="415.7" cy="1092.2" r="13.2"/><circle cx="395" cy="1102.5" r="13.2"/><circle cx="368.2" cy="1100.5" r="13.2"/><circle cx="448.7" cy="1092.2" r="13.2"/></g>
<g fill="none" stroke="#d52b1a" stroke-opacity="0.42" stroke-width="1.3"><circle cx="447.7" cy="1028.2" r="13.2"/><circle cx="459.1" cy="1026.1" r="13.2"/><circle cx="467.3" cy="1029.2" r="13.2"/><circle cx="380.6" cy="1048.8" r="13.2"/><circle cx="348.5" cy="1057.1" r="13.2"/><circle cx="393" cy="1055" r="13.2"/><circle cx="368.2" cy="1064.3" r="13.2"/><circle cx="464.2" cy="1059.2" r="13.2"/><circle cx="490" cy="1069.5" r="13.2"/><circle cx="330" cy="1092.2" r="13.2"/><circle cx="331" cy="1101.5" r="13.2"/><circle cx="491.1" cy="1111.8" r="13.2"/><circle cx="492.1" cy="1100.5" r="13.2"/><circle cx="379.5" cy="1125.3" r="13.2"/><circle cx="355.8" cy="1137.6" r="13.2"/><circle cx="429.1" cy="1141.8" r="13.2"/><circle cx="445.6" cy="1143.8" r="13.2"/><circle cx="432.2" cy="1135.6" r="13.2"/><circle cx="399.2" cy="1063.3" r="13.2"/><circle cx="407.4" cy="1067.4" r="13.2"/><circle cx="444.6" cy="1063.3" r="13.2"/><circle cx="362" cy="1088.1" r="13.2"/><circle cx="415.7" cy="1083.9" r="13.2"/><circle cx="457" cy="1092.2" r="13.2"/><circle cx="477.6" cy="1083.9" r="13.2"/><circle cx="390.9" cy="1094.3" r="13.2"/></g>
<g fill="#a5171f" fill-opacity="0.3" stroke="#a5171f" stroke-opacity="0.42" stroke-width="1.2"><circle cx="370.2" cy="1024.4" r="13.2"/><circle cx="404.3" cy="1019.9" r="13.2"/><circle cx="489.6" cy="1027.1" r="13.2"/><circle cx="434.7" cy="1050.9" r="13.2"/><circle cx="346.5" cy="1064.3" r="13.2"/><circle cx="423.9" cy="1059.2" r="13.2"/><circle cx="430.1" cy="1057.1" r="13.2"/><circle cx="371.3" cy="1106.7" r="13.2"/><circle cx="448.7" cy="1121.1" r="13.2"/></g>
<g fill="none" stroke="#66952a" stroke-opacity="0.42" stroke-width="1.3"><circle cx="694.9" cy="995.6" r="13.2"/><circle cx="683.9" cy="1015.3" r="13.2"/><circle cx="637.3" cy="1082.7" r="13.2"/><circle cx="674.1" cy="1082.7" r="13.2"/><circle cx="693" cy="1180.3" r="13.2"/><circle cx="574.8" cy="1192.5" r="13.2"/><circle cx="633.2" cy="1194.3" r="13.2"/><circle cx="660.1" cy="1204.8" r="13.2"/><circle cx="673.4" cy="1235.5" r="13.2"/><circle cx="602" cy="1240.1" r="13.2"/><circle cx="619.4" cy="1249.2" r="13.2"/></g>
<g fill="#7fdc93" fill-opacity="0.3" stroke="#7fdc93" stroke-opacity="0.42" stroke-width="1.2"><circle cx="659.4" cy="976.5" r="13.2"/><circle cx="674.6" cy="983.4" r="13.2"/><circle cx="644.7" cy="1012.8" r="13.2"/><circle cx="576" cy="1070.4" r="13.2"/><circle cx="625.1" cy="1090" r="13.2"/><circle cx="569.9" cy="1121.9" r="13.2"/><circle cx="544.1" cy="1134.2" r="13.2"/><circle cx="647.1" cy="1133" r="13.2"/><circle cx="673.4" cy="1142.8" r="13.2"/><circle cx="604.2" cy="1147.7" r="13.2"/><circle cx="647.9" cy="1174.6" r="13.2"/><circle cx="536" cy="1201.1" r="13.2"/><circle cx="555.7" cy="1197.2" r="13.2"/></g>
<g fill="#f2d646" fill-opacity="0.3" stroke="#f2d646" stroke-opacity="0.42" stroke-width="1.2"><circle cx="688.3" cy="948.3" r="13.2"/><circle cx="682.7" cy="960.1" r="13.2"/><circle cx="694.2" cy="973.6" r="13.2"/><circle cx="541.2" cy="970.6" r="13.2"/><circle cx="603" cy="982.1" r="13.2"/><circle cx="556.9" cy="1001.8" r="13.2"/><circle cx="590.7" cy="1003" r="13.2"/><circle cx="638.5" cy="1000" r="13.2"/><circle cx="666.7" cy="998.1" r="13.2"/><circle cx="693.7" cy="1007.9" r="13.2"/><circle cx="540.5" cy="1017.7" r="13.2"/><circle cx="674.1" cy="985.8" r="13.2"/><circle cx="697.4" cy="1065.5" r="13.2"/><circle cx="659.4" cy="1075.3" r="13.2"/><circle cx="544.1" cy="1071.7" r="13.2"/><circle cx="596.1" cy="1087.6" r="13.2"/><circle cx="538" cy="1097.4" r="13.2"/><circle cx="571.1" cy="1113.3" r="13.2"/><circle cx="540.5" cy="1118.2" r="13.2"/><circle cx="691.3" cy="1103.5" r="13.2"/><circle cx="688.8" cy="1113.3" r="13.2"/><circle cx="551.5" cy="1125.6" r="13.2"/><circle cx="574.8" cy="1160.4" r="13.2"/><circle cx="655.5" cy="1163.6" r="13.2"/><circle cx="644.7" cy="1101.1" r="13.2"/><circle cx="632.4" cy="1071.7" r="13.2"/><circle cx="622.6" cy="1017.7" r="13.2"/><circle cx="573.6" cy="1052" r="13.2"/><circle cx="671.7" cy="1047.1" r="13.2"/></g>
<g fill="none" stroke="#d52b1a" stroke-opacity="0.42" stroke-width="1.3"><circle cx="685.1" cy="929.4" r="13.2"/><circle cx="558.1" cy="955.2" r="13.2"/><circle cx="622.6" cy="965" r="13.2"/><circle cx="603" cy="1003" r="13.2"/><circle cx="573.6" cy="1005.4" r="13.2"/><circle cx="626.3" cy="1010.3" r="13.2"/><circle cx="669.2" cy="1007.9" r="13.2"/><circle cx="686.4" cy="1000.5" r="13.2"/><circle cx="693.7" cy="1038.5" r="13.2"/><circle cx="615.3" cy="1027.5" r="13.2"/><circle cx="544.1" cy="1083.9" r="13.2"/><circle cx="626.3" cy="1079" r="13.2"/><circle cx="639.8" cy="1085.1" r="13.2"/><circle cx="687.6" cy="1082.7" r="13.2"/><circle cx="668" cy="1061.8" r="13.2"/><circle cx="595.6" cy="1063.1" r="13.2"/><circle cx="642.2" cy="1037.3" r="13.2"/><circle cx="585.8" cy="1027.5" r="13.2"/><circle cx="666.7" cy="1027.5" r="13.2"/><circle cx="561.3" cy="1037.3" r="13.2"/><circle cx="607.9" cy="1047.1" r="13.2"/></g>
<g fill="#a5171f" fill-opacity="0.3" stroke="#a5171f" stroke-opacity="0.42" stroke-width="1.2"><circle cx="558.1" cy="938.5" r="13.2"/><circle cx="574.8" cy="942.4" r="13.2"/><circle cx="582.4" cy="988.8" r="13.2"/><circle cx="537.3" cy="1010.3" r="13.2"/><circle cx="562.5" cy="1018.9" r="13.2"/><circle cx="578.5" cy="1014" r="13.2"/><circle cx="654.5" cy="1025.1" r="13.2"/><circle cx="652" cy="1052" r="13.2"/></g>
<path d="M129.7 1237.6H283.3" stroke="#66952a" stroke-width="12.2" fill="none"/><path d="M129.7 1237.6H283.3" stroke="#66952a" stroke-width="8.6" stroke-linecap="round" fill="none"/>
<path d="M129.7 1207.7H283.3" stroke="#7fdc93" stroke-width="12.2" fill="none"/><path d="M129.7 1207.7H283.3" stroke="#7fdc93" stroke-width="8.6" stroke-linecap="round" fill="none"/>
<path d="M129.7 1145.2H283.3" stroke="#f2d646" stroke-width="12.2" fill="none"/><path d="M129.7 1145.2H283.3" stroke="#f2d646" stroke-width="8.6" stroke-linecap="round" fill="none"/>
<path d="M129.7 1075H283.3" stroke="#d52b1a" stroke-width="12.2" fill="none"/><path d="M129.7 1075H283.3" stroke="#d52b1a" stroke-width="8.6" stroke-linecap="round" fill="none"/>
<path d="M129.7 1016.1H283.3" stroke="#a5171f" stroke-width="12.2" fill="none"/><path d="M129.7 1016.1H283.3" stroke="#a5171f" stroke-width="8.6" stroke-linecap="round" fill="none"/>
<path d="M334.7 1171.3H488.3" stroke="#66952a" stroke-width="12.2" fill="none"/><path d="M334.7 1171.3H488.3" stroke="#66952a" stroke-width="8.6" stroke-linecap="round" fill="none"/>
<path d="M334.7 1120.7H488.3" stroke="#7fdc93" stroke-width="12.2" fill="none"/><path d="M334.7 1120.7H488.3" stroke="#7fdc93" stroke-width="8.6" stroke-linecap="round" fill="none"/>
<path d="M334.7 1089H488.3" stroke="#f2d646" stroke-width="12.2" fill="none"/><path d="M334.7 1089H488.3" stroke="#f2d646" stroke-width="8.6" stroke-linecap="round" fill="none"/>
<path d="M334.7 1082.3H488.3" stroke="#d52b1a" stroke-width="12.2" fill="none"/><path d="M334.7 1082.3H488.3" stroke="#d52b1a" stroke-width="8.6" stroke-linecap="round" fill="none"/>
<path d="M334.7 1064.9H488.3" stroke="#a5171f" stroke-width="12.2" fill="none"/><path d="M334.7 1064.9H488.3" stroke="#a5171f" stroke-width="8.6" stroke-linecap="round" fill="none"/>
<path d="M539.7 1180.5H693.3" stroke="#66952a" stroke-width="12.2" fill="none"/><path d="M539.7 1180.5H693.3" stroke="#66952a" stroke-width="8.6" stroke-linecap="round" fill="none"/>
<path d="M539.7 1101.6H693.3" stroke="#7fdc93" stroke-width="12.2" fill="none"/><path d="M539.7 1101.6H693.3" stroke="#7fdc93" stroke-width="8.6" stroke-linecap="round" fill="none"/>
<path d="M539.7 1061.1H693.3" stroke="#f2d646" stroke-width="12.2" fill="none"/><path d="M539.7 1061.1H693.3" stroke="#f2d646" stroke-width="8.6" stroke-linecap="round" fill="none"/>
<path d="M539.7 1037.3H693.3" stroke="#d52b1a" stroke-width="12.2" fill="none"/><path d="M539.7 1037.3H693.3" stroke="#d52b1a" stroke-width="8.6" stroke-linecap="round" fill="none"/>
<path d="M539.7 1022.1H693.3" stroke="#a5171f" stroke-width="12.2" fill="none"/><path d="M539.7 1022.1H693.3" stroke="#a5171f" stroke-width="8.6" stroke-linecap="round" fill="none"/>
<path d="M258.2 1079.5h19.5v19.5h-19.5ZM258.2 1079.5l19.5 19.5M258.2 1099l19.5 -19.5" stroke="#000" stroke-width="1.1" fill="none"/>
<path d="M258.2 1113.8h19.5v19.5h-19.5ZM258.2 1113.8l19.5 19.5M258.2 1133.3l19.5 -19.5" stroke="#000" stroke-width="1.1" fill="none"/>
<path d="M258.2 1171.7h19.5v19.5h-19.5ZM258.2 1171.7l19.5 19.5M258.2 1191.2l19.5 -19.5" stroke="#000" stroke-width="1.1" fill="none"/>
<path d="M223.3 1137.1H251.3M237.3 1123.1V1151.1" stroke="#000" stroke-width="1.1" fill="none"/>
<circle cx="145" cy="1091.7" r="10" fill="#000" stroke="none" stroke-width="1" />
<circle cx="145" cy="1104.4" r="10" fill="#000" stroke="none" stroke-width="1" />
<circle cx="145" cy="1130.9" r="10" fill="#000" stroke="none" stroke-width="1" />
<circle cx="145" cy="1166.5" r="10" fill="#000" stroke="none" stroke-width="1" />
<circle cx="145" cy="1193" r="10" fill="#000" stroke="none" stroke-width="1" />
<rect x="196.7" y="1092.9" width="19.6" height="19.6" fill="#000" stroke="none" stroke-width="1" />
<rect x="196.7" y="1187.4" width="19.6" height="19.6" fill="#000" stroke="none" stroke-width="1" />
<rect x="196.7" y="1197.2" width="19.6" height="19.6" fill="#000" stroke="none" stroke-width="1" />
<path d="M162.4 1117.4L188.9 1117.4L175.7 1094.1Z" fill="#000"/>
<circle cx="206.5" cy="1102.7" r="17.5" fill="none" stroke="#f2d646" stroke-width="2.2" />
<circle cx="205.5" cy="1197.2" r="17.5" fill="none" stroke="#7fdc93" stroke-width="2.2" />
<circle cx="205.5" cy="1208.2" r="17.5" fill="none" stroke="#66952a" stroke-width="2.2" />
<path d="M463.2 1065.5h19.5v19.5h-19.5ZM463.2 1065.5l19.5 19.5M463.2 1085l19.5 -19.5" stroke="#000" stroke-width="1.1" fill="none"/>
<path d="M463.2 1088.7h19.5v19.5h-19.5ZM463.2 1088.7l19.5 19.5M463.2 1108.2l19.5 -19.5" stroke="#000" stroke-width="1.1" fill="none"/>
<path d="M463.2 1123.4h19.5v19.5h-19.5ZM463.2 1123.4l19.5 19.5M463.2 1142.9l19.5 -19.5" stroke="#000" stroke-width="1.1" fill="none"/>
<path d="M428.3 1121.7H456.3M442.3 1107.7V1135.7" stroke="#000" stroke-width="1.1" fill="none"/>
<circle cx="350" cy="1091.2" r="10" fill="#000" stroke="none" stroke-width="1" />
<circle cx="350" cy="1097.4" r="10" fill="#000" stroke="none" stroke-width="1" />
<circle cx="350" cy="1104.6" r="10" fill="#000" stroke="none" stroke-width="1" />
<circle cx="350" cy="1111.8" r="10" fill="#000" stroke="none" stroke-width="1" />
<circle cx="350" cy="1117" r="10" fill="#000" stroke="none" stroke-width="1" />
<circle cx="350" cy="1132.5" r="10" fill="#000" stroke="none" stroke-width="1" />
<rect x="401.7" y="1082" width="19.6" height="19.6" fill="#000" stroke="none" stroke-width="1" />
<rect x="401.7" y="1130.3" width="19.6" height="19.6" fill="#000" stroke="none" stroke-width="1" />
<rect x="401.7" y="1155.7" width="19.6" height="19.6" fill="#000" stroke="none" stroke-width="1" />
<path d="M367.4 1094.4L393.9 1094.4L380.7 1071Z" fill="#000"/>
<circle cx="410.7" cy="1091.4" r="17.5" fill="none" stroke="#f2d646" stroke-width="2.2" />
<circle cx="409.7" cy="1140.7" r="17.5" fill="none" stroke="#7fdc93" stroke-width="2.2" />
<circle cx="409.7" cy="1165.9" r="17.5" fill="none" stroke="#66952a" stroke-width="2.2" />
<path d="M668.2 1064.8h19.5v19.5h-19.5ZM668.2 1064.8l19.5 19.5M668.2 1084.3l19.5 -19.5" stroke="#000" stroke-width="1.1" fill="none"/>
<path d="M668.2 1070.5h19.5v19.5h-19.5ZM668.2 1070.5l19.5 19.5M668.2 1090l19.5 -19.5" stroke="#000" stroke-width="1.1" fill="none"/>
<path d="M668.2 1108.5h19.5v19.5h-19.5ZM668.2 1108.5l19.5 19.5M668.2 1128l19.5 -19.5" stroke="#000" stroke-width="1.1" fill="none"/>
<path d="M633.3 1091.3H661.3M647.3 1077.3V1105.3" stroke="#000" stroke-width="1.1" fill="none"/>
<circle cx="555" cy="1052" r="10" fill="#000" stroke="none" stroke-width="1" />
<circle cx="555" cy="1072.9" r="10" fill="#000" stroke="none" stroke-width="1" />
<circle cx="555" cy="1092.5" r="10" fill="#000" stroke="none" stroke-width="1" />
<circle cx="555" cy="1112.1" r="10" fill="#000" stroke="none" stroke-width="1" />
<rect x="606.7" y="1049.6" width="19.6" height="19.6" fill="#000" stroke="none" stroke-width="1" />
<rect x="606.7" y="1113.3" width="19.6" height="19.6" fill="#000" stroke="none" stroke-width="1" />
<rect x="606.7" y="1134.2" width="19.6" height="19.6" fill="#000" stroke="none" stroke-width="1" />
<path d="M572.5 1069.9L599 1069.9L585.7 1046.6Z" fill="#000"/>
<circle cx="615.3" cy="1058.9" r="17.5" fill="none" stroke="#f2d646" stroke-width="2.2" />
<circle cx="614.8" cy="1122.7" r="17.5" fill="none" stroke="#7fdc93" stroke-width="2.2" />
<circle cx="614.8" cy="1144.7" r="17.5" fill="none" stroke="#66952a" stroke-width="2.2" />
<path d="M868.9 1091.7h19.5v19.5h-19.5ZM868.9 1091.7l19.5 19.5M868.9 1111.2l19.5 -19.5" stroke="#000" stroke-width="1.1" fill="none"/>
<path d="M868.9 1115.4h19.5v19.5h-19.5ZM868.9 1115.4l19.5 19.5M868.9 1134.9l19.5 -19.5" stroke="#000" stroke-width="1.1" fill="none"/>
<path d="M868.9 1185.3h19.5v19.5h-19.5ZM868.9 1185.3l19.5 19.5M868.9 1204.8l19.5 -19.5" stroke="#000" stroke-width="1.1" fill="none"/>
<path d="M1073.6 1045.4h19.5v19.5h-19.5ZM1073.6 1045.4l19.5 19.5M1073.6 1064.9l19.5 -19.5" stroke="#000" stroke-width="1.1" fill="none"/>
<path d="M1073.6 1060.1h19.5v19.5h-19.5ZM1073.6 1060.1l19.5 19.5M1073.6 1079.6l19.5 -19.5" stroke="#000" stroke-width="1.1" fill="none"/>
<path d="M1073.6 1123.3h19.5v19.5h-19.5ZM1073.6 1123.3l19.5 19.5M1073.6 1142.8l19.5 -19.5" stroke="#000" stroke-width="1.1" fill="none"/>
<path d="M1278.8 1001.9h19.5v19.5h-19.5ZM1278.8 1001.9l19.5 19.5M1278.8 1021.4l19.5 -19.5" stroke="#000" stroke-width="1.1" fill="none"/>
<path d="M1278.8 1051h19.5v19.5h-19.5ZM1278.8 1051l19.5 19.5M1278.8 1070.5l19.5 -19.5" stroke="#000" stroke-width="1.1" fill="none"/>
<path d="M1278.8 1066.8h19.5v19.5h-19.5ZM1278.8 1066.8l19.5 19.5M1278.8 1086.3l19.5 -19.5" stroke="#000" stroke-width="1.1" fill="none"/>
<path d="M1483.5 888.5h19.5v19.5h-19.5ZM1483.5 888.5l19.5 19.5M1483.5 908l19.5 -19.5" stroke="#000" stroke-width="1.1" fill="none"/>
<path d="M1483.5 919.7h19.5v19.5h-19.5ZM1483.5 919.7l19.5 19.5M1483.5 939.2l19.5 -19.5" stroke="#000" stroke-width="1.1" fill="none"/>
<path d="M1483.5 1001.9h19.5v19.5h-19.5ZM1483.5 1001.9l19.5 19.5M1483.5 1021.4l19.5 -19.5" stroke="#000" stroke-width="1.1" fill="none"/>
<path d="M826.3 1162.3H854.3M840.3 1148.3V1176.3" stroke="#000" stroke-width="1.1" fill="none"/>
<path d="M1031.5 1016H1059.5M1045.5 1002V1030" stroke="#000" stroke-width="1.1" fill="none"/>
<path d="M1236.2 924.3H1264.2M1250.2 910.3V938.3" stroke="#000" stroke-width="1.1" fill="none"/>
<rect x="791.8" y="1079.4" width="19.6" height="19.6" fill="#000" stroke="none" stroke-width="1" />
<rect x="791.8" y="1247.7" width="19.6" height="19.6" fill="#000" stroke="none" stroke-width="1" />
<rect x="791.8" y="1261.6" width="19.6" height="19.6" fill="#000" stroke="none" stroke-width="1" />
<rect x="996.9" y="1002.7" width="19.6" height="19.6" fill="#000" stroke="none" stroke-width="1" />
<rect x="996.9" y="1122.5" width="19.6" height="19.6" fill="#000" stroke="none" stroke-width="1" />
<rect x="996.9" y="1147" width="19.6" height="19.6" fill="#000" stroke="none" stroke-width="1" />
<rect x="1201.7" y="948.5" width="19.6" height="19.6" fill="#000" stroke="none" stroke-width="1" />
<rect x="1201.7" y="1022.5" width="19.6" height="19.6" fill="#000" stroke="none" stroke-width="1" />
<rect x="1407.2" y="820.9" width="19.6" height="19.6" fill="#000" stroke="none" stroke-width="1" />
<rect x="1407.2" y="845" width="19.6" height="19.6" fill="#000" stroke="none" stroke-width="1" />
<rect x="1407.2" y="936.3" width="19.6" height="19.6" fill="#000" stroke="none" stroke-width="1" />
<path d="M750 1112L776.5 1112L763.2 1088.7Z" fill="#000"/>
<path d="M955.1 1057.9L981.6 1057.9L968.4 1034.5Z" fill="#000"/>
<path d="M1159.9 1033L1186.4 1033L1173.1 1009.6Z" fill="#000"/>
<path d="M1365 1002.5L1391.5 1002.5L1378.3 979.2Z" fill="#000"/>
<circle cx="801.6" cy="1089.2" r="17.5" fill="none" stroke="#f2d646" stroke-width="2.2" />
<circle cx="800.8" cy="1259.5" r="17.5" fill="none" stroke="#7fdc93" stroke-width="2.2" />
<circle cx="800.8" cy="1269.4" r="17.5" fill="none" stroke="#66952a" stroke-width="2.2" />
<circle cx="1006.7" cy="1012.5" r="17.5" fill="none" stroke="#f2d646" stroke-width="2.2" />
<circle cx="1006.3" cy="1132.3" r="17.5" fill="none" stroke="#7fdc93" stroke-width="2.2" />
<circle cx="1006.3" cy="1156.8" r="17.5" fill="none" stroke="#66952a" stroke-width="2.2" />
<circle cx="1211.5" cy="958.3" r="17.5" fill="none" stroke="#f2d646" stroke-width="2.2" />
<circle cx="1211.1" cy="1032.3" r="17.5" fill="none" stroke="#66952a" stroke-width="2.2" />
<circle cx="1417" cy="830.7" r="17.5" fill="none" stroke="#7fdc93" stroke-width="2.2" />
<circle cx="1417" cy="854.8" r="17.5" fill="none" stroke="#66952a" stroke-width="2.2" />
<circle cx="1417" cy="946.1" r="17.5" fill="none" stroke="#f2d646" stroke-width="2.2" />
<text x="1855" y="1032.5" text-anchor="middle" font-size="27" font-weight="normal" >Missing</text>
<rect x="83.7" y="755.5" width="2091.7" height="541.8" fill="none" stroke="#3a3a3a" stroke-width="1.15" />
<line x1="2175.5" y1="755" x2="2175.5" y2="1297.8" stroke="#000" stroke-width="1.2" />
<line x1="311.6" y1="753.2" x2="311.6" y2="1528.5" stroke="#000" stroke-width="1.2" stroke-dasharray="8.4 8.27"/>
<line x1="716.9" y1="753.2" x2="716.9" y2="1528.5" stroke="#6e6e6e" stroke-width="2.0" stroke-dasharray="8.4 8.27"/>
<line x1="1541.5" y1="753.2" x2="1541.5" y2="1528.5" stroke="#000" stroke-width="1.2" stroke-dasharray="8.4 8.27"/>
<line x1="206.5" y1="1297.3" x2="206.5" y2="1313.3" stroke="#333" stroke-width="1.3" />
<line x1="411.5" y1="1297.3" x2="411.5" y2="1313.3" stroke="#333" stroke-width="1.3" />
<line x1="616.5" y1="1297.3" x2="616.5" y2="1313.3" stroke="#333" stroke-width="1.3" />
<line x1="821.5" y1="1297.3" x2="821.5" y2="1313.3" stroke="#333" stroke-width="1.3" />
<line x1="1026.5" y1="1297.3" x2="1026.5" y2="1313.3" stroke="#333" stroke-width="1.3" />
<line x1="1231.5" y1="1297.3" x2="1231.5" y2="1313.3" stroke="#333" stroke-width="1.3" />
<line x1="1436.5" y1="1297.3" x2="1436.5" y2="1313.3" stroke="#333" stroke-width="1.3" />
<line x1="1641.5" y1="1297.3" x2="1641.5" y2="1313.3" stroke="#333" stroke-width="1.3" />
<line x1="1846.5" y1="1297.3" x2="1846.5" y2="1313.3" stroke="#333" stroke-width="1.3" />
<line x1="2051.5" y1="1297.3" x2="2051.5" y2="1313.3" stroke="#333" stroke-width="1.3" />
<line x1="72.2" y1="779.3" x2="83.7" y2="779.3" stroke="#333" stroke-width="1.2" />
<text x="64.5" y="788" text-anchor="end" font-size="27" font-weight="normal" >10</text>
<line x1="72.2" y1="943.9" x2="83.7" y2="943.9" stroke="#333" stroke-width="1.2" />
<text x="64.5" y="952.6" text-anchor="end" font-size="27" font-weight="normal" >5</text>
<line x1="72.2" y1="1108.5" x2="83.7" y2="1108.5" stroke="#333" stroke-width="1.2" />
<text x="64.5" y="1117.2" text-anchor="end" font-size="27" font-weight="normal" >0</text>
<line x1="72.2" y1="1273.1" x2="83.7" y2="1273.1" stroke="#333" stroke-width="1.2" />
<text x="64.5" y="1281.8" text-anchor="end" font-size="27" font-weight="normal" >−5</text>
<text transform="translate(25,1032) rotate(-90)" text-anchor="middle" font-size="27">Annual average rate of change (%)</text>
<text x="206.5" y="1346" text-anchor="middle" font-size="27" font-weight="normal" >PE coal</text>
<text x="411.5" y="1346" text-anchor="middle" font-size="27" font-weight="normal" >PE oil</text>
<text x="616.5" y="1346" text-anchor="middle" font-size="27" font-weight="normal" >PE gas</text>
<text x="821.5" y="1346" text-anchor="middle" font-size="27" font-weight="normal" >Coal power</text>
<text x="1026.5" y="1346" text-anchor="middle" font-size="27" font-weight="normal" >Gas power</text>
<text x="1231.5" y="1346" text-anchor="middle" font-size="27" font-weight="normal" >Nuclear</text>
<text x="1231.5" y="1378.5" text-anchor="middle" font-size="27" font-weight="normal" >power</text>
<text x="1436.5" y="1346" text-anchor="middle" font-size="27" font-weight="normal" >Renewables</text>
<text x="1436.5" y="1378.5" text-anchor="middle" font-size="27" font-weight="normal" >power</text>
<text x="1641.5" y="1346" text-anchor="middle" font-size="27" font-weight="normal" >Oil and gas</text>
<text x="1641.5" y="1378.5" text-anchor="middle" font-size="27" font-weight="normal" >capex</text>
<text x="1842" y="1346" text-anchor="middle" font-size="27" font-weight="normal" >Sales</text>
<text x="1845.8" y="1378.5" text-anchor="middle" font-size="27" font-weight="normal" >electric cars</text>
<text x="2051.5" y="1346" text-anchor="middle" font-size="27" font-weight="normal" >Self-generated</text>
<text x="2051.5" y="1378.5" text-anchor="middle" font-size="27" font-weight="normal" >power</text>
<text x="59" y="1427.2" text-anchor="middle" font-size="27" font-weight="normal" >Example</text>
<text x="59" y="1459.7" text-anchor="middle" font-size="27" font-weight="normal" >relevant</text>
<text x="59" y="1492.2" text-anchor="middle" font-size="27" font-weight="normal" >industries</text>
<text x="206.5" y="1543.4" text-anchor="middle" font-size="27" font-weight="normal" >Mining</text>
<text x="412.5" y="1543.4" text-anchor="middle" font-size="27" font-weight="normal" >Automotive</text>
<text x="622" y="1543.4" text-anchor="middle" font-size="27" font-weight="normal" >Oil and gas</text>
<text x="1120.5" y="1543.4" text-anchor="middle" font-size="27" font-weight="normal" >Utilities/green tech</text>
<text x="1624.5" y="1543.4" text-anchor="middle" font-size="27" font-weight="normal" >Oil and gas</text>
<text x="1792" y="1543.4" text-anchor="middle" font-size="27" font-weight="normal" >Automotive</text>
<text x="2041" y="1543.4" text-anchor="middle" font-size="27" font-weight="normal" >Utilities/green tech</text>
</g>
<g id="icons">
<g transform="translate(140,1395) scale(0.07100)" fill="#666">
<path d="M830 440C838 300 925 200 1058 200C1192 200 1278 300 1286 440Z"/>
<rect x="780" y="420" width="558" height="86" rx="43"/>
<path d="M940 205L1002 195L990 290L942 388L922 380ZM1176 205L1114 195L1128 290L1176 388L1196 380Z" fill="#fff"/>
<circle cx="1060" cy="350" r="72" fill="#fff"/><circle cx="1060" cy="350" r="36"/><circle cx="1074" cy="338" r="11" fill="#fff"/>
<path d="M875 525H1240C1240 625 1160 706 1057 706C955 706 875 625 875 525Z"/>
<path d="M730 740H1400A130 130 0 0 1 1530 870V1378A60 60 0 0 1 1410 1378V985H1350V1418H778V985H718V1142A58 58 0 0 1 660 1200H381A58 58 0 0 1 381 1085H600V870A130 130 0 0 1 730 740Z"/>
<path d="M830 730H908V906A39 39 0 0 1 830 906ZM1213 730H1297V903A42 42 0 0 1 1213 903Z" fill="#fff"/>
<path d="M165 585C250 505 350 492 428 492C440 455 460 436 478 436C498 436 518 455 530 492C650 502 780 540 872 602C750 588 620 580 532 578V682H426V578C330 578 240 580 165 585Z"/>
<path d="M447 680H504L502 1240A32 32 0 0 1 440 1240Z"/>
</g>
<g transform="translate(340,1430) scale(0.06434)" fill="#666">
<path d="M190 585C240 530 310 505 372 495C470 365 650 235 950 235C1250 235 1385 380 1505 495C1700 505 1850 530 1920 570C2000 620 2035 700 2035 790C2035 840 2000 880 1960 880L850 885L270 885C225 885 190 850 190 820Z"/>
<path d="M598 452C588 420 620 390 700 358C800 318 900 295 1000 295C1150 300 1300 380 1360 468C1368 485 1357 497 1340 497L660 492C630 490 605 476 598 452Z" fill="#fff"/>
<circle cx="590" cy="840" r="264" fill="#fff"/><circle cx="590" cy="840" r="203"/><circle cx="590" cy="840" r="132" fill="#fff"/>
<circle cx="1625" cy="840" r="264" fill="#fff"/><circle cx="1625" cy="840" r="203"/><circle cx="1625" cy="840" r="132" fill="#fff"/>
</g>
<g transform="translate(550,1395) scale(0.07103)" fill="#666">
<rect x="100" y="1320" width="1725" height="115" rx="57"/>
<rect x="320" y="1112" width="186" height="220"/><rect x="386" y="650" width="46" height="470"/>
<rect x="1505" y="1197" width="126" height="135"/><rect x="1545" y="660" width="43" height="540"/>
<path d="M265 605L1190 225L1460 165L1620 655L1545 690L1215 350L310 715Z"/>
<path d="M820 500L912 460L680 1325H590ZM938 455L1015 425L1270 1325H1180Z"/>
<path d="M852 648L1045 790M1002 648L812 790" stroke="#666" stroke-width="34" fill="none"/>
<path d="M800 845L1105 1025M1055 845L750 1025M745 1070L1180 1310M1115 1070L685 1310" stroke="#666" stroke-width="42" fill="none"/>
</g>
<g transform="translate(985,1395) scale(0.08731)" fill="#666">
<rect x="82" y="1103" width="936" height="63" rx="8"/>
<rect x="152" y="218" width="197" height="106" rx="12"/>
<path d="M175 322H322L345 1000H400V750L595 612V745L788 612V745L980 612L986 1105H148Z"/>
<rect x="468" y="825" width="85" height="66" rx="12" fill="#fff"/><rect x="660" y="825" width="85" height="66" rx="12" fill="#fff"/><rect x="828" y="825" width="87" height="66" rx="12" fill="#fff"/>
</g>
<g transform="translate(985,1395) scale(0.08731)" fill="#666">
<path d="M1515 800L1625 675V1158A8 8 0 0 1 1617 1166H1523A8 8 0 0 1 1515 1158Z"/>
<path d="M1450 470C1380 330 1330 180 1343 112C1353 66 1400 60 1440 100C1510 170 1590 300 1627 387C1560 370 1490 400 1450 470Z"/>
<path d="M1665 423C1800 440 1960 490 2015 540C2045 570 2020 610 1960 625C1860 645 1720 635 1625 615C1680 570 1695 490 1665 423Z"/>
<path d="M1435 535C1350 650 1280 780 1272 850C1270 890 1300 905 1350 880C1420 845 1530 730 1600 640C1520 640 1455 600 1435 535Z"/>
<circle cx="1567" cy="498" r="72"/><circle cx="1567" cy="498" r="34" fill="#fff"/>
</g>
<g transform="translate(1170,1395) scale(0.07100)" fill="#666">
<circle cx="590" cy="477" r="140"/>
<path transform="rotate(0 590 477)" d="M590 138C600 180 620 230 618 257C616 285 600 298 590 298C580 298 564 285 562 257C560 230 580 180 590 138Z"/>
<path transform="rotate(45 590 477)" d="M590 138C600 180 620 230 618 257C616 285 600 298 590 298C580 298 564 285 562 257C560 230 580 180 590 138Z"/>
<path transform="rotate(90 590 477)" d="M590 138C600 180 620 230 618 257C616 285 600 298 590 298C580 298 564 285 562 257C560 230 580 180 590 138Z"/>
<path transform="rotate(135 590 477)" d="M590 138C600 180 620 230 618 257C616 285 600 298 590 298C580 298 564 285 562 257C560 230 580 180 590 138Z"/>
<path transform="rotate(180 590 477)" d="M590 138C600 180 620 230 618 257C616 285 600 298 590 298C580 298 564 285 562 257C560 230 580 180 590 138Z"/>
<path transform="rotate(225 590 477)" d="M590 138C600 180 620 230 618 257C616 285 600 298 590 298C580 298 564 285 562 257C560 230 580 180 590 138Z"/>
<path transform="rotate(270 590 477)" d="M590 138C600 180 620 230 618 257C616 285 600 298 590 298C580 298 564 285 562 257C560 230 580 180 590 138Z"/>
<path transform="rotate(315 590 477)" d="M590 138C600 180 620 230 618 257C616 285 600 298 590 298C580 298 564 285 562 257C560 230 580 180 590 138Z"/>
<path d="M458 1022H665C700 1022 720 1005 740 988L868 882H665C630 882 610 895 590 912Z" stroke="#666" stroke-width="14" stroke-linejoin="round"/>
<path d="M795 1022H1002C1037 1022 1057 1005 1077 988L1205 882H1002C967 882 947 895 927 912Z" stroke="#666" stroke-width="14" stroke-linejoin="round"/>
<path d="M1132 1022H1339C1374 1022 1394 1005 1414 988L1542 882H1339C1304 882 1284 895 1264 912Z" stroke="#666" stroke-width="14" stroke-linejoin="round"/>
<path d="M238 1220H445C480 1220 500 1203 520 1186L648 1080H445C410 1080 390 1093 370 1110Z" stroke="#666" stroke-width="14" stroke-linejoin="round"/>
<path d="M575 1220H782C817 1220 837 1203 857 1186L985 1080H782C747 1080 727 1093 707 1110Z" stroke="#666" stroke-width="14" stroke-linejoin="round"/>
<path d="M912 1220H1119C1154 1220 1174 1203 1194 1186L1322 1080H1119C1084 1080 1064 1093 1044 1110Z" stroke="#666" stroke-width="14" stroke-linejoin="round"/>
<rect x="650" y="1255" width="68" height="180" rx="5"/>
</g>
<g transform="translate(1555.6,1395) scale(0.07103)" fill="#666">
<rect x="100" y="1320" width="1725" height="115" rx="57"/>
<rect x="320" y="1112" width="186" height="220"/><rect x="386" y="650" width="46" height="470"/>
<rect x="1505" y="1197" width="126" height="135"/><rect x="1545" y="660" width="43" height="540"/>
<path d="M265 605L1190 225L1460 165L1620 655L1545 690L1215 350L310 715Z"/>
<path d="M820 500L912 460L680 1325H590ZM938 455L1015 425L1270 1325H1180Z"/>
<path d="M852 648L1045 790M1002 648L812 790" stroke="#666" stroke-width="34" fill="none"/>
<path d="M800 845L1105 1025M1055 845L750 1025M745 1070L1180 1310M1115 1070L685 1310" stroke="#666" stroke-width="42" fill="none"/>
</g>
<g transform="translate(1720,1430) scale(0.06434)" fill="#666">
<path d="M190 585C240 530 310 505 372 495C470 365 650 235 950 235C1250 235 1385 380 1505 495C1700 505 1850 530 1920 570C2000 620 2035 700 2035 790C2035 840 2000 880 1960 880L850 885L270 885C225 885 190 850 190 820Z"/>
<path d="M598 452C588 420 620 390 700 358C800 318 900 295 1000 295C1150 300 1300 380 1360 468C1368 485 1357 497 1340 497L660 492C630 490 605 476 598 452Z" fill="#fff"/>
<circle cx="590" cy="840" r="264" fill="#fff"/><circle cx="590" cy="840" r="203"/><circle cx="590" cy="840" r="132" fill="#fff"/>
<circle cx="1625" cy="840" r="264" fill="#fff"/><circle cx="1625" cy="840" r="203"/><circle cx="1625" cy="840" r="132" fill="#fff"/>
</g>
<g transform="translate(1889,1395) scale(0.08731)" fill="#666">
<rect x="82" y="1103" width="936" height="63" rx="8"/>
<rect x="152" y="218" width="197" height="106" rx="12"/>
<path d="M175 322H322L345 1000H400V750L595 612V745L788 612V745L980 612L986 1105H148Z"/>
<rect x="468" y="825" width="85" height="66" rx="12" fill="#fff"/><rect x="660" y="825" width="85" height="66" rx="12" fill="#fff"/><rect x="828" y="825" width="87" height="66" rx="12" fill="#fff"/>
</g>
<g transform="translate(1889,1395) scale(0.08731)" fill="#666">
<path d="M1515 800L1625 675V1158A8 8 0 0 1 1617 1166H1523A8 8 0 0 1 1515 1158Z"/>
<path d="M1450 470C1380 330 1330 180 1343 112C1353 66 1400 60 1440 100C1510 170 1590 300 1627 387C1560 370 1490 400 1450 470Z"/>
<path d="M1665 423C1800 440 1960 490 2015 540C2045 570 2020 610 1960 625C1860 645 1720 635 1625 615C1680 570 1695 490 1665 423Z"/>
<path d="M1435 535C1350 650 1280 780 1272 850C1270 890 1300 905 1350 880C1420 845 1530 730 1600 640C1520 640 1455 600 1435 535Z"/>
<circle cx="1567" cy="498" r="72"/><circle cx="1567" cy="498" r="34" fill="#fff"/>
</g>
<g transform="translate(2065.5,1395) scale(0.07100)" fill="#666">
<circle cx="590" cy="477" r="140"/>
<path transform="rotate(0 590 477)" d="M590 138C600 180 620 230 618 257C616 285 600 298 590 298C580 298 564 285 562 257C560 230 580 180 590 138Z"/>
<path transform="rotate(45 590 477)" d="M590 138C600 180 620 230 618 257C616 285 600 298 590 298C580 298 564 285 562 257C560 230 580 180 590 138Z"/>
<path transform="rotate(90 590 477)" d="M590 138C600 180 620 230 618 257C616 285 600 298 590 298C580 298 564 285 562 257C560 230 580 180 590 138Z"/>
<path transform="rotate(135 590 477)" d="M590 138C600 180 620 230 618 257C616 285 600 298 590 298C580 298 564 285 562 257C560 230 580 180 590 138Z"/>
<path transform="rotate(180 590 477)" d="M590 138C600 180 620 230 618 257C616 285 600 298 590 298C580 298 564 285 562 257C560 230 580 180 590 138Z"/>
<path transform="rotate(225 590 477)" d="M590 138C600 180 620 230 618 257C616 285 600 298 590 298C580 298 564 285 562 257C560 230 580 180 590 138Z"/>
<path transform="rotate(270 590 477)" d="M590 138C600 180 620 230 618 257C616 285 600 298 590 298C580 298 564 285 562 257C560 230 580 180 590 138Z"/>
<path transform="rotate(315 590 477)" d="M590 138C600 180 620 230 618 257C616 285 600 298 590 298C580 298 564 285 562 257C560 230 580 180 590 138Z"/>
<path d="M458 1022H665C700 1022 720 1005 740 988L868 882H665C630 882 610 895 590 912Z" stroke="#666" stroke-width="14" stroke-linejoin="round"/>
<path d="M795 1022H1002C1037 1022 1057 1005 1077 988L1205 882H1002C967 882 947 895 927 912Z" stroke="#666" stroke-width="14" stroke-linejoin="round"/>
<path d="M1132 1022H1339C1374 1022 1394 1005 1414 988L1542 882H1339C1304 882 1284 895 1264 912Z" stroke="#666" stroke-width="14" stroke-linejoin="round"/>
<path d="M238 1220H445C480 1220 500 1203 520 1186L648 1080H445C410 1080 390 1093 370 1110Z" stroke="#666" stroke-width="14" stroke-linejoin="round"/>
<path d="M575 1220H782C817 1220 837 1203 857 1186L985 1080H782C747 1080 727 1093 707 1110Z" stroke="#666" stroke-width="14" stroke-linejoin="round"/>
<path d="M912 1220H1119C1154 1220 1174 1203 1194 1186L1322 1080H1119C1084 1080 1064 1093 1044 1110Z" stroke="#666" stroke-width="14" stroke-linejoin="round"/>
<rect x="650" y="1255" width="68" height="180" rx="5"/>
</g>
</g>
</svg>
</body></html>
